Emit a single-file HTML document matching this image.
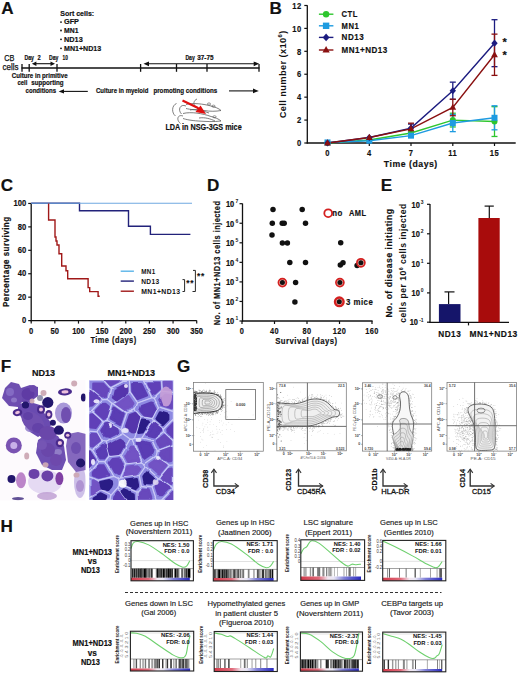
<!DOCTYPE html>
<html><head><meta charset="utf-8"><style>
html,body{margin:0;padding:0;background:#fff;}
svg{display:block;font-family:"Liberation Sans", sans-serif;}
</style></head><body>
<svg width="520" height="674" viewBox="0 0 520 674">
<rect width="520" height="674" fill="#fff"/>
<text x="1.2" y="14" font-size="17.1" font-weight="bold" text-anchor="start" fill="#111" stroke="#111" stroke-width="0.18">A</text>
<text x="269.5" y="13.6" font-size="17.1" font-weight="bold" text-anchor="start" fill="#111" stroke="#111" stroke-width="0.18">B</text>
<text x="0.8" y="191.3" font-size="17.1" font-weight="bold" text-anchor="start" fill="#111" stroke="#111" stroke-width="0.18">C</text>
<text x="207" y="191.3" font-size="17.1" font-weight="bold" text-anchor="start" fill="#111" stroke="#111" stroke-width="0.18">D</text>
<text x="380.8" y="191.1" font-size="17.1" font-weight="bold" text-anchor="start" fill="#111" stroke="#111" stroke-width="0.18">E</text>
<text x="0.8" y="371.5" font-size="17.1" font-weight="bold" text-anchor="start" fill="#111" stroke="#111" stroke-width="0.18">F</text>
<text x="177" y="371.5" font-size="17.1" font-weight="bold" text-anchor="start" fill="#111" stroke="#111" stroke-width="0.18">G</text>
<text x="0.5" y="532.2" font-size="17.1" font-weight="bold" text-anchor="start" fill="#111" stroke="#111" stroke-width="0.18">H</text>
<text x="60.2" y="16" font-size="7.6" font-weight="bold" text-anchor="start" fill="#111" stroke="#111" stroke-width="0.18" textLength="34" lengthAdjust="spacingAndGlyphs">Sort cells:</text>
<circle cx="61.0" cy="22.099999999999998" r="0.9" fill="#111"/>
<text x="64" y="24.4" font-size="7.6" font-weight="bold" text-anchor="start" fill="#111" stroke="#111" stroke-width="0.18" textLength="15" lengthAdjust="spacingAndGlyphs">GFP</text>
<circle cx="61.0" cy="30.499999999999996" r="0.9" fill="#111"/>
<text x="64" y="32.8" font-size="7.6" font-weight="bold" text-anchor="start" fill="#111" stroke="#111" stroke-width="0.18" textLength="14.5" lengthAdjust="spacingAndGlyphs">MN1</text>
<circle cx="61.0" cy="39.300000000000004" r="0.9" fill="#111"/>
<text x="64" y="41.6" font-size="7.6" font-weight="bold" text-anchor="start" fill="#111" stroke="#111" stroke-width="0.18" textLength="18.7" lengthAdjust="spacingAndGlyphs">ND13</text>
<circle cx="61.0" cy="48.300000000000004" r="0.9" fill="#111"/>
<text x="64" y="50.6" font-size="7.6" font-weight="bold" text-anchor="start" fill="#111" stroke="#111" stroke-width="0.18" textLength="37.2" lengthAdjust="spacingAndGlyphs">MN1+ND13</text>
<text x="4.3" y="60.7" font-size="8.8" font-weight="normal" text-anchor="start" fill="#111" stroke="#111" stroke-width="0.25" textLength="10.2" lengthAdjust="spacingAndGlyphs">CB</text>
<text x="2.6" y="69.5" font-size="8.8" font-weight="normal" text-anchor="start" fill="#111" stroke="#111" stroke-width="0.25" textLength="16" lengthAdjust="spacingAndGlyphs">cells</text>
<line x1="21.5" y1="68" x2="259.5" y2="68" stroke="#111" stroke-width="1.6"/>
<line x1="22" y1="64" x2="22" y2="71.8" stroke="#111" stroke-width="1.3"/>
<line x1="29.2" y1="64" x2="29.2" y2="71.8" stroke="#111" stroke-width="1.3"/>
<line x1="57" y1="64" x2="57" y2="71.8" stroke="#111" stroke-width="1.3"/>
<line x1="140.6" y1="64" x2="140.6" y2="71.8" stroke="#111" stroke-width="1.3"/>
<line x1="176.5" y1="64" x2="176.5" y2="71.8" stroke="#111" stroke-width="1.3"/>
<line x1="207" y1="64" x2="207" y2="71.8" stroke="#111" stroke-width="1.3"/>
<line x1="259" y1="64" x2="259" y2="71.8" stroke="#111" stroke-width="1.3"/>
<text x="24.4" y="59.8" font-size="6.6" font-weight="bold" text-anchor="start" fill="#111" stroke="#111" stroke-width="0.18" textLength="9.6" lengthAdjust="spacingAndGlyphs">Day</text>
<text x="37.6" y="59.8" font-size="6.6" font-weight="bold" text-anchor="start" fill="#111" stroke="#111" stroke-width="0.18" textLength="3.2" lengthAdjust="spacingAndGlyphs">2</text>
<text x="49" y="59.8" font-size="6.6" font-weight="bold" text-anchor="start" fill="#111" stroke="#111" stroke-width="0.18" textLength="9.4" lengthAdjust="spacingAndGlyphs">Day</text>
<text x="62.5" y="59.8" font-size="6.6" font-weight="bold" text-anchor="start" fill="#111" stroke="#111" stroke-width="0.18" textLength="5.4" lengthAdjust="spacingAndGlyphs">10</text>
<text x="185.4" y="60.4" font-size="6.6" font-weight="bold" text-anchor="start" fill="#111" stroke="#111" stroke-width="0.18" textLength="9.4" lengthAdjust="spacingAndGlyphs">Day</text>
<text x="197.2" y="60.4" font-size="6.6" font-weight="bold" text-anchor="start" fill="#111" stroke="#111" stroke-width="0.18" textLength="16.3" lengthAdjust="spacingAndGlyphs">37-75</text>
<line x1="35.9" y1="63.7" x2="51.0" y2="63.7" stroke="#111" stroke-width="1.1"/>
<path d="M31.9,63.7 L36.4,61.5 L36.4,65.9 Z" fill="#111"/>
<path d="M55,63.7 L50.5,61.5 L50.5,65.9 Z" fill="#111"/>
<line x1="148.5" y1="63.8" x2="254.2" y2="63.8" stroke="#111" stroke-width="1.1"/>
<path d="M143.5,63.8 L149.0,61.4 L149.0,66.2 Z" fill="#111"/>
<path d="M259.2,63.8 L253.7,61.4 L253.7,66.2 Z" fill="#111"/>
<text x="11.8" y="78.2" font-size="6.6" font-weight="bold" text-anchor="start" fill="#111" stroke="#111" stroke-width="0.18" textLength="55.8" lengthAdjust="spacingAndGlyphs">Culture in primitive</text>
<text x="17.5" y="85.2" font-size="6.6" font-weight="bold" text-anchor="start" fill="#111" stroke="#111" stroke-width="0.18" textLength="9.8" lengthAdjust="spacingAndGlyphs">cell</text>
<text x="31.3" y="85.2" font-size="6.6" font-weight="bold" text-anchor="start" fill="#111" stroke="#111" stroke-width="0.18" textLength="32.3" lengthAdjust="spacingAndGlyphs">supporting</text>
<text x="25.6" y="92.8" font-size="6.6" font-weight="bold" text-anchor="start" fill="#111" stroke="#111" stroke-width="0.18" textLength="30.5" lengthAdjust="spacingAndGlyphs">conditions</text>
<line x1="63" y1="91.4" x2="87.8" y2="91.4" stroke="#111" stroke-width="1.1"/>
<path d="M58.6,91.4 L64,89.2 L64,93.6 Z" fill="#111"/>
<text x="96.0" y="92.6" font-size="6.6" font-weight="bold" text-anchor="start" fill="#111" stroke="#111" stroke-width="0.18" textLength="52.3" lengthAdjust="spacingAndGlyphs">Culture in myeloid</text>
<text x="153.4" y="92.6" font-size="6.6" font-weight="bold" text-anchor="start" fill="#111" stroke="#111" stroke-width="0.18" textLength="63.8" lengthAdjust="spacingAndGlyphs">promoting conditions</text>
<line x1="229" y1="90.9" x2="254" y2="90.9" stroke="#111" stroke-width="1.1"/>
<path d="M258.8,90.9 L253,88.6 L253,93.2 Z" fill="#111"/>
<text x="165.4" y="129.6" font-size="8.4" font-weight="bold" text-anchor="start" fill="#111" stroke="#111" stroke-width="0.18" textLength="76.3" lengthAdjust="spacingAndGlyphs">LDA in NSG-3GS mice</text>
<path d="M186,104.5 C192,102.5 204,104 211,106 C215,107 219,108.5 221,110.5 C216,111.5 210,111.5 204,110.5 C196,110 190,109.5 186,108.5" stroke="#555" stroke-width="0.75" fill="none"/>
<path d="M183,113.5 C191,111.5 203,113.5 211,116.5 C215,117.5 219,119 221,121 C214,122 206,121.5 198,121 C191,120.5 186,119.5 183,118.5" stroke="#555" stroke-width="0.75" fill="none"/>
<path d="M186,106 C180,103.5 177.5,110 181.5,114" stroke="#555" stroke-width="0.75" fill="none"/>
<path d="M183,116 C177.5,114 176,120 180.5,123.5" stroke="#555" stroke-width="0.75" fill="none"/>
<path d="M176.5,103.5 C171.5,105.5 171.5,113 175.5,116" stroke="#555" stroke-width="0.75" fill="none"/>
<path d="M197,99 C193.5,100.5 193,104 195.5,106.5" stroke="#555" stroke-width="0.75" fill="none"/>
<path d="M190,110 C196,108.5 203,111 209,113" stroke="#555" stroke-width="0.75" fill="none"/>
<path d="M199,118 C205,117 211,119 215,121" stroke="#555" stroke-width="0.75" fill="none"/>
<ellipse cx="213.5" cy="106.2" rx="1.6" ry="1.1" fill="none" stroke="#555" stroke-width="0.6"/>
<ellipse cx="214.5" cy="116.8" rx="1.6" ry="1.1" fill="none" stroke="#555" stroke-width="0.6"/>
<ellipse cx="209" cy="104" rx="1.6" ry="1.1" fill="none" stroke="#555" stroke-width="0.6"/>
<path d="M182.5,100.5 L197,107.5 L201.5,111" stroke="#e01010" stroke-width="2.2" fill="none"/>
<path d="M206,114 L195.5,112 L200.5,105.5 Z" fill="#e01010"/>
<line x1="307.3" y1="5.3" x2="307.3" y2="143.6" stroke="#111" stroke-width="1.3"/>
<line x1="306.7" y1="143.0" x2="515.7" y2="143.0" stroke="#111" stroke-width="1.3"/>
<line x1="304.3" y1="143.0" x2="307.3" y2="143.0" stroke="#111" stroke-width="1.2"/>
<text x="301.6" y="146.2" font-size="9.41" font-weight="bold" text-anchor="end" fill="#111" stroke="#111" stroke-width="0.18" textLength="4.67" lengthAdjust="spacingAndGlyphs" letter-spacing="0.56">0</text>
<line x1="304.3" y1="120.08" x2="307.3" y2="120.08" stroke="#111" stroke-width="1.2"/>
<text x="301.6" y="123.28" font-size="9.41" font-weight="bold" text-anchor="end" fill="#111" stroke="#111" stroke-width="0.18" textLength="4.67" lengthAdjust="spacingAndGlyphs" letter-spacing="0.56">2</text>
<line x1="304.3" y1="97.16" x2="307.3" y2="97.16" stroke="#111" stroke-width="1.2"/>
<text x="301.6" y="100.36" font-size="9.41" font-weight="bold" text-anchor="end" fill="#111" stroke="#111" stroke-width="0.18" textLength="4.67" lengthAdjust="spacingAndGlyphs" letter-spacing="0.56">4</text>
<line x1="304.3" y1="74.24" x2="307.3" y2="74.24" stroke="#111" stroke-width="1.2"/>
<text x="301.6" y="77.44" font-size="9.41" font-weight="bold" text-anchor="end" fill="#111" stroke="#111" stroke-width="0.18" textLength="4.67" lengthAdjust="spacingAndGlyphs" letter-spacing="0.56">6</text>
<line x1="304.3" y1="51.31999999999999" x2="307.3" y2="51.31999999999999" stroke="#111" stroke-width="1.2"/>
<text x="301.6" y="54.519999999999996" font-size="9.41" font-weight="bold" text-anchor="end" fill="#111" stroke="#111" stroke-width="0.18" textLength="4.67" lengthAdjust="spacingAndGlyphs" letter-spacing="0.56">8</text>
<line x1="304.3" y1="28.39999999999999" x2="307.3" y2="28.39999999999999" stroke="#111" stroke-width="1.2"/>
<text x="301.6" y="31.59999999999999" font-size="9.41" font-weight="bold" text-anchor="end" fill="#111" stroke="#111" stroke-width="0.18" textLength="9.34" lengthAdjust="spacingAndGlyphs" letter-spacing="0.56">10</text>
<line x1="304.3" y1="5.47999999999999" x2="307.3" y2="5.47999999999999" stroke="#111" stroke-width="1.2"/>
<text x="301.6" y="8.679999999999989" font-size="9.41" font-weight="bold" text-anchor="end" fill="#111" stroke="#111" stroke-width="0.18" textLength="9.34" lengthAdjust="spacingAndGlyphs" letter-spacing="0.56">12</text>
<line x1="327.5" y1="143.0" x2="327.5" y2="146.0" stroke="#111" stroke-width="1.2"/>
<text x="327.5" y="156.4" font-size="9.41" font-weight="bold" text-anchor="middle" fill="#111" stroke="#111" stroke-width="0.18" textLength="4.67" lengthAdjust="spacingAndGlyphs" letter-spacing="0.56">0</text>
<line x1="369.3" y1="143.0" x2="369.3" y2="146.0" stroke="#111" stroke-width="1.2"/>
<text x="369.3" y="156.4" font-size="9.41" font-weight="bold" text-anchor="middle" fill="#111" stroke="#111" stroke-width="0.18" textLength="4.67" lengthAdjust="spacingAndGlyphs" letter-spacing="0.56">4</text>
<line x1="411.0" y1="143.0" x2="411.0" y2="146.0" stroke="#111" stroke-width="1.2"/>
<text x="411.0" y="156.4" font-size="9.41" font-weight="bold" text-anchor="middle" fill="#111" stroke="#111" stroke-width="0.18" textLength="4.67" lengthAdjust="spacingAndGlyphs" letter-spacing="0.56">7</text>
<line x1="452.8" y1="143.0" x2="452.8" y2="146.0" stroke="#111" stroke-width="1.2"/>
<text x="452.8" y="156.4" font-size="9.41" font-weight="bold" text-anchor="middle" fill="#111" stroke="#111" stroke-width="0.18" textLength="8.88" lengthAdjust="spacingAndGlyphs" letter-spacing="0.56">11</text>
<line x1="494.5" y1="143.0" x2="494.5" y2="146.0" stroke="#111" stroke-width="1.2"/>
<text x="494.5" y="156.4" font-size="9.41" font-weight="bold" text-anchor="middle" fill="#111" stroke="#111" stroke-width="0.18" textLength="9.34" lengthAdjust="spacingAndGlyphs" letter-spacing="0.56">15</text>
<text x="383.8" y="166.7" font-size="9.66" font-weight="bold" text-anchor="start" fill="#111" stroke="#111" stroke-width="0.18" textLength="54" lengthAdjust="spacingAndGlyphs" letter-spacing="0.58">Time (days)</text>
<text x="285.6" y="118.3" font-size="9.4" font-weight="bold" fill="#111" transform="rotate(-90 285.6 118.3)" textLength="88" lengthAdjust="spacingAndGlyphs" letter-spacing="0.4">Cell number (x10<tspan dy="-3.4" font-size="6">6</tspan><tspan dy="3.4">)</tspan></text>
<polyline points="327.5,143.0 369.3,140.0204 411.0,133.0298 452.8,120.08 494.5,121.5698" fill="none" stroke="#2ec62e" stroke-width="1.4"/>
<line x1="452.8" y1="126.956" x2="452.8" y2="113.204" stroke="#2ec62e" stroke-width="1.3"/>
<line x1="449.8" y1="113.204" x2="455.8" y2="113.204" stroke="#2ec62e" stroke-width="1.3"/>
<line x1="449.8" y1="126.956" x2="455.8" y2="126.956" stroke="#2ec62e" stroke-width="1.3"/>
<line x1="494.5" y1="136.4678" x2="494.5" y2="106.67179999999999" stroke="#2ec62e" stroke-width="1.3"/>
<line x1="491.5" y1="106.67179999999999" x2="497.5" y2="106.67179999999999" stroke="#2ec62e" stroke-width="1.3"/>
<line x1="491.5" y1="136.4678" x2="497.5" y2="136.4678" stroke="#2ec62e" stroke-width="1.3"/>
<polyline points="327.5,142.427 369.3,140.708 411.0,135.6656 452.8,123.0596 494.5,117.788" fill="none" stroke="#1e9be0" stroke-width="1.4"/>
<line x1="452.8" y1="131.6546" x2="452.8" y2="114.46459999999999" stroke="#1e9be0" stroke-width="1.3"/>
<line x1="449.8" y1="114.46459999999999" x2="455.8" y2="114.46459999999999" stroke="#1e9be0" stroke-width="1.3"/>
<line x1="449.8" y1="131.6546" x2="455.8" y2="131.6546" stroke="#1e9be0" stroke-width="1.3"/>
<line x1="494.5" y1="129.821" x2="494.5" y2="105.755" stroke="#1e9be0" stroke-width="1.3"/>
<line x1="491.5" y1="105.755" x2="497.5" y2="105.755" stroke="#1e9be0" stroke-width="1.3"/>
<line x1="491.5" y1="129.821" x2="497.5" y2="129.821" stroke="#1e9be0" stroke-width="1.3"/>
<polyline points="327.5,143.0 369.3,137.4992 411.0,128.102 452.8,90.7424 494.5,43.18339999999998" fill="none" stroke="#1c1c80" stroke-width="1.4"/>
<line x1="411.0" y1="132.113" x2="411.0" y2="124.09100000000001" stroke="#1c1c80" stroke-width="1.3"/>
<line x1="408.0" y1="124.09100000000001" x2="414.0" y2="124.09100000000001" stroke="#1c1c80" stroke-width="1.3"/>
<line x1="408.0" y1="132.113" x2="414.0" y2="132.113" stroke="#1c1c80" stroke-width="1.3"/>
<line x1="452.8" y1="99.3374" x2="452.8" y2="82.1474" stroke="#1c1c80" stroke-width="1.3"/>
<line x1="449.8" y1="82.1474" x2="455.8" y2="82.1474" stroke="#1c1c80" stroke-width="1.3"/>
<line x1="449.8" y1="99.3374" x2="455.8" y2="99.3374" stroke="#1c1c80" stroke-width="1.3"/>
<line x1="494.5" y1="66.67639999999999" x2="494.5" y2="19.69039999999997" stroke="#1c1c80" stroke-width="1.3"/>
<line x1="491.5" y1="19.69039999999997" x2="497.5" y2="19.69039999999997" stroke="#1c1c80" stroke-width="1.3"/>
<line x1="491.5" y1="66.67639999999999" x2="497.5" y2="66.67639999999999" stroke="#1c1c80" stroke-width="1.3"/>
<polyline points="327.5,143.0 369.3,137.4992 411.0,128.9042 452.8,107.47399999999999 494.5,54.757999999999996" fill="none" stroke="#8a1010" stroke-width="1.4"/>
<line x1="411.0" y1="134.6342" x2="411.0" y2="123.1742" stroke="#8a1010" stroke-width="1.3"/>
<line x1="408.0" y1="123.1742" x2="414.0" y2="123.1742" stroke="#8a1010" stroke-width="1.3"/>
<line x1="408.0" y1="134.6342" x2="414.0" y2="134.6342" stroke="#8a1010" stroke-width="1.3"/>
<line x1="452.8" y1="115.7252" x2="452.8" y2="99.22279999999999" stroke="#8a1010" stroke-width="1.3"/>
<line x1="449.8" y1="99.22279999999999" x2="455.8" y2="99.22279999999999" stroke="#8a1010" stroke-width="1.3"/>
<line x1="449.8" y1="115.7252" x2="455.8" y2="115.7252" stroke="#8a1010" stroke-width="1.3"/>
<line x1="494.5" y1="75.386" x2="494.5" y2="34.129999999999995" stroke="#8a1010" stroke-width="1.3"/>
<line x1="491.5" y1="34.129999999999995" x2="497.5" y2="34.129999999999995" stroke="#8a1010" stroke-width="1.3"/>
<line x1="491.5" y1="75.386" x2="497.5" y2="75.386" stroke="#8a1010" stroke-width="1.3"/>
<circle cx="327.5" cy="143.0" r="3.0" fill="#2ec62e"/>
<circle cx="369.3" cy="140.0204" r="3.0" fill="#2ec62e"/>
<circle cx="411.0" cy="133.0298" r="3.0" fill="#2ec62e"/>
<circle cx="452.8" cy="120.08" r="3.0" fill="#2ec62e"/>
<circle cx="494.5" cy="121.5698" r="3.0" fill="#2ec62e"/>
<rect x="324.5" y="139.427" width="6.0" height="6.0" fill="#1e9be0"/>
<rect x="366.3" y="137.708" width="6.0" height="6.0" fill="#1e9be0"/>
<rect x="408.0" y="132.6656" width="6.0" height="6.0" fill="#1e9be0"/>
<rect x="449.8" y="120.0596" width="6.0" height="6.0" fill="#1e9be0"/>
<rect x="491.5" y="114.788" width="6.0" height="6.0" fill="#1e9be0"/>
<path d="M327.5,139.4 L330.7,143.0 L327.5,146.6 L324.3,143.0 Z" fill="#1c1c80"/>
<path d="M369.3,133.8992 L372.5,137.4992 L369.3,141.0992 L366.1,137.4992 Z" fill="#1c1c80"/>
<path d="M411.0,124.50200000000001 L414.2,128.102 L411.0,131.702 L407.8,128.102 Z" fill="#1c1c80"/>
<path d="M452.8,87.14240000000001 L456.0,90.7424 L452.8,94.3424 L449.6,90.7424 Z" fill="#1c1c80"/>
<path d="M494.5,39.583399999999976 L497.7,43.18339999999998 L494.5,46.78339999999998 L491.3,43.18339999999998 Z" fill="#1c1c80"/>
<path d="M327.5,139.2 L330.9,145.4 L324.1,145.4 Z" fill="#8a1010"/>
<path d="M369.3,133.6992 L372.7,139.8992 L365.90000000000003,139.8992 Z" fill="#8a1010"/>
<path d="M411.0,125.1042 L414.4,131.3042 L407.6,131.3042 Z" fill="#8a1010"/>
<path d="M452.8,103.67399999999999 L456.2,109.874 L449.40000000000003,109.874 Z" fill="#8a1010"/>
<path d="M494.5,50.958 L497.9,57.157999999999994 L491.1,57.157999999999994 Z" fill="#8a1010"/>
<text x="504.6" y="46.3" font-size="11.0" font-weight="bold" text-anchor="middle" fill="#111" stroke="#111" stroke-width="0.18">*</text>
<text x="504.6" y="59.4" font-size="11.0" font-weight="bold" text-anchor="middle" fill="#111" stroke="#111" stroke-width="0.18">*</text>
<line x1="318.9" y1="14.2" x2="333.4" y2="14.2" stroke="#2ec62e" stroke-width="1.4"/>
<circle cx="326.1" cy="14.2" r="3.2" fill="#2ec62e"/>
<text x="341.6" y="17.2" font-size="9.43" font-weight="bold" text-anchor="start" fill="#111" stroke="#111" stroke-width="0.18" textLength="16.3" lengthAdjust="spacingAndGlyphs" letter-spacing="0.57">CTL</text>
<line x1="318.9" y1="25.8" x2="333.4" y2="25.8" stroke="#1e9be0" stroke-width="1.4"/>
<rect x="322.90000000000003" y="22.6" width="6.4" height="6.4" fill="#1e9be0"/>
<text x="341.6" y="28.8" font-size="9.43" font-weight="bold" text-anchor="start" fill="#111" stroke="#111" stroke-width="0.18" textLength="17.5" lengthAdjust="spacingAndGlyphs" letter-spacing="0.57">MN1</text>
<line x1="318.9" y1="37.4" x2="333.4" y2="37.4" stroke="#1c1c80" stroke-width="1.4"/>
<path d="M326.1,33.599999999999994 L329.5,37.4 L326.1,41.2 L322.70000000000005,37.4 Z" fill="#1c1c80"/>
<text x="341.6" y="40.4" font-size="9.43" font-weight="bold" text-anchor="start" fill="#111" stroke="#111" stroke-width="0.18" textLength="22.5" lengthAdjust="spacingAndGlyphs" letter-spacing="0.57">ND13</text>
<line x1="318.9" y1="50" x2="333.4" y2="50" stroke="#8a1010" stroke-width="1.4"/>
<path d="M326.1,46.0 L329.7,52.56 L322.50000000000006,52.56 Z" fill="#8a1010"/>
<text x="341.6" y="53.0" font-size="9.43" font-weight="bold" text-anchor="start" fill="#111" stroke="#111" stroke-width="0.18" textLength="46.2" lengthAdjust="spacingAndGlyphs" letter-spacing="0.57">MN1+ND13</text>
<line x1="31.2" y1="203.1" x2="31.2" y2="321.20000000000005" stroke="#111" stroke-width="1.3"/>
<line x1="30.599999999999998" y1="320.6" x2="196.8" y2="320.6" stroke="#111" stroke-width="1.3"/>
<line x1="28.2" y1="320.6" x2="31.2" y2="320.6" stroke="#111" stroke-width="1.2"/>
<text x="26.2" y="323.3" font-size="9.43" font-weight="bold" text-anchor="end" fill="#111" stroke="#111" stroke-width="0.18" textLength="4.24" lengthAdjust="spacingAndGlyphs" letter-spacing="0">0</text>
<line x1="28.2" y1="297.17" x2="31.2" y2="297.17" stroke="#111" stroke-width="1.2"/>
<text x="26.2" y="299.87" font-size="9.43" font-weight="bold" text-anchor="end" fill="#111" stroke="#111" stroke-width="0.18" textLength="8.48" lengthAdjust="spacingAndGlyphs" letter-spacing="0">20</text>
<line x1="28.2" y1="273.74" x2="31.2" y2="273.74" stroke="#111" stroke-width="1.2"/>
<text x="26.2" y="276.44" font-size="9.43" font-weight="bold" text-anchor="end" fill="#111" stroke="#111" stroke-width="0.18" textLength="8.48" lengthAdjust="spacingAndGlyphs" letter-spacing="0">40</text>
<line x1="28.2" y1="250.31000000000003" x2="31.2" y2="250.31000000000003" stroke="#111" stroke-width="1.2"/>
<text x="26.2" y="253.01000000000002" font-size="9.43" font-weight="bold" text-anchor="end" fill="#111" stroke="#111" stroke-width="0.18" textLength="8.48" lengthAdjust="spacingAndGlyphs" letter-spacing="0">60</text>
<line x1="28.2" y1="226.88000000000002" x2="31.2" y2="226.88000000000002" stroke="#111" stroke-width="1.2"/>
<text x="26.2" y="229.58" font-size="9.43" font-weight="bold" text-anchor="end" fill="#111" stroke="#111" stroke-width="0.18" textLength="8.48" lengthAdjust="spacingAndGlyphs" letter-spacing="0">80</text>
<line x1="28.2" y1="203.45000000000002" x2="31.2" y2="203.45000000000002" stroke="#111" stroke-width="1.2"/>
<text x="26.2" y="206.15" font-size="9.43" font-weight="bold" text-anchor="end" fill="#111" stroke="#111" stroke-width="0.18" textLength="12.72" lengthAdjust="spacingAndGlyphs" letter-spacing="0">100</text>
<line x1="31.2" y1="320.6" x2="31.2" y2="323.6" stroke="#111" stroke-width="1.2"/>
<text x="31.2" y="333.5" font-size="9.43" font-weight="bold" text-anchor="middle" fill="#111" stroke="#111" stroke-width="0.18" textLength="4.24" lengthAdjust="spacingAndGlyphs" letter-spacing="0">0</text>
<line x1="54.845" y1="320.6" x2="54.845" y2="323.6" stroke="#111" stroke-width="1.2"/>
<text x="54.845" y="333.5" font-size="9.43" font-weight="bold" text-anchor="middle" fill="#111" stroke="#111" stroke-width="0.18" textLength="8.48" lengthAdjust="spacingAndGlyphs" letter-spacing="0">50</text>
<line x1="78.49" y1="320.6" x2="78.49" y2="323.6" stroke="#111" stroke-width="1.2"/>
<text x="78.49" y="333.5" font-size="9.43" font-weight="bold" text-anchor="middle" fill="#111" stroke="#111" stroke-width="0.18" textLength="12.72" lengthAdjust="spacingAndGlyphs" letter-spacing="0">100</text>
<line x1="102.135" y1="320.6" x2="102.135" y2="323.6" stroke="#111" stroke-width="1.2"/>
<text x="102.135" y="333.5" font-size="9.43" font-weight="bold" text-anchor="middle" fill="#111" stroke="#111" stroke-width="0.18" textLength="12.72" lengthAdjust="spacingAndGlyphs" letter-spacing="0">150</text>
<line x1="125.78" y1="320.6" x2="125.78" y2="323.6" stroke="#111" stroke-width="1.2"/>
<text x="125.78" y="333.5" font-size="9.43" font-weight="bold" text-anchor="middle" fill="#111" stroke="#111" stroke-width="0.18" textLength="12.72" lengthAdjust="spacingAndGlyphs" letter-spacing="0">200</text>
<line x1="149.42499999999998" y1="320.6" x2="149.42499999999998" y2="323.6" stroke="#111" stroke-width="1.2"/>
<text x="149.42499999999998" y="333.5" font-size="9.43" font-weight="bold" text-anchor="middle" fill="#111" stroke="#111" stroke-width="0.18" textLength="12.72" lengthAdjust="spacingAndGlyphs" letter-spacing="0">250</text>
<line x1="173.07" y1="320.6" x2="173.07" y2="323.6" stroke="#111" stroke-width="1.2"/>
<text x="173.07" y="333.5" font-size="9.43" font-weight="bold" text-anchor="middle" fill="#111" stroke="#111" stroke-width="0.18" textLength="12.72" lengthAdjust="spacingAndGlyphs" letter-spacing="0">300</text>
<line x1="196.71499999999997" y1="320.6" x2="196.71499999999997" y2="323.6" stroke="#111" stroke-width="1.2"/>
<text x="196.71499999999997" y="333.5" font-size="9.43" font-weight="bold" text-anchor="middle" fill="#111" stroke="#111" stroke-width="0.18" textLength="12.72" lengthAdjust="spacingAndGlyphs" letter-spacing="0">350</text>
<text x="90.4" y="342.7" font-size="9.41" font-weight="bold" text-anchor="start" fill="#111" stroke="#111" stroke-width="0.18" textLength="46.2" lengthAdjust="spacingAndGlyphs" letter-spacing="0.56">Time (days)</text>
<text x="9.4" y="307.0" font-size="9.18" font-weight="bold" text-anchor="start" fill="#111" stroke="#111" stroke-width="0.18" textLength="90.6" lengthAdjust="spacingAndGlyphs" letter-spacing="0.55" transform="rotate(-90 9.4 307.0)">Percentage surviving</text>
<path d="M31.2,203.3 L79.5,203.3 L79.5,210.8 L128.5,210.8 L128.5,226.3 L150.4,226.3 L150.4,234.4 L190.4,234.4" stroke="#22227a" stroke-width="1.4" fill="none"/>
<path d="M31.2,203.3 L192,203.3" stroke="#6fa8e0" stroke-width="1.1" fill="none"/>
<path d="M48.6,203.4 L48.6,220 L55,220 L55,237 L56,237 L56,241 L57,241 L57,245 L59,245 L59,253.7 L61.7,253.7 L61.7,266 L66,266 L66,270.7 L67.7,270.7 L67.7,278.8 L88.1,278.8 L88.1,287.6 L89.7,287.6 L89.7,291.6 L98.1,291.6 L98.1,296.2 L99.7,296.2" stroke="#a01818" stroke-width="1.4" fill="none"/>
<line x1="120.7" y1="271.2" x2="133.9" y2="271.2" stroke="#5ab4e8" stroke-width="1.4"/>
<text x="141.2" y="273.7" font-size="7.82" font-weight="bold" text-anchor="start" fill="#111" textLength="14.5" lengthAdjust="spacingAndGlyphs" letter-spacing="0.47">MN1</text>
<line x1="120.7" y1="281.1" x2="133.9" y2="281.1" stroke="#22227a" stroke-width="1.4"/>
<text x="141.2" y="283.6" font-size="7.82" font-weight="bold" text-anchor="start" fill="#111" textLength="18.5" lengthAdjust="spacingAndGlyphs" letter-spacing="0.47">ND13</text>
<line x1="120.7" y1="291.2" x2="133.9" y2="291.2" stroke="#a01818" stroke-width="1.4"/>
<text x="141.2" y="293.7" font-size="7.82" font-weight="bold" text-anchor="start" fill="#111" textLength="39.4" lengthAdjust="spacingAndGlyphs" letter-spacing="0.47">MN1+ND13</text>
<path d="M182.5,279.6 L184.6,279.6 L184.6,291.5 L182.5,291.5" stroke="#111" stroke-width="0.9" fill="none"/>
<path d="M193,270.4 L195.4,270.4 L195.4,291.5 L192.5,291.5" stroke="#111" stroke-width="0.9" fill="none"/>
<text x="187.9" y="286.4" font-size="8.4" font-weight="bold" text-anchor="middle" fill="#111" stroke="#111" stroke-width="0.1">*</text>
<text x="191.9" y="286.4" font-size="8.4" font-weight="bold" text-anchor="middle" fill="#111" stroke="#111" stroke-width="0.1">*</text>
<text x="198.6" y="278.6" font-size="8.4" font-weight="bold" text-anchor="middle" fill="#111" stroke="#111" stroke-width="0.1">*</text>
<text x="202.6" y="278.6" font-size="8.4" font-weight="bold" text-anchor="middle" fill="#111" stroke="#111" stroke-width="0.1">*</text>
<line x1="242.5" y1="203.5" x2="242.5" y2="321.6" stroke="#111" stroke-width="1.3"/>
<line x1="241.9" y1="321.0" x2="372.6" y2="321.0" stroke="#111" stroke-width="1.3"/>
<line x1="239.5" y1="203.7" x2="242.5" y2="203.7" stroke="#111" stroke-width="1.2"/>
<text x="234.2" y="206.95" font-size="9" font-weight="bold" fill="#111" stroke="#111" stroke-width="0.22" text-anchor="end" textLength="8.3" lengthAdjust="spacingAndGlyphs">10</text>
<text x="238.2" y="203.1" font-size="5" font-weight="bold" fill="#222" text-anchor="end">7</text>
<line x1="239.5" y1="223.25" x2="242.5" y2="223.25" stroke="#111" stroke-width="1.2"/>
<text x="234.2" y="226.5" font-size="9" font-weight="bold" fill="#111" stroke="#111" stroke-width="0.22" text-anchor="end" textLength="8.3" lengthAdjust="spacingAndGlyphs">10</text>
<text x="238.2" y="222.65" font-size="5" font-weight="bold" fill="#222" text-anchor="end">6</text>
<line x1="239.5" y1="242.79999999999998" x2="242.5" y2="242.79999999999998" stroke="#111" stroke-width="1.2"/>
<text x="234.2" y="246.04999999999998" font-size="9" font-weight="bold" fill="#111" stroke="#111" stroke-width="0.22" text-anchor="end" textLength="8.3" lengthAdjust="spacingAndGlyphs">10</text>
<text x="238.2" y="242.2" font-size="5" font-weight="bold" fill="#222" text-anchor="end">5</text>
<line x1="239.5" y1="262.35" x2="242.5" y2="262.35" stroke="#111" stroke-width="1.2"/>
<text x="234.2" y="265.6" font-size="9" font-weight="bold" fill="#111" stroke="#111" stroke-width="0.22" text-anchor="end" textLength="8.3" lengthAdjust="spacingAndGlyphs">10</text>
<text x="238.2" y="261.75" font-size="5" font-weight="bold" fill="#222" text-anchor="end">4</text>
<line x1="239.5" y1="281.9" x2="242.5" y2="281.9" stroke="#111" stroke-width="1.2"/>
<text x="234.2" y="285.15" font-size="9" font-weight="bold" fill="#111" stroke="#111" stroke-width="0.22" text-anchor="end" textLength="8.3" lengthAdjust="spacingAndGlyphs">10</text>
<text x="238.2" y="281.29999999999995" font-size="5" font-weight="bold" fill="#222" text-anchor="end">3</text>
<line x1="239.5" y1="301.45" x2="242.5" y2="301.45" stroke="#111" stroke-width="1.2"/>
<text x="234.2" y="304.7" font-size="9" font-weight="bold" fill="#111" stroke="#111" stroke-width="0.22" text-anchor="end" textLength="8.3" lengthAdjust="spacingAndGlyphs">10</text>
<text x="238.2" y="300.84999999999997" font-size="5" font-weight="bold" fill="#222" text-anchor="end">2</text>
<line x1="239.5" y1="321.0" x2="242.5" y2="321.0" stroke="#111" stroke-width="1.2"/>
<text x="234.2" y="324.25" font-size="9" font-weight="bold" fill="#111" stroke="#111" stroke-width="0.22" text-anchor="end" textLength="8.3" lengthAdjust="spacingAndGlyphs">10</text>
<text x="238.2" y="320.4" font-size="5" font-weight="bold" fill="#222" text-anchor="end">1</text>
<line x1="242.0" y1="321.0" x2="242.0" y2="324.0" stroke="#111" stroke-width="1.2"/>
<text x="242.0" y="333.7" font-size="9.51" font-weight="bold" text-anchor="middle" fill="#111" stroke="#111" stroke-width="0.18" textLength="4.56" lengthAdjust="spacingAndGlyphs" letter-spacing="0.57">0</text>
<line x1="274.5" y1="321.0" x2="274.5" y2="324.0" stroke="#111" stroke-width="1.2"/>
<text x="274.5" y="333.7" font-size="9.51" font-weight="bold" text-anchor="middle" fill="#111" stroke="#111" stroke-width="0.18" textLength="9.12" lengthAdjust="spacingAndGlyphs" letter-spacing="0.57">40</text>
<line x1="307.0" y1="321.0" x2="307.0" y2="324.0" stroke="#111" stroke-width="1.2"/>
<text x="307.0" y="333.7" font-size="9.51" font-weight="bold" text-anchor="middle" fill="#111" stroke="#111" stroke-width="0.18" textLength="9.12" lengthAdjust="spacingAndGlyphs" letter-spacing="0.57">80</text>
<line x1="339.5" y1="321.0" x2="339.5" y2="324.0" stroke="#111" stroke-width="1.2"/>
<text x="339.5" y="333.7" font-size="9.51" font-weight="bold" text-anchor="middle" fill="#111" stroke="#111" stroke-width="0.18" textLength="13.68" lengthAdjust="spacingAndGlyphs" letter-spacing="0.57">120</text>
<line x1="372.0" y1="321.0" x2="372.0" y2="324.0" stroke="#111" stroke-width="1.2"/>
<text x="372.0" y="333.7" font-size="9.51" font-weight="bold" text-anchor="middle" fill="#111" stroke="#111" stroke-width="0.18" textLength="13.68" lengthAdjust="spacingAndGlyphs" letter-spacing="0.57">160</text>
<text x="275.2" y="344.4" font-size="9.63" font-weight="bold" text-anchor="start" fill="#111" stroke="#111" stroke-width="0.18" textLength="62.4" lengthAdjust="spacingAndGlyphs" letter-spacing="0.58">Survival (days)</text>
<text x="220.4" y="325.2" font-size="9.18" font-weight="bold" text-anchor="start" fill="#111" stroke="#111" stroke-width="0.18" textLength="124.6" lengthAdjust="spacingAndGlyphs" letter-spacing="0.55" transform="rotate(-90 220.4 325.2)">No. of MN1+ND13 cells injected</text>
<circle cx="273" cy="209.5" r="2.75" fill="#111"/>
<circle cx="302.2" cy="209.5" r="2.75" fill="#111"/>
<circle cx="272.3" cy="223.3" r="2.75" fill="#111"/>
<circle cx="282.2" cy="223.3" r="2.75" fill="#111"/>
<circle cx="284.2" cy="223.3" r="2.75" fill="#111"/>
<circle cx="305.5" cy="223.3" r="2.75" fill="#111"/>
<circle cx="272" cy="235.1" r="2.75" fill="#111"/>
<circle cx="282.4" cy="243" r="2.75" fill="#111"/>
<circle cx="287.4" cy="243" r="2.75" fill="#111"/>
<circle cx="289.8" cy="262.5" r="2.75" fill="#111"/>
<circle cx="305.5" cy="262.5" r="2.75" fill="#111"/>
<circle cx="295.6" cy="282.6" r="2.75" fill="#111"/>
<circle cx="294.9" cy="302.1" r="2.75" fill="#111"/>
<circle cx="340.7" cy="242.8" r="2.75" fill="#111"/>
<circle cx="340.3" cy="265" r="2.75" fill="#111"/>
<circle cx="343" cy="262.8" r="2.75" fill="#111"/>
<circle cx="357.1" cy="265.5" r="2.75" fill="#111"/>
<circle cx="282.4" cy="282.6" r="4.0" fill="#e8b0a8" stroke="#d42020" stroke-width="1.7"/>
<circle cx="282.4" cy="282.6" r="2.5" fill="#111"/>
<circle cx="360.9" cy="262.8" r="4.0" fill="#e8b0a8" stroke="#d42020" stroke-width="1.7"/>
<circle cx="360.9" cy="262.8" r="2.5" fill="#111"/>
<circle cx="339.9" cy="282.6" r="4.0" fill="#e8b0a8" stroke="#d42020" stroke-width="1.7"/>
<circle cx="339.9" cy="282.6" r="2.5" fill="#111"/>
<circle cx="339.3" cy="301.8" r="4.3" fill="#e8b0a8" stroke="#d42020" stroke-width="2.4"/>
<circle cx="339.3" cy="301.8" r="2.5" fill="#111"/>
<circle cx="328.2" cy="213.2" r="3.9" fill="none" stroke="#d42020" stroke-width="1.8"/>
<text x="332.2" y="216.1" font-size="8.96" font-weight="bold" text-anchor="start" fill="#111" stroke="#111" stroke-width="0.18" textLength="10.6" lengthAdjust="spacingAndGlyphs" letter-spacing="0.54">no</text>
<text x="349.0" y="216.1" font-size="8.96" font-weight="bold" text-anchor="start" fill="#111" stroke="#111" stroke-width="0.18" textLength="17.5" lengthAdjust="spacingAndGlyphs" letter-spacing="0.54">AML</text>
<text x="346.0" y="305.2" font-size="9.5" font-weight="bold" text-anchor="start" fill="#111" stroke="#111" stroke-width="0.18" textLength="27.3" lengthAdjust="spacingAndGlyphs" letter-spacing="0.57">3 mice</text>
<line x1="430.0" y1="204.0" x2="430.0" y2="323.0" stroke="#111" stroke-width="1.3"/>
<line x1="429.4" y1="322.4" x2="509" y2="322.4" stroke="#111" stroke-width="1.3"/>
<line x1="427" y1="204.3" x2="430.0" y2="204.3" stroke="#111" stroke-width="1.2"/>
<text x="419.8" y="207.55" font-size="9" font-weight="bold" fill="#111" stroke="#111" stroke-width="0.22" text-anchor="end" textLength="8.3" lengthAdjust="spacingAndGlyphs">10</text>
<text x="423.6" y="203.70000000000002" font-size="5" font-weight="bold" fill="#222" text-anchor="end">3</text>
<line x1="427" y1="233.8" x2="430.0" y2="233.8" stroke="#111" stroke-width="1.2"/>
<text x="419.8" y="237.05" font-size="9" font-weight="bold" fill="#111" stroke="#111" stroke-width="0.22" text-anchor="end" textLength="8.3" lengthAdjust="spacingAndGlyphs">10</text>
<text x="423.6" y="233.20000000000002" font-size="5" font-weight="bold" fill="#222" text-anchor="end">2</text>
<line x1="427" y1="263.3" x2="430.0" y2="263.3" stroke="#111" stroke-width="1.2"/>
<text x="419.8" y="266.55" font-size="9" font-weight="bold" fill="#111" stroke="#111" stroke-width="0.22" text-anchor="end" textLength="8.3" lengthAdjust="spacingAndGlyphs">10</text>
<text x="423.6" y="262.7" font-size="5" font-weight="bold" fill="#222" text-anchor="end">1</text>
<line x1="427" y1="292.9" x2="430.0" y2="292.9" stroke="#111" stroke-width="1.2"/>
<text x="419.8" y="296.15" font-size="9" font-weight="bold" fill="#111" stroke="#111" stroke-width="0.22" text-anchor="end" textLength="8.3" lengthAdjust="spacingAndGlyphs">10</text>
<text x="423.6" y="292.29999999999995" font-size="5" font-weight="bold" fill="#222" text-anchor="end">0</text>
<line x1="427" y1="322.2" x2="430.0" y2="322.2" stroke="#111" stroke-width="1.2"/>
<text x="418.0" y="325.45" font-size="9" font-weight="bold" fill="#111" stroke="#111" stroke-width="0.22" text-anchor="end" textLength="8.3" lengthAdjust="spacingAndGlyphs">10</text>
<text x="423.6" y="321.59999999999997" font-size="5" font-weight="bold" fill="#222" text-anchor="end">-1</text>
<line x1="468.5" y1="322.4" x2="468.5" y2="325.4" stroke="#111" stroke-width="1.2"/>
<rect x="438.9" y="304.1" width="21.6" height="18.3" fill="#15156a"/>
<line x1="448.6" y1="304.1" x2="448.6" y2="291.9" stroke="#111" stroke-width="1.2"/>
<line x1="444.5" y1="291.9" x2="454.5" y2="291.9" stroke="#111" stroke-width="1.2"/>
<rect x="478.4" y="218" width="21.3" height="104.4" fill="#a80c0c"/>
<line x1="489.3" y1="218" x2="489.3" y2="206.1" stroke="#111" stroke-width="1.2"/>
<line x1="484.6" y1="206.1" x2="493.8" y2="206.1" stroke="#111" stroke-width="1.2"/>
<text x="438.3" y="337.1" font-size="9.86" font-weight="bold" text-anchor="start" fill="#111" stroke="#111" stroke-width="0.18" textLength="22.9" lengthAdjust="spacingAndGlyphs" letter-spacing="0.59">ND13</text>
<text x="469.4" y="337.1" font-size="9.86" font-weight="bold" text-anchor="start" fill="#111" stroke="#111" stroke-width="0.18" textLength="48.4" lengthAdjust="spacingAndGlyphs" letter-spacing="0.59">MN1+ND13</text>
<text x="392.4" y="317.6" font-size="9.18" font-weight="bold" text-anchor="start" fill="#111" stroke="#111" stroke-width="0.18" textLength="109" lengthAdjust="spacingAndGlyphs" letter-spacing="0.55" transform="rotate(-90 392.4 317.6)">No. of disease initiating</text>
<text x="405.9" y="322.8" font-size="9.2" font-weight="bold" fill="#111" transform="rotate(-90 405.9 322.8)" textLength="119.5" lengthAdjust="spacingAndGlyphs" letter-spacing="0.55">cells per 10<tspan dy="-3.3" font-size="5.5">6</tspan><tspan dy="3.3"> cells injected</tspan></text>
<text x="31.9" y="376.0" font-size="8.8" font-weight="bold" text-anchor="start" fill="#111" stroke="#111" stroke-width="0.18" textLength="23.1" lengthAdjust="spacingAndGlyphs">ND13</text>
<text x="107.5" y="376.3" font-size="8.8" font-weight="bold" text-anchor="start" fill="#111" stroke="#111" stroke-width="0.18" textLength="47.5" lengthAdjust="spacingAndGlyphs">MN1+ND13</text>
<defs><filter id="bl1" x="-20%" y="-20%" width="140%" height="140%"><feGaussianBlur stdDeviation="0.7"/></filter><filter id="bl2" x="-5%" y="-5%" width="110%" height="110%"><feTurbulence type="fractalNoise" baseFrequency="0.07" numOctaves="1" seed="3" result="n"/><feDisplacementMap in="SourceGraphic" in2="n" scale="4" xChannelSelector="R" yChannelSelector="G" result="d"/><feGaussianBlur in="d" stdDeviation="0.6"/></filter><clipPath id="cpL"><rect x="0" y="380" width="85.5" height="120.5"/></clipPath><clipPath id="cpR"><rect x="89" y="380.2" width="84.3" height="119.8"/></clipPath></defs>
<g clip-path="url(#cpL)"><g filter="url(#bl1)"><rect x="0" y="380" width="86" height="121" fill="#fdfafd"/><ellipse cx="45" cy="482" rx="17" ry="12" fill="#e4d8f2" opacity="0.95" transform="rotate(0 45 482)"/><ellipse cx="80" cy="482" rx="6" ry="16" fill="#c8b8e6" opacity="0.9" transform="rotate(0 80 482)"/><ellipse cx="63.5" cy="413" rx="8.5" ry="10.5" fill="#a898d8" opacity="1" transform="rotate(0 63.5 413)"/><path d="M68,434 L78,432 L86,434 L86,470 L76,472 L68,462 L66,446 Z" fill="#7e60ba" opacity="0.95"/><ellipse cx="76" cy="448" rx="5" ry="6" fill="#6c4cae" opacity="0.9" transform="rotate(0 76 448)"/><ellipse cx="47" cy="496" rx="10" ry="4" fill="#c0a0d4" opacity="0.85" transform="rotate(0 47 496)"/><path d="M18,404 L30,402 L40,405 L46,416 L52,424 L46,432 L38,437 L30,432 L24,422 L18,412 Z" fill="#6a4cb0" opacity="1"/><path d="M38,440 L48,433 L58,436 L64,446 L66,460 L62,470 L52,470 L42,465 L36,453 Z" fill="#6e50b2" opacity="1"/><ellipse cx="30" cy="428" rx="5" ry="4" fill="#8a74c8" opacity="0.8" transform="rotate(0 30 428)"/><ellipse cx="58" cy="452" rx="4" ry="3" fill="#a090d0" opacity="0.7" transform="rotate(0 58 452)"/><path d="M21,388 L30,385 L38,387 L38,396 L30,402 L22,402 Z" fill="#6a4aae" opacity="1"/><path d="M2,398 L5,388 L11,382 L19,384 L23,392 L22,402 L18,407 L9,406 Z" fill="#6e4eb0" opacity="1"/><ellipse cx="10" cy="392" rx="4" ry="4" fill="#8a72c8" opacity="0.8" transform="rotate(0 10 392)"/><ellipse cx="14" cy="400" rx="3" ry="2.5" fill="#9a86d0" opacity="0.7" transform="rotate(0 14 400)"/><ellipse cx="28" cy="394" rx="6.5" ry="6" fill="#5e3aa4" opacity="1" transform="rotate(0 28 394)"/><ellipse cx="33" cy="388.5" rx="3.5" ry="3.5" fill="#6a46ac" opacity="1" transform="rotate(0 33 388.5)"/><ellipse cx="33" cy="422" rx="13" ry="8.5" fill="#7050b0" opacity="1" transform="rotate(40 33 422)"/><ellipse cx="28" cy="416" rx="5" ry="4" fill="#6040a6" opacity="1" transform="rotate(0 28 416)"/><ellipse cx="38" cy="428" rx="6" ry="5" fill="#6442a8" opacity="1" transform="rotate(0 38 428)"/><ellipse cx="48" cy="433" rx="9" ry="7" fill="#6a46aa" opacity="1" transform="rotate(0 48 433)"/><ellipse cx="66" cy="415" rx="5" ry="8" fill="#7050b0" opacity="1" transform="rotate(0 66 415)"/><ellipse cx="48" cy="450" rx="7" ry="7" fill="#6a46aa" opacity="1" transform="rotate(0 48 450)"/><ellipse cx="56" cy="460" rx="6" ry="6" fill="#6e4aac" opacity="1" transform="rotate(0 56 460)"/><ellipse cx="42" cy="445" rx="5" ry="5" fill="#7454b4" opacity="1" transform="rotate(0 42 445)"/><ellipse cx="13.8" cy="445.4" rx="8" ry="8" fill="#7a52b2" opacity="1" transform="rotate(0 13.8 445.4)"/><ellipse cx="13.8" cy="445.4" rx="3.5" ry="3.5" fill="#c8b0e8" opacity="1" transform="rotate(0 13.8 445.4)"/><ellipse cx="34" cy="473.9" rx="5.5" ry="5" fill="#6a40a8" opacity="1" transform="rotate(0 34 473.9)"/><ellipse cx="47.4" cy="475.9" rx="6" ry="5.5" fill="#6a40a8" opacity="1" transform="rotate(0 47.4 475.9)"/><ellipse cx="59.4" cy="478.6" rx="4" ry="6.5" fill="#8040a4" opacity="1" transform="rotate(0 59.4 478.6)"/><ellipse cx="21" cy="480.3" rx="5" ry="8" fill="#b070c0" opacity="0.85" transform="rotate(0 21 480.3)"/><ellipse cx="80" cy="486" rx="4" ry="6" fill="#a888cc" opacity="0.8" transform="rotate(0 80 486)"/><ellipse cx="47.8" cy="402.5" rx="5.6" ry="5.4" fill="#22146c" opacity="1" transform="rotate(0 47.8 402.5)"/><ellipse cx="25.5" cy="405" rx="3.6" ry="3.6" fill="#22146c" opacity="1" transform="rotate(0 25.5 405)"/><ellipse cx="52.9" cy="422.8" rx="3" ry="3" fill="#22146c" opacity="1" transform="rotate(0 52.9 422.8)"/><ellipse cx="58.9" cy="430.2" rx="5" ry="4.6" fill="#22146c" opacity="1" transform="rotate(0 58.9 430.2)"/><ellipse cx="80.6" cy="463" rx="4.6" ry="4.4" fill="#22146c" opacity="1" transform="rotate(0 80.6 463)"/><ellipse cx="11.5" cy="479" rx="4" ry="4" fill="#22146c" opacity="1" transform="rotate(0 11.5 479)"/><ellipse cx="83.4" cy="397.4" rx="2.5" ry="4" fill="#22146c" opacity="1" transform="rotate(0 83.4 397.4)"/><ellipse cx="17.5" cy="412.5" rx="4.8" ry="3.6" fill="#4a2a8c" opacity="1" transform="rotate(-10 17.5 412.5)"/><ellipse cx="17.5" cy="412.5" rx="2.4" ry="1.62" fill="#ecc0dc" opacity="1" transform="rotate(-10 17.5 412.5)"/><ellipse cx="41" cy="409.5" rx="4" ry="4.2" fill="#4a2a8c" opacity="1" transform="rotate(0 41 409.5)"/><ellipse cx="41" cy="409.5" rx="2.0" ry="1.8900000000000001" fill="#ecc0dc" opacity="1" transform="rotate(0 41 409.5)"/><ellipse cx="48.8" cy="414.5" rx="3.6" ry="4.6" fill="#4a2a8c" opacity="1" transform="rotate(0 48.8 414.5)"/><ellipse cx="48.8" cy="414.5" rx="1.8" ry="2.07" fill="#ecc0dc" opacity="1" transform="rotate(0 48.8 414.5)"/><ellipse cx="65" cy="391.9" rx="7" ry="3.5" fill="#4a2a8c" opacity="1" transform="rotate(-4 65 391.9)"/><ellipse cx="65" cy="391.9" rx="3.5" ry="1.575" fill="#ecc0dc" opacity="1" transform="rotate(-4 65 391.9)"/><ellipse cx="59.9" cy="443" rx="4.2" ry="4.2" fill="#4a2a8c" opacity="1" transform="rotate(0 59.9 443)"/><ellipse cx="59.9" cy="443" rx="2.1" ry="1.8900000000000001" fill="#ecc0dc" opacity="1" transform="rotate(0 59.9 443)"/><ellipse cx="67.7" cy="435.2" rx="3.5" ry="3.5" fill="#4a2a8c" opacity="1" transform="rotate(0 67.7 435.2)"/><ellipse cx="67.7" cy="435.2" rx="1.75" ry="1.575" fill="#ecc0dc" opacity="1" transform="rotate(0 67.7 435.2)"/><ellipse cx="43.5" cy="393" rx="3" ry="3" fill="#cca8b4" opacity="0.95" transform="rotate(0 43.5 393)"/><ellipse cx="74.2" cy="383.5" rx="3" ry="3" fill="#cca8b4" opacity="0.95" transform="rotate(0 74.2 383.5)"/><ellipse cx="26.7" cy="456" rx="2.5" ry="3.5" fill="#cca8b4" opacity="0.95" transform="rotate(0 26.7 456)"/><ellipse cx="45.5" cy="464.8" rx="3" ry="2.6" fill="#cca8b4" opacity="0.95" transform="rotate(0 45.5 464.8)"/><ellipse cx="76.5" cy="475" rx="3" ry="2.6" fill="#cca8b4" opacity="0.95" transform="rotate(0 76.5 475)"/><ellipse cx="32" cy="401" rx="2.5" ry="2.5" fill="#cca8b4" opacity="0.95" transform="rotate(0 32 401)"/><ellipse cx="40" cy="398" rx="3" ry="3" fill="#8888a8" opacity="0.9" transform="rotate(0 40 398)"/><ellipse cx="18" cy="498.7" rx="6" ry="1.6" fill="#5a4890" opacity="0.95" transform="rotate(0 18 498.7)"/></g></g>
<g clip-path="url(#cpR)"><rect x="89" y="380" width="85" height="121" fill="#b4b2ee"/><g filter="url(#bl2)"><rect x="89" y="380" width="85" height="121" fill="#c6c4f2"/><path d="M110.6,387.8 L103.7,380.2 L89.0,380.2 L89.0,388.5 L102.9,399.9 L108.0,399.4 L110.6,387.8 Z" fill="#8e8ae2" stroke="#cacaf6" stroke-width="1.1"/><path d="M113.5,403.6 L129.9,391.8 L129.4,380.2 L125.5,380.2 L110.6,387.8 L108.0,399.4 L113.0,403.5 L113.5,403.6 Z" fill="#8e8ae2" stroke="#cacaf6" stroke-width="1.1"/><path d="M137.7,403.0 L152.0,397.8 L143.3,380.2 L129.4,380.2 L129.9,391.8 L137.7,403.0 Z" fill="#8e8ae2" stroke="#cacaf6" stroke-width="1.1"/><path d="M152.0,397.8 L154.4,398.4 L162.3,391.2 L161.8,380.2 L143.3,380.2 L152.0,397.8 Z" fill="#8e8ae2" stroke="#cacaf6" stroke-width="1.1"/><path d="M126.9,413.0 L135.0,409.9 L137.7,403.0 L129.9,391.8 L113.5,403.6 L126.9,413.0 Z" fill="#8e8ae2" stroke="#cacaf6" stroke-width="1.1"/><path d="M108.0,399.4 L102.9,399.9 L91.8,411.4 L103.3,422.2 L107.1,421.5 L113.0,403.5 L108.0,399.4 Z" fill="#8e8ae2" stroke="#cacaf6" stroke-width="1.1"/><path d="M107.1,421.5 L121.2,429.8 L126.9,413.0 L113.5,403.6 L113.0,403.5 L107.1,421.5 Z" fill="#8e8ae2" stroke="#cacaf6" stroke-width="1.1"/><path d="M152.4,418.7 L158.5,406.8 L154.4,398.4 L152.0,397.8 L137.7,403.0 L135.0,409.9 L141.3,416.9 L152.4,418.7 Z" fill="#8e8ae2" stroke="#cacaf6" stroke-width="1.1"/><path d="M122.7,433.8 L130.1,439.1 L133.2,439.4 L134.5,438.8 L141.3,416.9 L135.0,409.9 L126.9,413.0 L121.2,429.8 L122.7,433.8 Z" fill="#8e8ae2" stroke="#cacaf6" stroke-width="1.1"/><path d="M89.0,411.7 L89.0,431.2 L96.9,431.7 L103.3,422.2 L91.8,411.4 L89.0,411.7 Z" fill="#8e8ae2" stroke="#cacaf6" stroke-width="1.1"/><path d="M103.3,422.2 L96.9,431.7 L102.2,441.3 L106.3,442.3 L122.7,433.8 L121.2,429.8 L107.1,421.5 L103.3,422.2 Z" fill="#8e8ae2" stroke="#cacaf6" stroke-width="1.1"/><path d="M141.7,438.0 L152.4,440.8 L163.7,431.6 L163.6,429.2 L153.3,420.8 L141.7,438.0 Z" fill="#8e8ae2" stroke="#cacaf6" stroke-width="1.1"/><path d="M110.0,456.4 L121.1,455.1 L130.1,439.1 L122.7,433.8 L106.3,442.3 L110.0,456.4 Z" fill="#8e8ae2" stroke="#cacaf6" stroke-width="1.1"/><path d="M91.3,450.3 L98.5,461.6 L105.9,461.7 L110.0,456.4 L106.3,442.3 L102.2,441.3 L91.3,450.3 Z" fill="#8e8ae2" stroke="#cacaf6" stroke-width="1.1"/><path d="M125.6,464.0 L142.2,461.9 L133.2,439.4 L130.1,439.1 L121.1,455.1 L125.6,464.0 Z" fill="#8e8ae2" stroke="#cacaf6" stroke-width="1.1"/><path d="M145.0,463.9 L156.1,456.2 L157.3,451.8 L152.4,440.8 L141.7,438.0 L134.5,438.8 L133.2,439.4 L142.2,461.9 L145.0,463.9 Z" fill="#8e8ae2" stroke="#cacaf6" stroke-width="1.1"/><path d="M163.7,431.6 L152.4,440.8 L157.3,451.8 L173.3,445.8 L173.3,440.9 L163.7,431.6 Z" fill="#8e8ae2" stroke="#cacaf6" stroke-width="1.1"/><path d="M98.1,480.3 L114.0,476.4 L105.9,461.7 L98.5,461.6 L89.0,472.5 L89.0,476.7 L98.1,480.3 Z" fill="#8e8ae2" stroke="#cacaf6" stroke-width="1.1"/><path d="M110.0,456.4 L105.9,461.7 L114.0,476.4 L118.7,478.8 L119.4,478.2 L125.6,464.0 L121.1,455.1 L110.0,456.4 Z" fill="#8e8ae2" stroke="#cacaf6" stroke-width="1.1"/><path d="M119.4,478.2 L139.3,475.5 L145.3,466.7 L145.0,463.9 L142.2,461.9 L125.6,464.0 L119.4,478.2 Z" fill="#8e8ae2" stroke="#cacaf6" stroke-width="1.1"/><path d="M158.1,477.9 L159.1,477.9 L169.6,465.3 L156.1,456.2 L145.0,463.9 L145.3,466.7 L158.1,477.9 Z" fill="#8e8ae2" stroke="#cacaf6" stroke-width="1.1"/><path d="M156.0,500.0 L160.8,500.0 L173.0,487.8 L159.1,477.9 L158.1,477.9 L152.0,487.8 L156.0,500.0 Z" fill="#8e8ae2" stroke="#cacaf6" stroke-width="1.1"/><path d="M100.7,490.8 L98.1,480.3 L89.0,476.7 L89.0,498.0 L100.7,490.8 Z" fill="#8e8ae2" stroke="#cacaf6" stroke-width="1.1"/><path d="M152.0,487.8 L141.4,486.4 L136.9,491.2 L137.3,500.0 L156.0,500.0 L152.0,487.8 Z" fill="#8e8ae2" stroke="#cacaf6" stroke-width="1.1"/><path d="M163.6,429.2 L173.3,419.2 L173.3,411.4 L158.5,406.8 L152.4,418.7 L153.3,420.8 L163.6,429.2 Z" fill="#8e8ae2" stroke="#cacaf6" stroke-width="1.1"/><path d="M119.4,478.2 L118.7,478.8 L119.2,483.5 L136.9,491.2 L141.4,486.4 L139.3,475.5 L119.4,478.2 Z" fill="#8e8ae2" stroke="#cacaf6" stroke-width="1.1"/><path d="M136.9,491.2 L119.2,483.5 L117.8,487.6 L126.8,500.0 L137.3,500.0 L136.9,491.2 Z" fill="#8e8ae2" stroke="#cacaf6" stroke-width="1.1"/><path d="M118.7,478.8 L114.0,476.4 L98.1,480.3 L100.7,490.8 L110.8,495.6 L117.8,487.6 L119.2,483.5 L118.7,478.8 Z" fill="#8e8ae2" stroke="#cacaf6" stroke-width="1.1"/><path d="M139.3,475.5 L141.4,486.4 L152.0,487.8 L158.1,477.9 L145.3,466.7 L139.3,475.5 Z" fill="#8e8ae2" stroke="#cacaf6" stroke-width="1.1"/><path d="M89.0,498.0 L89.0,500.0 L110.2,500.0 L110.8,495.6 L100.7,490.8 L89.0,498.0 Z" fill="#8e8ae2" stroke="#cacaf6" stroke-width="1.1"/><path d="M134.5,438.8 L141.7,438.0 L153.3,420.8 L152.4,418.7 L141.3,416.9 L134.5,438.8 Z" fill="#8e8ae2" stroke="#cacaf6" stroke-width="1.1"/><path d="M162.3,391.2 L154.4,398.4 L158.5,406.8 L173.3,411.4 L173.3,392.5 L162.3,391.2 Z" fill="#8e8ae2" stroke="#cacaf6" stroke-width="1.1"/><path d="M89.0,388.5 L89.0,411.7 L91.8,411.4 L102.9,399.9 L89.0,388.5 Z" fill="#8e8ae2" stroke="#cacaf6" stroke-width="1.1"/><path d="M173.3,487.8 L173.3,464.8 L169.6,465.3 L159.1,477.9 L173.0,487.8 L173.3,487.8 Z" fill="#8e8ae2" stroke="#cacaf6" stroke-width="1.1"/><path d="M91.3,450.3 L102.2,441.3 L96.9,431.7 L89.0,431.2 L89.0,449.8 L91.3,450.3 Z" fill="#8e8ae2" stroke="#cacaf6" stroke-width="1.1"/><path d="M156.1,456.2 L169.6,465.3 L173.3,464.8 L173.3,445.8 L157.3,451.8 L156.1,456.2 Z" fill="#8e8ae2" stroke="#cacaf6" stroke-width="1.1"/><path d="M110.6,387.8 L125.5,380.2 L103.7,380.2 L110.6,387.8 Z" fill="#8e8ae2" stroke="#cacaf6" stroke-width="1.1"/><path d="M162.3,391.2 L173.3,392.5 L173.3,380.2 L161.8,380.2 L162.3,391.2 Z" fill="#8e8ae2" stroke="#cacaf6" stroke-width="1.1"/><path d="M98.5,461.6 L91.3,450.3 L89.0,449.8 L89.0,472.5 L98.5,461.6 Z" fill="#8e8ae2" stroke="#cacaf6" stroke-width="1.1"/><path d="M110.8,495.6 L110.2,500.0 L126.8,500.0 L117.8,487.6 L110.8,495.6 Z" fill="#8e8ae2" stroke="#cacaf6" stroke-width="1.1"/><path d="M173.0,487.8 L160.8,500.0 L173.3,500.0 L173.3,487.8 L173.0,487.8 Z" fill="#8e8ae2" stroke="#cacaf6" stroke-width="1.1"/><path d="M163.6,429.2 L163.7,431.6 L173.3,440.9 L173.3,419.2 L163.6,429.2 Z" fill="#8e8ae2" stroke="#cacaf6" stroke-width="1.1"/><path d="M107.3,388.5 L102.9,383.7 L93.5,383.7 L93.5,389.0 L102.4,396.3 L105.6,395.9 L107.3,388.5 Z" fill="#6646bc" stroke="#6646bc" stroke-width="2.6" stroke-linejoin="round"/><path d="M116.7,400.2 L127.1,392.6 L126.8,385.2 L124.3,385.2 L114.8,390.0 L113.1,397.4 L116.3,400.1 L116.7,400.2 Z" fill="#5436ac" stroke="#5436ac" stroke-width="2.6" stroke-linejoin="round"/><path d="M137.6,398.8 L146.8,395.4 L141.2,384.2 L132.3,384.2 L132.6,391.6 L137.6,398.8 Z" fill="#5a3cb4" stroke="#5a3cb4" stroke-width="2.6" stroke-linejoin="round"/><path d="M153.1,394.1 L154.6,394.5 L159.7,389.8 L159.3,382.8 L147.5,382.8 L153.1,394.1 Z" fill="#6040b8" stroke="#6040b8" stroke-width="2.6" stroke-linejoin="round"/><path d="M126.3,409.8 L131.5,407.8 L133.2,403.4 L128.2,396.3 L117.7,403.8 L126.3,409.8 Z" fill="#7252c4" stroke="#7252c4" stroke-width="2.6" stroke-linejoin="round"/><path d="M106.3,404.0 L103.1,404.4 L96.0,411.7 L103.4,418.6 L105.8,418.2 L109.6,406.7 L106.3,404.0 Z" fill="#6040b8" stroke="#6040b8" stroke-width="2.6" stroke-linejoin="round"/><path d="M110.9,419.3 L119.9,424.6 L123.5,413.8 L115.0,407.9 L114.6,407.8 L110.9,419.3 Z" fill="#5a3cb4" stroke="#5a3cb4" stroke-width="2.6" stroke-linejoin="round"/><path d="M151.5,416.2 L155.4,408.6 L152.8,403.2 L151.3,402.8 L142.1,406.1 L140.4,410.6 L144.4,415.1 L151.5,416.2 Z" fill="#5a3cb4" stroke="#5a3cb4" stroke-width="2.6" stroke-linejoin="round"/><path d="M127.3,428.5 L132.0,431.9 L134.0,432.1 L134.9,431.7 L139.2,417.7 L135.2,413.2 L130.0,415.2 L126.3,426.0 L127.3,428.5 Z" fill="#5436ac" stroke="#5436ac" stroke-width="2.6" stroke-linejoin="round"/><path d="M90.7,414.8 L90.7,427.3 L95.8,427.6 L99.9,421.5 L92.5,414.6 L90.7,414.8 Z" fill="#6040b8" stroke="#6040b8" stroke-width="2.6" stroke-linejoin="round"/><path d="M105.6,424.5 L101.5,430.6 L104.9,436.7 L107.6,437.4 L118.0,432.0 L117.1,429.4 L108.1,424.1 L105.6,424.5 Z" fill="#5a3cb4" stroke="#5a3cb4" stroke-width="2.6" stroke-linejoin="round"/><path d="M146.6,434.5 L153.5,436.3 L160.7,430.4 L160.7,428.8 L154.0,423.5 L146.6,434.5 Z" fill="#5a3cb4" stroke="#5a3cb4" stroke-width="2.6" stroke-linejoin="round"/><path d="M111.3,454.5 L118.4,453.6 L124.1,443.4 L119.4,440.0 L108.9,445.5 L111.3,454.5 Z" fill="#5436ac" stroke="#5436ac" stroke-width="2.6" stroke-linejoin="round"/><path d="M95.9,451.0 L100.5,458.3 L105.2,458.3 L107.8,454.9 L105.5,445.9 L102.8,445.2 L95.9,451.0 Z" fill="#5a3cb4" stroke="#5a3cb4" stroke-width="2.6" stroke-linejoin="round"/><path d="M128.3,461.8 L139.0,460.4 L133.2,446.1 L131.2,445.9 L125.5,456.1 L128.3,461.8 Z" fill="#7252c4" stroke="#7252c4" stroke-width="2.6" stroke-linejoin="round"/><path d="M145.3,458.5 L152.4,453.6 L153.2,450.8 L150.0,443.7 L143.2,441.9 L138.6,442.4 L137.8,442.8 L143.5,457.2 L145.3,458.5 Z" fill="#5a3cb4" stroke="#5a3cb4" stroke-width="2.6" stroke-linejoin="round"/><path d="M164.3,435.2 L157.1,441.1 L160.2,448.1 L170.5,444.2 L170.5,441.1 L164.3,435.2 Z" fill="#6848bc" stroke="#6848bc" stroke-width="2.6" stroke-linejoin="round"/><path d="M98.8,477.5 L109.0,475.0 L103.8,465.6 L99.1,465.6 L93.0,472.5 L93.0,475.2 L98.8,477.5 Z" fill="#6040b8" stroke="#6040b8" stroke-width="2.6" stroke-linejoin="round"/><path d="M112.7,459.4 L110.0,462.8 L115.2,472.2 L118.2,473.8 L118.7,473.4 L122.6,464.3 L119.8,458.6 L112.7,459.4 Z" fill="#6040b8" stroke="#6040b8" stroke-width="2.6" stroke-linejoin="round"/><path d="M123.5,476.0 L136.2,474.3 L140.1,468.7 L139.8,466.9 L138.1,465.6 L127.4,466.9 L123.5,476.0 Z" fill="#7252c4" stroke="#7252c4" stroke-width="2.6" stroke-linejoin="round"/><path d="M158.9,473.2 L159.5,473.1 L166.2,465.1 L157.6,459.3 L150.5,464.2 L150.7,466.0 L158.9,473.2 Z" fill="#7252c4" stroke="#7252c4" stroke-width="2.6" stroke-linejoin="round"/><path d="M158.2,494.9 L161.3,494.9 L169.1,487.1 L160.2,480.7 L159.6,480.8 L155.7,487.1 L158.2,494.9 Z" fill="#6040b8" stroke="#6040b8" stroke-width="2.6" stroke-linejoin="round"/><path d="M99.7,489.7 L98.0,483.0 L92.2,480.7 L92.2,494.3 L99.7,489.7 Z" fill="#7252c4" stroke="#7252c4" stroke-width="2.6" stroke-linejoin="round"/><path d="M148.5,490.6 L141.7,489.8 L138.9,492.8 L139.1,498.5 L151.1,498.5 L148.5,490.6 Z" fill="#6848bc" stroke="#6848bc" stroke-width="2.6" stroke-linejoin="round"/><path d="M162.8,424.9 L168.1,419.4 L168.1,415.1 L160.0,412.6 L156.6,419.1 L157.1,420.3 L162.8,424.9 Z" fill="#2c1c86" stroke="#2c1c86" stroke-width="2.6" stroke-linejoin="round"/><path d="M125.7,480.8 L125.3,481.1 L125.6,483.7 L135.4,487.9 L137.8,485.3 L136.7,479.3 L125.7,480.8 Z" fill="#2c1c86" stroke="#2c1c86" stroke-width="2.6" stroke-linejoin="round"/><path d="M133.5,493.8 L123.7,489.5 L122.9,491.8 L127.9,498.6 L133.7,498.6 L133.5,493.8 Z" fill="#2c1c86" stroke="#2c1c86" stroke-width="2.6" stroke-linejoin="round"/><path d="M111.6,481.5 L109.0,480.2 L100.3,482.3 L101.7,488.1 L107.3,490.8 L111.1,486.3 L111.9,484.1 L111.6,481.5 Z" fill="#2c1c86" stroke="#2c1c86" stroke-width="2.6" stroke-linejoin="round"/><path d="M143.6,477.6 L144.8,483.6 L150.6,484.3 L154.0,478.9 L146.9,472.7 L143.6,477.6 Z" fill="#2c1c86" stroke="#2c1c86" stroke-width="2.6" stroke-linejoin="round"/><path d="M93.9,498.5 L93.9,499.6 L105.5,499.6 L105.9,497.2 L100.3,494.5 L93.9,498.5 Z" fill="#2c1c86" stroke="#2c1c86" stroke-width="2.6" stroke-linejoin="round"/><path d="M138.5,432.7 L142.5,432.3 L148.8,422.8 L148.3,421.6 L142.2,420.7 L138.5,432.7 Z" fill="#2c1c86" stroke="#2c1c86" stroke-width="2.6" stroke-linejoin="round"/><path d="M164.6,395.0 L159.5,399.7 L162.1,405.0 L171.6,408.0 L171.6,395.9 L164.6,395.0 Z" fill="#6848bc" stroke="#6848bc" stroke-width="2.6" stroke-linejoin="round"/><path d="M90.6,391.5 L90.6,406.4 L92.3,406.2 L99.5,398.8 L90.6,391.5 Z" fill="#6040b8" stroke="#6040b8" stroke-width="2.6" stroke-linejoin="round"/><path d="M171.4,483.6 L171.4,468.9 L169.0,469.2 L162.3,477.2 L171.2,483.6 L171.4,483.6 Z" fill="#6848bc" stroke="#6848bc" stroke-width="2.6" stroke-linejoin="round"/><path d="M92.6,446.2 L99.5,440.4 L96.2,434.3 L91.1,434.0 L91.1,445.9 L92.6,446.2 Z" fill="#6646bc" stroke="#6646bc" stroke-width="2.6" stroke-linejoin="round"/><path d="M160.1,455.3 L168.7,461.2 L171.1,460.8 L171.1,448.7 L160.9,452.5 L160.1,455.3 Z" fill="#6848bc" stroke="#6848bc" stroke-width="2.6" stroke-linejoin="round"/><path d="M110.6,385.0 L120.2,380.1 L106.2,380.1 L110.6,385.0 Z" fill="#6646bc" stroke="#6646bc" stroke-width="2.6" stroke-linejoin="round"/><path d="M164.3,389.0 L171.3,389.9 L171.3,382.0 L163.9,382.0 L164.3,389.0 Z" fill="#7252c4" stroke="#7252c4" stroke-width="2.6" stroke-linejoin="round"/><path d="M93.9,460.0 L89.3,452.7 L87.8,452.4 L87.8,466.9 L93.9,460.0 Z" fill="#5436ac" stroke="#5436ac" stroke-width="2.6" stroke-linejoin="round"/><path d="M114.6,497.0 L114.2,499.8 L124.8,499.8 L119.0,491.8 L114.6,497.0 Z" fill="#5a3cb4" stroke="#5a3cb4" stroke-width="2.6" stroke-linejoin="round"/><path d="M173.2,491.8 L165.4,499.6 L173.4,499.6 L173.4,491.8 L173.2,491.8 Z" fill="#6848bc" stroke="#6848bc" stroke-width="2.6" stroke-linejoin="round"/><path d="M167.6,429.3 L167.6,430.9 L173.8,436.8 L173.8,422.9 L167.6,429.3 Z" fill="#6040b8" stroke="#6040b8" stroke-width="2.6" stroke-linejoin="round"/><ellipse cx="122.7" cy="483.7" rx="4" ry="4" fill="#ffffff" opacity="0.9"/><ellipse cx="96.5" cy="401.7" rx="3" ry="2.5" fill="#f4f2ff" opacity="0.9"/><ellipse cx="125.2" cy="430.5" rx="3.5" ry="2.5" fill="#eeeefc" opacity="0.9"/><ellipse cx="155.7" cy="482" rx="3" ry="3" fill="#dcd4f0" opacity="0.9"/><ellipse cx="166" cy="396.6" rx="6" ry="10" fill="#c8a0d8" opacity="0.9"/><ellipse cx="110" cy="426" rx="2" ry="2" fill="#eeeefc" opacity="0.9"/><ellipse cx="139" cy="440" rx="2.5" ry="2" fill="#eeeefc" opacity="0.9"/><ellipse cx="92" cy="462" rx="2" ry="3" fill="#f4f4ff" opacity="0.9"/><ellipse cx="158" cy="458" rx="2" ry="2" fill="#eeeefc" opacity="0.9"/><ellipse cx="126" cy="386" rx="2" ry="2" fill="#eeeefc" opacity="0.9"/></g></g>
<clipPath id="fc1"><rect x="193.5" y="382.5" width="69.80000000000001" height="68.69999999999999"/></clipPath><g clip-path="url(#fc1)"><g fill="#333" opacity="0.35"><circle cx="206.66" cy="413.28" r="0.35"/><circle cx="221.60" cy="420.93" r="0.35"/><circle cx="206.71" cy="445.24" r="0.35"/><circle cx="204.06" cy="402.32" r="0.35"/><circle cx="193.51" cy="412.63" r="0.35"/><circle cx="217.90" cy="431.93" r="0.35"/><circle cx="223.67" cy="445.93" r="0.35"/><circle cx="230.68" cy="429.35" r="0.35"/><circle cx="226.32" cy="429.64" r="0.35"/><circle cx="203.65" cy="432.18" r="0.35"/><circle cx="211.28" cy="417.73" r="0.35"/><circle cx="234.73" cy="431.59" r="0.35"/><circle cx="204.77" cy="419.66" r="0.35"/><circle cx="238.96" cy="417.26" r="0.35"/><circle cx="219.57" cy="429.54" r="0.35"/><circle cx="216.87" cy="429.10" r="0.35"/><circle cx="204.82" cy="414.22" r="0.35"/><circle cx="208.72" cy="415.71" r="0.35"/><circle cx="220.48" cy="442.66" r="0.35"/><circle cx="199.86" cy="428.53" r="0.35"/><circle cx="198.75" cy="410.96" r="0.35"/><circle cx="207.77" cy="422.31" r="0.35"/><circle cx="205.35" cy="383.76" r="0.35"/><circle cx="227.52" cy="416.93" r="0.35"/><circle cx="202.94" cy="430.44" r="0.35"/><circle cx="203.40" cy="400.51" r="0.35"/><circle cx="216.63" cy="426.72" r="0.35"/><circle cx="200.62" cy="432.68" r="0.35"/><circle cx="215.21" cy="404.68" r="0.35"/><circle cx="231.97" cy="424.58" r="0.35"/><circle cx="196.86" cy="427.20" r="0.35"/><circle cx="212.20" cy="434.55" r="0.35"/><circle cx="194.25" cy="435.55" r="0.35"/><circle cx="222.12" cy="430.63" r="0.35"/><circle cx="218.09" cy="439.43" r="0.35"/><circle cx="219.40" cy="422.58" r="0.35"/><circle cx="200.47" cy="436.54" r="0.35"/><circle cx="222.60" cy="424.99" r="0.35"/><circle cx="212.50" cy="431.01" r="0.35"/><circle cx="223.50" cy="447.63" r="0.35"/><circle cx="204.89" cy="426.83" r="0.35"/><circle cx="209.76" cy="389.13" r="0.35"/><circle cx="219.48" cy="420.46" r="0.35"/><circle cx="211.42" cy="407.30" r="0.35"/><circle cx="210.08" cy="421.84" r="0.35"/><circle cx="226.15" cy="424.84" r="0.35"/><circle cx="253.04" cy="414.88" r="0.35"/><circle cx="207.36" cy="419.93" r="0.35"/><circle cx="200.72" cy="442.13" r="0.35"/><circle cx="218.44" cy="402.60" r="0.35"/><circle cx="211.89" cy="437.00" r="0.35"/><circle cx="215.62" cy="414.87" r="0.35"/><circle cx="203.74" cy="447.50" r="0.35"/><circle cx="207.66" cy="410.67" r="0.35"/><circle cx="207.99" cy="430.48" r="0.35"/><circle cx="202.48" cy="400.32" r="0.35"/><circle cx="226.93" cy="441.50" r="0.35"/><circle cx="202.18" cy="424.99" r="0.35"/><circle cx="194.38" cy="412.79" r="0.35"/><circle cx="236.89" cy="402.74" r="0.35"/><circle cx="210.82" cy="405.47" r="0.35"/><circle cx="213.86" cy="402.11" r="0.35"/><circle cx="203.39" cy="430.98" r="0.35"/><circle cx="208.63" cy="402.05" r="0.35"/><circle cx="228.78" cy="422.36" r="0.35"/><circle cx="227.65" cy="405.78" r="0.35"/><circle cx="231.08" cy="401.53" r="0.35"/><circle cx="206.03" cy="424.37" r="0.35"/><circle cx="203.73" cy="429.65" r="0.35"/><circle cx="226.79" cy="411.38" r="0.35"/><circle cx="193.83" cy="414.95" r="0.35"/><circle cx="220.51" cy="432.22" r="0.35"/><circle cx="206.33" cy="406.65" r="0.35"/><circle cx="210.33" cy="434.30" r="0.35"/><circle cx="201.86" cy="439.05" r="0.35"/><circle cx="213.29" cy="424.74" r="0.35"/><circle cx="202.92" cy="439.96" r="0.35"/><circle cx="211.06" cy="399.49" r="0.35"/><circle cx="220.50" cy="414.67" r="0.35"/><circle cx="223.64" cy="423.01" r="0.35"/><circle cx="202.92" cy="423.05" r="0.35"/><circle cx="204.56" cy="408.89" r="0.35"/><circle cx="210.78" cy="432.44" r="0.35"/><circle cx="211.40" cy="419.40" r="0.35"/><circle cx="203.79" cy="428.72" r="0.35"/><circle cx="213.84" cy="434.21" r="0.35"/><circle cx="214.98" cy="450.84" r="0.35"/><circle cx="217.02" cy="433.34" r="0.35"/><circle cx="210.01" cy="435.53" r="0.35"/><circle cx="223.86" cy="399.10" r="0.35"/><circle cx="212.10" cy="437.22" r="0.35"/><circle cx="210.85" cy="405.99" r="0.35"/><circle cx="201.80" cy="401.69" r="0.35"/><circle cx="225.02" cy="416.93" r="0.35"/><circle cx="205.31" cy="408.21" r="0.35"/><circle cx="208.82" cy="407.73" r="0.35"/><circle cx="198.65" cy="420.01" r="0.35"/><circle cx="207.72" cy="427.08" r="0.35"/><circle cx="212.29" cy="437.35" r="0.35"/><circle cx="209.96" cy="424.29" r="0.35"/><circle cx="213.25" cy="409.16" r="0.35"/><circle cx="224.93" cy="412.61" r="0.35"/><circle cx="218.43" cy="412.59" r="0.35"/><circle cx="222.08" cy="434.24" r="0.35"/><circle cx="219.04" cy="403.99" r="0.35"/><circle cx="212.65" cy="405.90" r="0.35"/><circle cx="203.08" cy="412.62" r="0.35"/></g><g fill="#222" opacity="0.6"><circle cx="214.10" cy="393.09" r="0.38"/><circle cx="187.77" cy="407.88" r="0.38"/><circle cx="207.08" cy="393.08" r="0.38"/><circle cx="210.77" cy="392.61" r="0.38"/><circle cx="196.47" cy="413.51" r="0.38"/><circle cx="209.79" cy="391.98" r="0.38"/><circle cx="217.81" cy="392.56" r="0.38"/><circle cx="208.12" cy="413.34" r="0.38"/><circle cx="191.31" cy="393.74" r="0.38"/><circle cx="189.11" cy="405.86" r="0.38"/><circle cx="188.97" cy="411.53" r="0.38"/><circle cx="195.45" cy="414.95" r="0.38"/><circle cx="189.67" cy="398.67" r="0.38"/><circle cx="188.81" cy="407.83" r="0.38"/><circle cx="218.76" cy="409.47" r="0.38"/><circle cx="223.57" cy="405.80" r="0.38"/><circle cx="222.62" cy="399.13" r="0.38"/><circle cx="200.77" cy="392.64" r="0.38"/><circle cx="188.61" cy="410.62" r="0.38"/><circle cx="200.36" cy="416.71" r="0.38"/><circle cx="213.01" cy="411.41" r="0.38"/><circle cx="201.75" cy="413.16" r="0.38"/><circle cx="221.71" cy="406.61" r="0.38"/><circle cx="216.04" cy="411.77" r="0.38"/><circle cx="214.01" cy="391.83" r="0.38"/><circle cx="222.57" cy="402.12" r="0.38"/><circle cx="201.99" cy="392.03" r="0.38"/><circle cx="211.67" cy="393.52" r="0.38"/><circle cx="207.91" cy="392.85" r="0.38"/><circle cx="204.15" cy="412.68" r="0.38"/><circle cx="188.04" cy="398.27" r="0.38"/><circle cx="188.37" cy="400.18" r="0.38"/><circle cx="193.81" cy="391.84" r="0.38"/><circle cx="187.75" cy="408.91" r="0.38"/><circle cx="205.28" cy="413.07" r="0.38"/><circle cx="188.61" cy="406.14" r="0.38"/><circle cx="189.65" cy="404.49" r="0.38"/><circle cx="188.98" cy="407.48" r="0.38"/><circle cx="221.78" cy="400.31" r="0.38"/><circle cx="189.15" cy="396.64" r="0.38"/><circle cx="208.53" cy="412.24" r="0.38"/><circle cx="207.30" cy="413.19" r="0.38"/><circle cx="210.85" cy="413.12" r="0.38"/><circle cx="197.07" cy="413.00" r="0.38"/><circle cx="220.31" cy="397.60" r="0.38"/><circle cx="201.09" cy="413.20" r="0.38"/><circle cx="200.31" cy="393.15" r="0.38"/><circle cx="204.86" cy="412.79" r="0.38"/><circle cx="212.92" cy="411.86" r="0.38"/><circle cx="221.46" cy="406.18" r="0.38"/><circle cx="220.30" cy="397.83" r="0.38"/><circle cx="189.96" cy="394.14" r="0.38"/><circle cx="201.15" cy="392.82" r="0.38"/><circle cx="209.14" cy="413.23" r="0.38"/><circle cx="196.98" cy="391.88" r="0.38"/><circle cx="189.71" cy="409.25" r="0.38"/><circle cx="190.44" cy="393.01" r="0.38"/><circle cx="188.39" cy="396.78" r="0.38"/><circle cx="216.86" cy="413.02" r="0.38"/><circle cx="217.12" cy="394.86" r="0.38"/><circle cx="192.61" cy="390.24" r="0.38"/><circle cx="196.10" cy="412.18" r="0.38"/><circle cx="214.14" cy="392.79" r="0.38"/><circle cx="214.73" cy="391.31" r="0.38"/><circle cx="209.98" cy="412.74" r="0.38"/><circle cx="216.53" cy="394.03" r="0.38"/><circle cx="208.76" cy="393.07" r="0.38"/><circle cx="222.42" cy="402.33" r="0.38"/><circle cx="197.96" cy="393.19" r="0.38"/><circle cx="190.19" cy="391.81" r="0.38"/><circle cx="192.82" cy="412.74" r="0.38"/><circle cx="213.30" cy="413.08" r="0.38"/><circle cx="219.88" cy="396.93" r="0.38"/><circle cx="202.55" cy="391.53" r="0.38"/><circle cx="187.73" cy="406.57" r="0.38"/><circle cx="210.23" cy="391.53" r="0.38"/><circle cx="217.70" cy="395.14" r="0.38"/><circle cx="201.78" cy="392.94" r="0.38"/><circle cx="224.31" cy="398.45" r="0.38"/><circle cx="188.83" cy="394.93" r="0.38"/><circle cx="193.93" cy="392.83" r="0.38"/><circle cx="189.91" cy="412.04" r="0.38"/><circle cx="220.05" cy="395.46" r="0.38"/><circle cx="201.51" cy="391.96" r="0.38"/><circle cx="190.45" cy="393.92" r="0.38"/><circle cx="203.69" cy="389.94" r="0.38"/><circle cx="219.94" cy="409.70" r="0.38"/><circle cx="189.54" cy="412.79" r="0.38"/><circle cx="209.69" cy="392.95" r="0.38"/><circle cx="187.68" cy="399.96" r="0.38"/><circle cx="216.40" cy="412.26" r="0.38"/><circle cx="211.45" cy="412.55" r="0.38"/><circle cx="207.02" cy="413.94" r="0.38"/><circle cx="200.53" cy="390.35" r="0.38"/><circle cx="202.53" cy="390.32" r="0.38"/><circle cx="214.99" cy="411.63" r="0.38"/><circle cx="217.71" cy="394.09" r="0.38"/><circle cx="197.97" cy="392.98" r="0.38"/><circle cx="194.56" cy="391.06" r="0.38"/><circle cx="199.83" cy="392.76" r="0.38"/><circle cx="198.05" cy="416.45" r="0.38"/><circle cx="185.27" cy="411.59" r="0.38"/><circle cx="223.81" cy="405.36" r="0.38"/><circle cx="198.11" cy="414.31" r="0.38"/><circle cx="216.48" cy="394.96" r="0.38"/><circle cx="218.56" cy="395.08" r="0.38"/><circle cx="188.84" cy="393.90" r="0.38"/><circle cx="191.82" cy="412.27" r="0.38"/><circle cx="221.43" cy="407.26" r="0.38"/><circle cx="213.76" cy="393.98" r="0.38"/><circle cx="220.32" cy="396.39" r="0.38"/><circle cx="189.54" cy="407.81" r="0.38"/><circle cx="185.63" cy="407.50" r="0.38"/><circle cx="193.88" cy="414.64" r="0.38"/><circle cx="218.99" cy="409.35" r="0.38"/><circle cx="188.23" cy="403.03" r="0.38"/><circle cx="214.69" cy="411.61" r="0.38"/><circle cx="220.42" cy="409.86" r="0.38"/><circle cx="207.57" cy="392.85" r="0.38"/><circle cx="189.81" cy="410.47" r="0.38"/><circle cx="206.58" cy="391.44" r="0.38"/><circle cx="218.76" cy="394.60" r="0.38"/><circle cx="188.06" cy="404.58" r="0.38"/><circle cx="189.96" cy="409.25" r="0.38"/><circle cx="209.70" cy="393.35" r="0.38"/><circle cx="223.85" cy="405.76" r="0.38"/><circle cx="186.84" cy="397.75" r="0.38"/><circle cx="203.17" cy="392.73" r="0.38"/><circle cx="189.70" cy="408.77" r="0.38"/><circle cx="218.00" cy="410.64" r="0.38"/><circle cx="189.91" cy="400.83" r="0.38"/><circle cx="208.18" cy="413.91" r="0.38"/><circle cx="212.41" cy="393.43" r="0.38"/><circle cx="221.14" cy="407.03" r="0.38"/><circle cx="194.12" cy="412.71" r="0.38"/><circle cx="194.58" cy="392.64" r="0.38"/><circle cx="199.50" cy="415.42" r="0.38"/><circle cx="195.87" cy="413.71" r="0.38"/><circle cx="199.14" cy="390.09" r="0.38"/><circle cx="188.10" cy="410.86" r="0.38"/><circle cx="188.93" cy="409.54" r="0.38"/><circle cx="202.75" cy="414.60" r="0.38"/><circle cx="209.70" cy="412.05" r="0.38"/><circle cx="197.20" cy="413.04" r="0.38"/><circle cx="209.25" cy="414.18" r="0.38"/><circle cx="207.95" cy="412.87" r="0.38"/><circle cx="216.96" cy="411.13" r="0.38"/><circle cx="224.88" cy="400.21" r="0.38"/><circle cx="187.92" cy="411.07" r="0.38"/><circle cx="221.98" cy="403.86" r="0.38"/><circle cx="186.29" cy="400.17" r="0.38"/><circle cx="220.89" cy="396.64" r="0.38"/><circle cx="202.19" cy="414.36" r="0.38"/><circle cx="222.85" cy="400.12" r="0.38"/><circle cx="196.99" cy="391.74" r="0.38"/><circle cx="189.78" cy="411.13" r="0.38"/><circle cx="191.83" cy="413.78" r="0.38"/><circle cx="222.19" cy="403.60" r="0.38"/><circle cx="212.11" cy="411.58" r="0.38"/><circle cx="209.86" cy="392.78" r="0.38"/><circle cx="203.39" cy="392.55" r="0.38"/><circle cx="188.79" cy="396.92" r="0.38"/><circle cx="209.20" cy="392.15" r="0.38"/><circle cx="208.79" cy="392.79" r="0.38"/><circle cx="189.34" cy="396.36" r="0.38"/><circle cx="201.81" cy="392.79" r="0.38"/><circle cx="196.07" cy="392.63" r="0.38"/><circle cx="204.61" cy="392.41" r="0.38"/><circle cx="191.42" cy="393.71" r="0.38"/><circle cx="211.31" cy="393.07" r="0.38"/><circle cx="212.33" cy="413.31" r="0.38"/><circle cx="198.79" cy="413.79" r="0.38"/><circle cx="199.57" cy="413.15" r="0.38"/><circle cx="204.18" cy="390.15" r="0.38"/><circle cx="194.84" cy="392.17" r="0.38"/><circle cx="216.27" cy="412.11" r="0.38"/><circle cx="192.07" cy="413.20" r="0.38"/><circle cx="223.81" cy="405.56" r="0.38"/><circle cx="221.82" cy="404.56" r="0.38"/><circle cx="211.03" cy="413.12" r="0.38"/><circle cx="213.24" cy="412.45" r="0.38"/><circle cx="198.18" cy="412.92" r="0.38"/><circle cx="198.89" cy="392.73" r="0.38"/><circle cx="189.23" cy="407.12" r="0.38"/><circle cx="189.92" cy="397.20" r="0.38"/><circle cx="210.44" cy="390.56" r="0.38"/><circle cx="218.49" cy="394.34" r="0.38"/><circle cx="199.56" cy="392.22" r="0.38"/><circle cx="199.20" cy="413.72" r="0.38"/><circle cx="198.71" cy="412.98" r="0.38"/><circle cx="211.51" cy="392.82" r="0.38"/><circle cx="190.07" cy="392.66" r="0.38"/><circle cx="189.37" cy="404.42" r="0.38"/><circle cx="190.62" cy="412.40" r="0.38"/><circle cx="188.42" cy="410.73" r="0.38"/><circle cx="202.78" cy="392.64" r="0.38"/><circle cx="190.01" cy="392.81" r="0.38"/><circle cx="203.88" cy="393.00" r="0.38"/><circle cx="188.49" cy="402.69" r="0.38"/><circle cx="194.88" cy="412.31" r="0.38"/><circle cx="195.28" cy="414.19" r="0.38"/><circle cx="212.49" cy="413.17" r="0.38"/><circle cx="206.19" cy="414.83" r="0.38"/><circle cx="208.95" cy="413.04" r="0.38"/><circle cx="193.15" cy="414.10" r="0.38"/><circle cx="189.90" cy="410.82" r="0.38"/><circle cx="207.07" cy="412.34" r="0.38"/><circle cx="191.37" cy="412.26" r="0.38"/><circle cx="220.90" cy="396.88" r="0.38"/><circle cx="213.01" cy="411.98" r="0.38"/><circle cx="223.22" cy="402.67" r="0.38"/><circle cx="212.99" cy="413.29" r="0.38"/><circle cx="191.95" cy="413.90" r="0.38"/><circle cx="194.99" cy="412.85" r="0.38"/><circle cx="197.56" cy="412.32" r="0.38"/><circle cx="213.32" cy="414.77" r="0.38"/><circle cx="213.01" cy="411.86" r="0.38"/><circle cx="222.53" cy="405.98" r="0.38"/><circle cx="218.14" cy="410.44" r="0.38"/><circle cx="220.85" cy="398.14" r="0.38"/><circle cx="195.87" cy="415.15" r="0.38"/><circle cx="204.67" cy="392.34" r="0.38"/><circle cx="193.04" cy="413.96" r="0.38"/><circle cx="195.15" cy="392.68" r="0.38"/><circle cx="223.01" cy="403.00" r="0.38"/><circle cx="212.61" cy="413.99" r="0.38"/><circle cx="224.07" cy="405.30" r="0.38"/><circle cx="221.76" cy="406.90" r="0.38"/><circle cx="197.39" cy="413.42" r="0.38"/><circle cx="188.95" cy="405.56" r="0.38"/><circle cx="202.13" cy="392.54" r="0.38"/><circle cx="189.83" cy="396.84" r="0.38"/><circle cx="210.26" cy="415.53" r="0.38"/><circle cx="217.03" cy="411.83" r="0.38"/><circle cx="217.66" cy="413.18" r="0.38"/><circle cx="205.28" cy="413.23" r="0.38"/><circle cx="212.13" cy="392.36" r="0.38"/><circle cx="188.91" cy="399.97" r="0.38"/><circle cx="189.58" cy="405.93" r="0.38"/><circle cx="189.91" cy="409.76" r="0.38"/><circle cx="208.60" cy="393.10" r="0.38"/><circle cx="188.13" cy="397.35" r="0.38"/><circle cx="203.55" cy="392.47" r="0.38"/><circle cx="191.37" cy="391.41" r="0.38"/><circle cx="212.13" cy="412.27" r="0.38"/><circle cx="187.63" cy="397.56" r="0.38"/><circle cx="202.84" cy="414.45" r="0.38"/><circle cx="212.87" cy="393.61" r="0.38"/><circle cx="221.30" cy="409.67" r="0.38"/><circle cx="195.89" cy="391.77" r="0.38"/><circle cx="215.64" cy="411.77" r="0.38"/><circle cx="195.03" cy="391.69" r="0.38"/><circle cx="192.36" cy="391.98" r="0.38"/><circle cx="188.20" cy="404.30" r="0.38"/><circle cx="201.71" cy="413.18" r="0.38"/><circle cx="206.19" cy="412.17" r="0.38"/><circle cx="205.52" cy="412.57" r="0.38"/><circle cx="212.17" cy="392.84" r="0.38"/><circle cx="215.91" cy="411.41" r="0.38"/><circle cx="211.89" cy="414.12" r="0.38"/><circle cx="197.08" cy="393.04" r="0.38"/><circle cx="205.58" cy="391.22" r="0.38"/><circle cx="207.17" cy="412.14" r="0.38"/><circle cx="222.21" cy="407.94" r="0.38"/><circle cx="194.88" cy="413.48" r="0.38"/><circle cx="211.70" cy="392.51" r="0.38"/><circle cx="202.32" cy="412.79" r="0.38"/><circle cx="197.79" cy="413.34" r="0.38"/><circle cx="220.46" cy="408.22" r="0.38"/><circle cx="214.72" cy="412.34" r="0.38"/><circle cx="189.96" cy="411.80" r="0.38"/><circle cx="192.14" cy="412.08" r="0.38"/><circle cx="210.87" cy="412.90" r="0.38"/><circle cx="221.85" cy="406.40" r="0.38"/><circle cx="200.37" cy="412.37" r="0.38"/><circle cx="189.13" cy="405.17" r="0.38"/><circle cx="224.22" cy="407.17" r="0.38"/><circle cx="200.02" cy="391.80" r="0.38"/><circle cx="223.09" cy="399.08" r="0.38"/><circle cx="188.39" cy="403.31" r="0.38"/><circle cx="206.43" cy="390.14" r="0.38"/><circle cx="220.97" cy="409.28" r="0.38"/><circle cx="198.23" cy="414.69" r="0.38"/><circle cx="189.47" cy="397.87" r="0.38"/><circle cx="220.11" cy="397.60" r="0.38"/><circle cx="188.53" cy="404.35" r="0.38"/><circle cx="193.69" cy="414.13" r="0.38"/><circle cx="209.37" cy="414.56" r="0.38"/><circle cx="188.83" cy="398.56" r="0.38"/><circle cx="196.67" cy="391.68" r="0.38"/><circle cx="210.47" cy="412.42" r="0.38"/><circle cx="188.79" cy="411.32" r="0.38"/><circle cx="222.21" cy="404.26" r="0.38"/><circle cx="211.04" cy="412.80" r="0.38"/><circle cx="223.07" cy="400.91" r="0.38"/><circle cx="189.60" cy="396.34" r="0.38"/><circle cx="220.17" cy="409.05" r="0.38"/><circle cx="196.39" cy="391.89" r="0.38"/><circle cx="207.74" cy="412.29" r="0.38"/><circle cx="207.31" cy="412.89" r="0.38"/><circle cx="201.79" cy="416.15" r="0.38"/><circle cx="191.88" cy="393.58" r="0.38"/><circle cx="205.23" cy="391.76" r="0.38"/><circle cx="195.66" cy="414.66" r="0.38"/><circle cx="195.58" cy="415.33" r="0.38"/><circle cx="202.24" cy="391.69" r="0.38"/><circle cx="189.12" cy="397.60" r="0.38"/><circle cx="194.94" cy="412.41" r="0.38"/><circle cx="193.20" cy="412.64" r="0.38"/><circle cx="188.93" cy="406.28" r="0.38"/><circle cx="216.58" cy="410.88" r="0.38"/><circle cx="189.31" cy="395.02" r="0.38"/><circle cx="195.10" cy="393.27" r="0.38"/><circle cx="188.53" cy="403.83" r="0.38"/><circle cx="188.77" cy="409.60" r="0.38"/><circle cx="190.90" cy="392.02" r="0.38"/><circle cx="196.10" cy="413.57" r="0.38"/><circle cx="186.39" cy="396.74" r="0.38"/><circle cx="196.04" cy="393.33" r="0.38"/><circle cx="199.56" cy="392.08" r="0.38"/><circle cx="188.75" cy="405.53" r="0.38"/><circle cx="212.56" cy="411.97" r="0.38"/><circle cx="195.74" cy="391.43" r="0.38"/><circle cx="188.93" cy="406.49" r="0.38"/><circle cx="201.25" cy="392.63" r="0.38"/><circle cx="209.02" cy="392.89" r="0.38"/><circle cx="219.87" cy="397.04" r="0.38"/><circle cx="203.77" cy="412.84" r="0.38"/><circle cx="222.78" cy="402.35" r="0.38"/><circle cx="201.34" cy="391.43" r="0.38"/><circle cx="201.32" cy="414.03" r="0.38"/><circle cx="222.16" cy="404.66" r="0.38"/><circle cx="223.17" cy="402.25" r="0.38"/><circle cx="206.51" cy="391.91" r="0.38"/><circle cx="217.19" cy="394.58" r="0.38"/><circle cx="196.09" cy="391.76" r="0.38"/><circle cx="203.33" cy="392.36" r="0.38"/><circle cx="188.74" cy="409.66" r="0.38"/><circle cx="207.31" cy="413.16" r="0.38"/><circle cx="210.91" cy="412.90" r="0.38"/><circle cx="225.64" cy="404.96" r="0.38"/><circle cx="199.86" cy="392.85" r="0.38"/><circle cx="209.89" cy="390.42" r="0.38"/><circle cx="187.91" cy="411.25" r="0.38"/><circle cx="187.98" cy="406.86" r="0.38"/><circle cx="201.39" cy="391.67" r="0.38"/><circle cx="188.53" cy="408.01" r="0.38"/><circle cx="216.32" cy="411.89" r="0.38"/><circle cx="209.17" cy="390.45" r="0.38"/><circle cx="222.34" cy="407.37" r="0.38"/><circle cx="222.03" cy="406.26" r="0.38"/><circle cx="216.23" cy="394.10" r="0.38"/><circle cx="188.49" cy="408.94" r="0.38"/><circle cx="216.31" cy="394.60" r="0.38"/><circle cx="220.44" cy="396.94" r="0.38"/><circle cx="206.86" cy="392.23" r="0.38"/><circle cx="219.00" cy="395.53" r="0.38"/><circle cx="211.37" cy="393.09" r="0.38"/><circle cx="204.16" cy="413.34" r="0.38"/><circle cx="216.88" cy="394.60" r="0.38"/><circle cx="210.09" cy="412.67" r="0.38"/><circle cx="211.28" cy="411.88" r="0.38"/><circle cx="220.90" cy="408.81" r="0.38"/><circle cx="191.69" cy="392.51" r="0.38"/><circle cx="214.01" cy="393.52" r="0.38"/><circle cx="196.32" cy="392.38" r="0.38"/><circle cx="188.35" cy="410.97" r="0.38"/><circle cx="205.81" cy="392.94" r="0.38"/><circle cx="208.72" cy="393.09" r="0.38"/><circle cx="185.93" cy="397.19" r="0.38"/><circle cx="220.64" cy="395.96" r="0.38"/><circle cx="197.31" cy="392.92" r="0.38"/><circle cx="222.94" cy="404.99" r="0.38"/><circle cx="191.79" cy="413.08" r="0.38"/><circle cx="222.07" cy="406.98" r="0.38"/><circle cx="212.20" cy="414.90" r="0.38"/><circle cx="213.96" cy="392.45" r="0.38"/><circle cx="208.61" cy="413.09" r="0.38"/><circle cx="221.08" cy="409.52" r="0.38"/><circle cx="223.22" cy="406.92" r="0.38"/><circle cx="221.83" cy="399.41" r="0.38"/><circle cx="208.75" cy="415.07" r="0.38"/><circle cx="188.37" cy="405.72" r="0.38"/><circle cx="218.75" cy="395.96" r="0.38"/><circle cx="215.37" cy="392.38" r="0.38"/><circle cx="213.74" cy="414.28" r="0.38"/><circle cx="197.63" cy="392.90" r="0.38"/><circle cx="188.38" cy="411.87" r="0.38"/><circle cx="189.92" cy="407.27" r="0.38"/><circle cx="222.93" cy="405.38" r="0.38"/><circle cx="188.24" cy="398.84" r="0.38"/><circle cx="194.49" cy="392.10" r="0.38"/><circle cx="221.52" cy="411.62" r="0.38"/><circle cx="189.86" cy="397.62" r="0.38"/><circle cx="194.77" cy="413.72" r="0.38"/><circle cx="187.17" cy="401.78" r="0.38"/><circle cx="196.84" cy="391.59" r="0.38"/><circle cx="218.19" cy="394.70" r="0.38"/><circle cx="212.14" cy="393.39" r="0.38"/><circle cx="213.28" cy="412.44" r="0.38"/><circle cx="191.48" cy="389.84" r="0.38"/><circle cx="190.26" cy="392.99" r="0.38"/><circle cx="199.81" cy="390.37" r="0.38"/><circle cx="217.78" cy="412.56" r="0.38"/><circle cx="217.13" cy="394.44" r="0.38"/><circle cx="211.13" cy="414.31" r="0.38"/><circle cx="221.43" cy="406.82" r="0.38"/><circle cx="222.56" cy="401.48" r="0.38"/><circle cx="188.43" cy="405.21" r="0.38"/><circle cx="192.04" cy="413.02" r="0.38"/><circle cx="189.12" cy="404.64" r="0.38"/><circle cx="199.57" cy="393.14" r="0.38"/><circle cx="202.31" cy="413.35" r="0.38"/><circle cx="193.73" cy="392.02" r="0.38"/><circle cx="189.61" cy="398.83" r="0.38"/><circle cx="206.86" cy="414.35" r="0.38"/><circle cx="221.48" cy="398.45" r="0.38"/><circle cx="220.61" cy="395.43" r="0.38"/><circle cx="197.04" cy="393.18" r="0.38"/><circle cx="189.60" cy="403.39" r="0.38"/><circle cx="208.80" cy="391.39" r="0.38"/><circle cx="188.92" cy="398.00" r="0.38"/><circle cx="219.92" cy="408.39" r="0.38"/><circle cx="206.91" cy="412.79" r="0.38"/><circle cx="200.04" cy="413.76" r="0.38"/><circle cx="198.96" cy="390.11" r="0.38"/><circle cx="204.71" cy="413.30" r="0.38"/><circle cx="214.32" cy="390.30" r="0.38"/><circle cx="187.89" cy="400.35" r="0.38"/><circle cx="219.51" cy="396.67" r="0.38"/><circle cx="216.35" cy="411.47" r="0.38"/><circle cx="221.61" cy="397.30" r="0.38"/><circle cx="220.94" cy="408.69" r="0.38"/><circle cx="205.49" cy="392.48" r="0.38"/><circle cx="222.10" cy="410.57" r="0.38"/><circle cx="203.77" cy="392.99" r="0.38"/><circle cx="205.74" cy="413.02" r="0.38"/><circle cx="188.90" cy="394.12" r="0.38"/><circle cx="221.15" cy="396.48" r="0.38"/><circle cx="210.10" cy="413.22" r="0.38"/><circle cx="217.29" cy="412.39" r="0.38"/><circle cx="222.00" cy="399.26" r="0.38"/><circle cx="209.36" cy="391.08" r="0.38"/><circle cx="217.95" cy="411.67" r="0.38"/><circle cx="221.95" cy="401.77" r="0.38"/><circle cx="186.91" cy="394.77" r="0.38"/><circle cx="210.24" cy="412.30" r="0.38"/><circle cx="204.47" cy="391.76" r="0.38"/><circle cx="194.98" cy="390.91" r="0.38"/><circle cx="200.46" cy="414.66" r="0.38"/><circle cx="202.12" cy="413.34" r="0.38"/><circle cx="222.84" cy="405.51" r="0.38"/><circle cx="214.30" cy="392.91" r="0.38"/><circle cx="216.16" cy="412.95" r="0.38"/><circle cx="192.34" cy="412.48" r="0.38"/><circle cx="210.22" cy="393.20" r="0.38"/><circle cx="220.22" cy="408.45" r="0.38"/><circle cx="222.38" cy="406.73" r="0.38"/><circle cx="203.02" cy="412.91" r="0.38"/><circle cx="195.34" cy="391.23" r="0.38"/><circle cx="223.98" cy="404.27" r="0.38"/><circle cx="217.38" cy="413.02" r="0.38"/><circle cx="202.92" cy="413.46" r="0.38"/><circle cx="222.69" cy="408.31" r="0.38"/><circle cx="220.22" cy="394.55" r="0.38"/><circle cx="192.65" cy="414.47" r="0.38"/><circle cx="204.13" cy="412.25" r="0.38"/><circle cx="206.37" cy="391.74" r="0.38"/><circle cx="215.43" cy="413.23" r="0.38"/><circle cx="189.53" cy="405.68" r="0.38"/><circle cx="223.67" cy="401.55" r="0.38"/><circle cx="188.22" cy="404.80" r="0.38"/><circle cx="212.48" cy="414.36" r="0.38"/><circle cx="188.12" cy="401.33" r="0.38"/><circle cx="194.06" cy="392.94" r="0.38"/><circle cx="213.27" cy="411.47" r="0.38"/><circle cx="218.50" cy="411.15" r="0.38"/><circle cx="194.05" cy="393.49" r="0.38"/><circle cx="188.29" cy="397.80" r="0.38"/><circle cx="222.11" cy="405.13" r="0.38"/></g><path d="M190.00,394.00 C191.33,390.88 195.33,393.45 198.00,393.30 C200.67,393.15 203.50,393.03 206.00,393.10 C208.50,393.17 211.00,393.28 213.00,393.70 C215.00,394.12 216.62,394.72 218.00,395.60 C219.38,396.48 220.60,397.77 221.30,399.00 C222.00,400.23 222.25,401.60 222.20,403.00 C222.15,404.40 221.78,406.15 221.00,407.40 C220.22,408.65 219.33,409.73 217.50,410.50 C215.67,411.27 212.58,411.70 210.00,412.00 C207.42,412.30 205.33,412.30 202.00,412.30 C198.67,412.30 192.00,415.05 190.00,412.00 C188.00,408.95 188.67,397.12 190.00,394.00 Z" fill="#eeeeee" stroke="#222" stroke-width="0.9"/><path d="M193.60,395.70 C194.67,393.21 197.87,395.26 200.00,395.14 C202.13,395.02 204.40,394.93 206.40,394.98 C208.40,395.03 210.40,395.13 212.00,395.46 C213.60,395.79 214.89,396.27 216.00,396.98 C217.11,397.69 218.08,398.71 218.64,399.70 C219.20,400.69 219.40,401.78 219.36,402.90 C219.32,404.02 219.03,405.42 218.40,406.42 C217.77,407.42 217.07,408.29 215.60,408.90 C214.13,409.51 211.67,409.86 209.60,410.10 C207.53,410.34 205.87,410.34 203.20,410.34 C200.53,410.34 195.20,412.54 193.60,410.10 C192.00,407.66 192.53,398.19 193.60,395.70 Z" fill="none" stroke="#666" stroke-width="0.45"/><path d="M196.84,397.23 C197.67,395.30 200.15,396.89 201.80,396.80 C203.45,396.70 205.21,396.63 206.76,396.67 C208.31,396.71 209.86,396.79 211.10,397.04 C212.34,397.30 213.34,397.67 214.20,398.22 C215.06,398.77 215.81,399.57 216.25,400.33 C216.68,401.09 216.84,401.94 216.80,402.81 C216.77,403.68 216.55,404.76 216.06,405.54 C215.57,406.31 215.03,406.98 213.89,407.46 C212.75,407.94 210.84,408.20 209.24,408.39 C207.64,408.58 206.35,408.58 204.28,408.58 C202.21,408.58 198.08,410.28 196.84,408.39 C195.60,406.50 196.01,399.16 196.84,397.23 Z" fill="none" stroke="#666" stroke-width="0.45"/><path d="M199.72,398.59 C200.33,397.16 202.17,398.34 203.40,398.27 C204.63,398.20 205.93,398.15 207.08,398.18 C208.23,398.21 209.38,398.26 210.30,398.45 C211.22,398.64 211.96,398.92 212.60,399.33 C213.24,399.73 213.80,400.32 214.12,400.89 C214.44,401.46 214.55,402.09 214.53,402.73 C214.51,403.37 214.34,404.18 213.98,404.75 C213.62,405.33 213.21,405.83 212.37,406.18 C211.53,406.53 210.11,406.73 208.92,406.87 C207.73,407.01 206.77,407.01 205.24,407.01 C203.71,407.01 200.64,408.27 199.72,406.87 C198.80,405.47 199.11,400.02 199.72,398.59 Z" fill="none" stroke="#666" stroke-width="0.45"/><path d="M202.60,399.95 C203.00,399.01 204.20,399.79 205.00,399.74 C205.80,399.69 206.65,399.66 207.40,399.68 C208.15,399.70 208.90,399.74 209.50,399.86 C210.10,399.99 210.59,400.17 211.00,400.43 C211.41,400.69 211.78,401.08 211.99,401.45 C212.20,401.82 212.27,402.23 212.26,402.65 C212.25,403.07 212.13,403.59 211.90,403.97 C211.67,404.34 211.40,404.67 210.85,404.90 C210.30,405.13 209.38,405.26 208.60,405.35 C207.82,405.44 207.20,405.44 206.20,405.44 C205.20,405.44 203.20,406.27 202.60,405.35 C202.00,404.44 202.20,400.88 202.60,399.95 Z" fill="none" stroke="#666" stroke-width="0.45"/><path d="M205.12,401.14 C205.33,400.64 205.97,401.05 206.40,401.03 C206.83,401.00 207.28,400.99 207.68,401.00 C208.08,401.01 208.48,401.03 208.80,401.09 C209.12,401.16 209.38,401.25 209.60,401.40 C209.82,401.54 210.02,401.74 210.13,401.94 C210.24,402.14 210.28,402.36 210.27,402.58 C210.26,402.80 210.21,403.08 210.08,403.28 C209.95,403.48 209.81,403.66 209.52,403.78 C209.23,403.90 208.73,403.97 208.32,404.02 C207.91,404.07 207.57,404.07 207.04,404.07 C206.51,404.07 205.44,404.51 205.12,404.02 C204.80,403.53 204.91,401.64 205.12,401.14 Z" fill="none" stroke="#666" stroke-width="0.45"/><g fill="#111" opacity="0.85"><circle cx="193.82" cy="405.94" r="0.5"/><circle cx="195.46" cy="409.99" r="0.5"/><circle cx="194.31" cy="398.35" r="0.5"/><circle cx="195.70" cy="405.19" r="0.5"/><circle cx="194.41" cy="405.63" r="0.5"/><circle cx="194.69" cy="407.22" r="0.5"/><circle cx="193.86" cy="397.80" r="0.5"/><circle cx="196.20" cy="400.09" r="0.5"/><circle cx="194.28" cy="407.67" r="0.5"/><circle cx="195.39" cy="396.54" r="0.5"/><circle cx="195.15" cy="405.29" r="0.5"/><circle cx="193.99" cy="405.08" r="0.5"/><circle cx="193.87" cy="399.73" r="0.5"/><circle cx="193.75" cy="397.48" r="0.5"/><circle cx="196.43" cy="400.86" r="0.5"/><circle cx="196.47" cy="401.46" r="0.5"/><circle cx="195.32" cy="408.83" r="0.5"/><circle cx="195.56" cy="395.90" r="0.5"/><circle cx="195.27" cy="404.77" r="0.5"/><circle cx="194.04" cy="395.61" r="0.5"/><circle cx="196.12" cy="402.73" r="0.5"/><circle cx="194.08" cy="401.69" r="0.5"/><circle cx="194.15" cy="407.57" r="0.5"/><circle cx="195.00" cy="395.74" r="0.5"/><circle cx="195.95" cy="395.52" r="0.5"/><circle cx="194.34" cy="394.48" r="0.5"/><circle cx="195.72" cy="395.94" r="0.5"/><circle cx="195.08" cy="395.58" r="0.5"/><circle cx="194.94" cy="405.65" r="0.5"/><circle cx="195.10" cy="401.74" r="0.5"/><circle cx="194.95" cy="401.43" r="0.5"/><circle cx="195.29" cy="395.61" r="0.5"/><circle cx="194.92" cy="398.02" r="0.5"/><circle cx="196.10" cy="409.96" r="0.5"/><circle cx="193.70" cy="396.44" r="0.5"/><circle cx="195.61" cy="403.71" r="0.5"/><circle cx="193.56" cy="405.98" r="0.5"/><circle cx="196.33" cy="401.19" r="0.5"/><circle cx="194.54" cy="403.68" r="0.5"/><circle cx="196.32" cy="398.48" r="0.5"/><circle cx="194.41" cy="397.21" r="0.5"/><circle cx="195.39" cy="401.98" r="0.5"/><circle cx="194.27" cy="400.59" r="0.5"/><circle cx="193.60" cy="399.31" r="0.5"/><circle cx="196.45" cy="403.96" r="0.5"/><circle cx="194.35" cy="409.91" r="0.5"/><circle cx="194.57" cy="398.28" r="0.5"/><circle cx="193.61" cy="396.49" r="0.5"/><circle cx="194.10" cy="397.91" r="0.5"/><circle cx="196.12" cy="398.50" r="0.5"/><circle cx="194.25" cy="404.27" r="0.5"/><circle cx="196.25" cy="398.95" r="0.5"/><circle cx="195.78" cy="400.27" r="0.5"/><circle cx="195.18" cy="404.13" r="0.5"/><circle cx="196.33" cy="406.87" r="0.5"/><circle cx="195.02" cy="408.30" r="0.5"/><circle cx="194.60" cy="400.53" r="0.5"/><circle cx="196.38" cy="403.28" r="0.5"/><circle cx="195.82" cy="399.35" r="0.5"/><circle cx="196.25" cy="404.42" r="0.5"/><circle cx="194.24" cy="409.87" r="0.5"/><circle cx="194.91" cy="399.77" r="0.5"/><circle cx="194.29" cy="395.76" r="0.5"/><circle cx="194.10" cy="405.77" r="0.5"/><circle cx="193.92" cy="398.40" r="0.5"/><circle cx="194.84" cy="403.26" r="0.5"/><circle cx="194.64" cy="407.35" r="0.5"/><circle cx="194.27" cy="400.27" r="0.5"/><circle cx="194.78" cy="396.19" r="0.5"/><circle cx="194.17" cy="396.49" r="0.5"/><circle cx="195.68" cy="396.49" r="0.5"/><circle cx="195.50" cy="397.77" r="0.5"/><circle cx="195.44" cy="405.16" r="0.5"/><circle cx="194.56" cy="409.86" r="0.5"/><circle cx="195.47" cy="403.47" r="0.5"/><circle cx="193.64" cy="400.91" r="0.5"/><circle cx="194.30" cy="401.99" r="0.5"/><circle cx="196.30" cy="408.69" r="0.5"/><circle cx="193.69" cy="405.56" r="0.5"/><circle cx="196.30" cy="403.22" r="0.5"/><circle cx="193.79" cy="408.74" r="0.5"/><circle cx="194.78" cy="410.67" r="0.5"/><circle cx="196.12" cy="408.09" r="0.5"/><circle cx="196.29" cy="395.16" r="0.5"/><circle cx="195.88" cy="399.19" r="0.5"/><circle cx="193.91" cy="400.45" r="0.5"/><circle cx="195.27" cy="394.08" r="0.5"/><circle cx="194.85" cy="407.33" r="0.5"/><circle cx="194.99" cy="402.98" r="0.5"/><circle cx="194.39" cy="410.51" r="0.5"/><circle cx="194.24" cy="405.58" r="0.5"/><circle cx="195.44" cy="394.01" r="0.5"/><circle cx="196.49" cy="398.00" r="0.5"/><circle cx="196.47" cy="409.78" r="0.5"/><circle cx="196.20" cy="408.54" r="0.5"/><circle cx="194.69" cy="401.57" r="0.5"/><circle cx="194.54" cy="409.91" r="0.5"/><circle cx="193.59" cy="396.33" r="0.5"/><circle cx="196.37" cy="407.71" r="0.5"/><circle cx="195.62" cy="410.45" r="0.5"/><circle cx="195.07" cy="408.20" r="0.5"/><circle cx="194.83" cy="409.31" r="0.5"/><circle cx="193.71" cy="401.45" r="0.5"/><circle cx="195.23" cy="407.50" r="0.5"/><circle cx="194.77" cy="405.57" r="0.5"/><circle cx="196.40" cy="401.12" r="0.5"/><circle cx="194.10" cy="394.51" r="0.5"/><circle cx="196.09" cy="402.09" r="0.5"/><circle cx="194.66" cy="402.83" r="0.5"/><circle cx="193.86" cy="397.77" r="0.5"/><circle cx="194.21" cy="398.34" r="0.5"/><circle cx="196.08" cy="398.19" r="0.5"/><circle cx="193.77" cy="408.73" r="0.5"/><circle cx="195.17" cy="394.48" r="0.5"/><circle cx="195.53" cy="405.67" r="0.5"/><circle cx="195.45" cy="407.17" r="0.5"/><circle cx="194.77" cy="397.82" r="0.5"/><circle cx="195.73" cy="404.63" r="0.5"/><circle cx="195.61" cy="397.12" r="0.5"/><circle cx="194.62" cy="405.75" r="0.5"/><circle cx="194.65" cy="404.24" r="0.5"/><circle cx="194.92" cy="406.83" r="0.5"/><circle cx="194.55" cy="402.46" r="0.5"/><circle cx="195.99" cy="399.28" r="0.5"/><circle cx="194.03" cy="404.82" r="0.5"/><circle cx="193.90" cy="408.57" r="0.5"/><circle cx="194.32" cy="409.37" r="0.5"/><circle cx="195.10" cy="396.62" r="0.5"/><circle cx="195.06" cy="405.60" r="0.5"/><circle cx="194.96" cy="404.80" r="0.5"/><circle cx="194.61" cy="410.31" r="0.5"/><circle cx="194.02" cy="407.56" r="0.5"/><circle cx="193.57" cy="402.62" r="0.5"/><circle cx="193.70" cy="396.24" r="0.5"/><circle cx="195.27" cy="409.37" r="0.5"/><circle cx="194.43" cy="400.85" r="0.5"/><circle cx="194.93" cy="404.29" r="0.5"/><circle cx="194.55" cy="399.97" r="0.5"/><circle cx="196.06" cy="403.45" r="0.5"/><circle cx="194.56" cy="407.91" r="0.5"/><circle cx="196.50" cy="401.35" r="0.5"/><circle cx="193.55" cy="399.19" r="0.5"/><circle cx="196.19" cy="396.92" r="0.5"/><circle cx="194.10" cy="407.47" r="0.5"/><circle cx="193.84" cy="408.44" r="0.5"/><circle cx="194.18" cy="400.59" r="0.5"/><circle cx="195.28" cy="395.91" r="0.5"/><circle cx="195.82" cy="401.45" r="0.5"/><circle cx="195.81" cy="406.99" r="0.5"/><circle cx="193.73" cy="407.98" r="0.5"/><circle cx="195.96" cy="398.11" r="0.5"/><circle cx="195.27" cy="397.49" r="0.5"/><circle cx="195.12" cy="406.78" r="0.5"/><circle cx="194.63" cy="403.06" r="0.5"/><circle cx="193.89" cy="408.67" r="0.5"/><circle cx="195.38" cy="408.12" r="0.5"/><circle cx="193.74" cy="406.67" r="0.5"/><circle cx="193.77" cy="403.46" r="0.5"/><circle cx="194.19" cy="409.33" r="0.5"/><circle cx="193.82" cy="402.04" r="0.5"/></g></g>
<rect x="193.5" y="382.5" width="69.80000000000001" height="68.69999999999999" fill="none" stroke="#777" stroke-width="0.75"/>
<line x1="192.0" y1="388.6143" x2="193.5" y2="388.6143" stroke="#666" stroke-width="0.5"/>
<text x="191.2" y="389.8143" font-size="3.6" fill="#444" text-anchor="end" font-weight="bold">10<tspan dy="-1.3" font-size="2.4">5</tspan></text>
<line x1="192.0" y1="403.797" x2="193.5" y2="403.797" stroke="#666" stroke-width="0.5"/>
<text x="191.2" y="404.997" font-size="3.6" fill="#444" text-anchor="end" font-weight="bold">10<tspan dy="-1.3" font-size="2.4">4</tspan></text>
<line x1="192.0" y1="419.8041" x2="193.5" y2="419.8041" stroke="#666" stroke-width="0.5"/>
<text x="191.2" y="421.0041" font-size="3.6" fill="#444" text-anchor="end" font-weight="bold">10<tspan dy="-1.3" font-size="2.4">3</tspan></text>
<line x1="192.0" y1="435.6051" x2="193.5" y2="435.6051" stroke="#666" stroke-width="0.5"/>
<text x="191.2" y="436.8051" font-size="3.6" fill="#444" text-anchor="end" font-weight="bold">10<tspan dy="-1.3" font-size="2.4">2</tspan></text>
<line x1="192.0" y1="444.33" x2="193.5" y2="444.33" stroke="#666" stroke-width="0.5"/>
<text x="191.2" y="445.53" font-size="3.6" fill="#444" text-anchor="end" font-weight="bold">0</text>
<line x1="200.48" y1="451.2" x2="200.48" y2="452.7" stroke="#666" stroke-width="0.5"/>
<text x="200.48" y="455.59999999999997" font-size="3.6" fill="#444" text-anchor="middle" font-weight="bold">0</text>
<line x1="206.762" y1="451.2" x2="206.762" y2="452.7" stroke="#666" stroke-width="0.5"/>
<text x="206.762" y="455.59999999999997" font-size="3.6" fill="#444" text-anchor="middle" font-weight="bold">10<tspan dy="-1.3" font-size="2.4">2</tspan></text>
<line x1="225.608" y1="451.2" x2="225.608" y2="452.7" stroke="#666" stroke-width="0.5"/>
<text x="225.608" y="455.59999999999997" font-size="3.6" fill="#444" text-anchor="middle" font-weight="bold">10<tspan dy="-1.3" font-size="2.4">3</tspan></text>
<line x1="240.26600000000002" y1="451.2" x2="240.26600000000002" y2="452.7" stroke="#666" stroke-width="0.5"/>
<text x="240.26600000000002" y="455.59999999999997" font-size="3.6" fill="#444" text-anchor="middle" font-weight="bold">10<tspan dy="-1.3" font-size="2.4">4</tspan></text>
<line x1="257.01800000000003" y1="451.2" x2="257.01800000000003" y2="452.7" stroke="#666" stroke-width="0.5"/>
<text x="257.01800000000003" y="455.59999999999997" font-size="3.6" fill="#444" text-anchor="middle" font-weight="bold">10<tspan dy="-1.3" font-size="2.4">5</tspan></text>
<text x="229.796" y="459.8" font-size="3.6" fill="#555" text-anchor="middle" textLength="25.1" lengthAdjust="spacingAndGlyphs">APC-A: CD34</text>
<text x="186.7" y="417.537" font-size="3.6" fill="#555" text-anchor="middle" textLength="27.5" lengthAdjust="spacingAndGlyphs" transform="rotate(-90 186.7 417.537)">APC-Cy7-A: CD38</text>
<rect x="225.8" y="389.6" width="29.8" height="29.8" fill="none" stroke="#666" stroke-width="0.8"/>
<text x="240.7" y="406.4" font-size="3.8" font-weight="bold" text-anchor="middle" fill="#333">0.000</text>
<clipPath id="fc2"><rect x="276.8" y="382.8" width="69.5" height="68.0"/></clipPath><g clip-path="url(#fc2)"><g fill="#333" opacity="0.35"><circle cx="319.03" cy="431.17" r="0.35"/><circle cx="291.40" cy="409.43" r="0.35"/><circle cx="311.77" cy="435.34" r="0.35"/><circle cx="312.67" cy="406.80" r="0.35"/><circle cx="291.80" cy="417.77" r="0.35"/><circle cx="322.33" cy="418.19" r="0.35"/><circle cx="299.14" cy="416.06" r="0.35"/><circle cx="308.55" cy="411.00" r="0.35"/><circle cx="305.57" cy="420.92" r="0.35"/><circle cx="334.49" cy="417.75" r="0.35"/><circle cx="322.61" cy="408.22" r="0.35"/><circle cx="320.71" cy="419.90" r="0.35"/><circle cx="296.07" cy="418.08" r="0.35"/><circle cx="321.48" cy="415.15" r="0.35"/><circle cx="323.69" cy="433.24" r="0.35"/><circle cx="334.22" cy="434.21" r="0.35"/><circle cx="283.17" cy="421.68" r="0.35"/><circle cx="293.57" cy="427.61" r="0.35"/><circle cx="306.91" cy="420.54" r="0.35"/><circle cx="313.76" cy="412.54" r="0.35"/><circle cx="307.33" cy="411.28" r="0.35"/><circle cx="342.40" cy="413.87" r="0.35"/><circle cx="305.92" cy="401.04" r="0.35"/><circle cx="279.55" cy="410.14" r="0.35"/><circle cx="319.70" cy="425.91" r="0.35"/><circle cx="310.61" cy="412.07" r="0.35"/><circle cx="338.33" cy="408.29" r="0.35"/><circle cx="290.53" cy="423.13" r="0.35"/><circle cx="288.05" cy="420.97" r="0.35"/><circle cx="322.79" cy="417.68" r="0.35"/><circle cx="312.85" cy="418.74" r="0.35"/><circle cx="293.74" cy="387.21" r="0.35"/><circle cx="284.07" cy="418.29" r="0.35"/><circle cx="309.31" cy="431.49" r="0.35"/><circle cx="281.44" cy="413.15" r="0.35"/><circle cx="309.64" cy="423.54" r="0.35"/><circle cx="281.17" cy="436.66" r="0.35"/><circle cx="291.15" cy="429.08" r="0.35"/><circle cx="302.07" cy="422.38" r="0.35"/><circle cx="335.23" cy="425.35" r="0.35"/><circle cx="307.95" cy="408.45" r="0.35"/><circle cx="294.01" cy="404.29" r="0.35"/><circle cx="341.49" cy="403.02" r="0.35"/><circle cx="328.35" cy="414.79" r="0.35"/><circle cx="320.53" cy="410.22" r="0.35"/><circle cx="295.37" cy="423.31" r="0.35"/><circle cx="312.63" cy="413.82" r="0.35"/><circle cx="334.52" cy="425.63" r="0.35"/><circle cx="308.10" cy="406.64" r="0.35"/><circle cx="308.06" cy="415.20" r="0.35"/><circle cx="304.25" cy="426.26" r="0.35"/><circle cx="295.37" cy="420.96" r="0.35"/><circle cx="319.82" cy="421.84" r="0.35"/><circle cx="304.46" cy="406.59" r="0.35"/><circle cx="304.37" cy="443.26" r="0.35"/><circle cx="317.23" cy="419.22" r="0.35"/><circle cx="321.88" cy="402.86" r="0.35"/><circle cx="322.95" cy="408.81" r="0.35"/><circle cx="283.77" cy="423.91" r="0.35"/><circle cx="314.03" cy="411.04" r="0.35"/><circle cx="290.87" cy="416.28" r="0.35"/><circle cx="305.30" cy="416.58" r="0.35"/><circle cx="287.34" cy="395.21" r="0.35"/><circle cx="328.90" cy="419.97" r="0.35"/><circle cx="283.25" cy="402.65" r="0.35"/><circle cx="293.02" cy="414.10" r="0.35"/><circle cx="312.99" cy="415.01" r="0.35"/><circle cx="311.62" cy="420.49" r="0.35"/><circle cx="324.34" cy="419.72" r="0.35"/><circle cx="327.92" cy="433.55" r="0.35"/><circle cx="299.75" cy="413.69" r="0.35"/><circle cx="289.53" cy="415.87" r="0.35"/><circle cx="292.33" cy="418.27" r="0.35"/><circle cx="310.78" cy="423.51" r="0.35"/><circle cx="284.62" cy="428.93" r="0.35"/><circle cx="299.74" cy="417.05" r="0.35"/><circle cx="296.09" cy="398.26" r="0.35"/><circle cx="309.83" cy="400.52" r="0.35"/><circle cx="325.07" cy="418.55" r="0.35"/><circle cx="333.18" cy="424.60" r="0.35"/><circle cx="317.84" cy="432.06" r="0.35"/><circle cx="304.49" cy="433.45" r="0.35"/><circle cx="302.95" cy="420.70" r="0.35"/><circle cx="293.14" cy="423.53" r="0.35"/><circle cx="317.22" cy="413.12" r="0.35"/><circle cx="282.28" cy="417.75" r="0.35"/><circle cx="312.77" cy="416.54" r="0.35"/><circle cx="287.74" cy="410.93" r="0.35"/><circle cx="300.45" cy="391.99" r="0.35"/><circle cx="294.70" cy="432.41" r="0.35"/><circle cx="282.22" cy="415.93" r="0.35"/><circle cx="335.44" cy="425.16" r="0.35"/><circle cx="321.69" cy="416.64" r="0.35"/><circle cx="281.40" cy="446.75" r="0.35"/><circle cx="310.59" cy="420.49" r="0.35"/><circle cx="334.59" cy="426.16" r="0.35"/><circle cx="306.22" cy="407.12" r="0.35"/><circle cx="302.40" cy="416.62" r="0.35"/><circle cx="293.04" cy="409.47" r="0.35"/><circle cx="287.23" cy="416.91" r="0.35"/><circle cx="294.52" cy="422.15" r="0.35"/><circle cx="323.31" cy="421.22" r="0.35"/><circle cx="305.52" cy="433.61" r="0.35"/><circle cx="316.85" cy="403.37" r="0.35"/><circle cx="292.28" cy="420.01" r="0.35"/><circle cx="289.37" cy="425.62" r="0.35"/><circle cx="322.68" cy="423.84" r="0.35"/><circle cx="329.18" cy="406.96" r="0.35"/><circle cx="283.79" cy="405.94" r="0.35"/><circle cx="287.45" cy="400.78" r="0.35"/><circle cx="296.41" cy="403.61" r="0.35"/><circle cx="306.18" cy="440.28" r="0.35"/><circle cx="286.25" cy="427.07" r="0.35"/><circle cx="326.00" cy="395.04" r="0.35"/><circle cx="307.03" cy="417.92" r="0.35"/><circle cx="299.04" cy="425.98" r="0.35"/><circle cx="297.18" cy="421.54" r="0.35"/><circle cx="298.08" cy="416.66" r="0.35"/><circle cx="291.00" cy="440.68" r="0.35"/><circle cx="304.04" cy="406.87" r="0.35"/><circle cx="339.98" cy="433.72" r="0.35"/><circle cx="301.51" cy="411.49" r="0.35"/><circle cx="291.83" cy="430.32" r="0.35"/><circle cx="299.17" cy="410.93" r="0.35"/><circle cx="320.13" cy="415.34" r="0.35"/><circle cx="304.07" cy="437.32" r="0.35"/><circle cx="320.52" cy="430.42" r="0.35"/><circle cx="312.53" cy="430.84" r="0.35"/><circle cx="301.99" cy="427.62" r="0.35"/><circle cx="323.81" cy="413.92" r="0.35"/><circle cx="281.99" cy="423.35" r="0.35"/><circle cx="302.87" cy="424.08" r="0.35"/><circle cx="294.25" cy="423.29" r="0.35"/></g><g fill="#222" opacity="0.42"><circle cx="265.19" cy="416.84" r="0.38"/><circle cx="284.22" cy="401.92" r="0.38"/><circle cx="318.14" cy="426.24" r="0.38"/><circle cx="292.30" cy="402.36" r="0.38"/><circle cx="302.22" cy="400.54" r="0.38"/><circle cx="339.12" cy="415.31" r="0.38"/><circle cx="274.12" cy="400.62" r="0.38"/><circle cx="338.56" cy="408.50" r="0.38"/><circle cx="329.93" cy="418.52" r="0.38"/><circle cx="279.76" cy="401.42" r="0.38"/><circle cx="285.07" cy="428.98" r="0.38"/><circle cx="313.17" cy="426.85" r="0.38"/><circle cx="267.36" cy="409.00" r="0.38"/><circle cx="332.71" cy="403.39" r="0.38"/><circle cx="321.17" cy="423.66" r="0.38"/><circle cx="284.62" cy="401.75" r="0.38"/><circle cx="336.23" cy="417.20" r="0.38"/><circle cx="341.99" cy="415.27" r="0.38"/><circle cx="309.13" cy="426.44" r="0.38"/><circle cx="324.73" cy="399.50" r="0.38"/><circle cx="279.47" cy="426.40" r="0.38"/><circle cx="286.88" cy="402.44" r="0.38"/><circle cx="276.63" cy="403.28" r="0.38"/><circle cx="278.65" cy="429.09" r="0.38"/><circle cx="326.31" cy="400.32" r="0.38"/><circle cx="321.69" cy="398.55" r="0.38"/><circle cx="286.01" cy="427.77" r="0.38"/><circle cx="288.32" cy="403.04" r="0.38"/><circle cx="284.95" cy="427.20" r="0.38"/><circle cx="309.76" cy="395.16" r="0.38"/><circle cx="325.99" cy="423.14" r="0.38"/><circle cx="268.43" cy="413.32" r="0.38"/><circle cx="298.31" cy="402.23" r="0.38"/><circle cx="336.86" cy="409.88" r="0.38"/><circle cx="273.95" cy="402.53" r="0.38"/><circle cx="266.59" cy="408.49" r="0.38"/><circle cx="281.33" cy="428.83" r="0.38"/><circle cx="269.06" cy="406.01" r="0.38"/><circle cx="290.90" cy="429.69" r="0.38"/><circle cx="335.34" cy="402.89" r="0.38"/><circle cx="302.12" cy="399.76" r="0.38"/><circle cx="302.96" cy="400.71" r="0.38"/><circle cx="268.41" cy="415.35" r="0.38"/><circle cx="287.70" cy="403.07" r="0.38"/><circle cx="327.87" cy="420.71" r="0.38"/><circle cx="279.99" cy="428.63" r="0.38"/><circle cx="312.32" cy="394.80" r="0.38"/><circle cx="341.56" cy="414.53" r="0.38"/><circle cx="329.21" cy="399.97" r="0.38"/><circle cx="267.25" cy="421.91" r="0.38"/><circle cx="301.41" cy="429.07" r="0.38"/><circle cx="277.09" cy="427.92" r="0.38"/><circle cx="309.61" cy="425.95" r="0.38"/><circle cx="336.22" cy="407.79" r="0.38"/><circle cx="287.02" cy="428.84" r="0.38"/><circle cx="277.65" cy="427.06" r="0.38"/><circle cx="288.57" cy="402.14" r="0.38"/><circle cx="323.32" cy="423.11" r="0.38"/><circle cx="276.14" cy="426.06" r="0.38"/><circle cx="283.22" cy="397.65" r="0.38"/><circle cx="322.97" cy="423.41" r="0.38"/><circle cx="322.59" cy="422.21" r="0.38"/><circle cx="337.21" cy="420.08" r="0.38"/><circle cx="270.63" cy="402.79" r="0.38"/><circle cx="331.66" cy="406.35" r="0.38"/><circle cx="270.66" cy="427.29" r="0.38"/><circle cx="304.28" cy="400.88" r="0.38"/><circle cx="340.24" cy="414.77" r="0.38"/><circle cx="340.31" cy="408.13" r="0.38"/><circle cx="335.36" cy="418.52" r="0.38"/><circle cx="301.19" cy="428.89" r="0.38"/><circle cx="328.00" cy="419.89" r="0.38"/><circle cx="320.37" cy="398.82" r="0.38"/><circle cx="269.39" cy="425.09" r="0.38"/><circle cx="271.34" cy="430.16" r="0.38"/><circle cx="303.82" cy="425.95" r="0.38"/><circle cx="315.44" cy="424.84" r="0.38"/><circle cx="329.22" cy="401.77" r="0.38"/><circle cx="321.45" cy="397.78" r="0.38"/><circle cx="333.05" cy="407.47" r="0.38"/><circle cx="337.65" cy="409.07" r="0.38"/><circle cx="324.59" cy="423.50" r="0.38"/><circle cx="313.00" cy="399.13" r="0.38"/><circle cx="306.35" cy="399.72" r="0.38"/><circle cx="314.34" cy="397.53" r="0.38"/><circle cx="288.92" cy="401.35" r="0.38"/><circle cx="338.59" cy="418.42" r="0.38"/><circle cx="341.48" cy="414.01" r="0.38"/><circle cx="272.22" cy="426.27" r="0.38"/><circle cx="311.38" cy="394.73" r="0.38"/><circle cx="269.53" cy="406.97" r="0.38"/><circle cx="280.96" cy="426.53" r="0.38"/><circle cx="316.40" cy="398.22" r="0.38"/><circle cx="275.78" cy="427.03" r="0.38"/><circle cx="285.44" cy="403.34" r="0.38"/><circle cx="302.82" cy="428.31" r="0.38"/><circle cx="320.66" cy="394.87" r="0.38"/><circle cx="307.04" cy="428.36" r="0.38"/><circle cx="297.74" cy="397.82" r="0.38"/><circle cx="300.87" cy="401.67" r="0.38"/><circle cx="273.23" cy="402.88" r="0.38"/><circle cx="293.82" cy="426.84" r="0.38"/><circle cx="337.13" cy="417.22" r="0.38"/><circle cx="287.19" cy="429.01" r="0.38"/><circle cx="278.49" cy="428.56" r="0.38"/><circle cx="326.04" cy="399.40" r="0.38"/><circle cx="293.02" cy="399.78" r="0.38"/><circle cx="304.02" cy="398.88" r="0.38"/><circle cx="339.46" cy="410.09" r="0.38"/><circle cx="327.95" cy="422.43" r="0.38"/><circle cx="272.09" cy="428.09" r="0.38"/><circle cx="307.62" cy="426.72" r="0.38"/><circle cx="291.62" cy="427.85" r="0.38"/><circle cx="269.06" cy="423.40" r="0.38"/><circle cx="268.75" cy="407.17" r="0.38"/><circle cx="331.89" cy="406.82" r="0.38"/><circle cx="286.63" cy="426.33" r="0.38"/><circle cx="333.96" cy="408.38" r="0.38"/><circle cx="295.14" cy="426.15" r="0.38"/><circle cx="304.61" cy="398.27" r="0.38"/><circle cx="335.74" cy="407.73" r="0.38"/><circle cx="339.00" cy="410.52" r="0.38"/><circle cx="278.26" cy="428.10" r="0.38"/><circle cx="311.30" cy="398.09" r="0.38"/><circle cx="323.36" cy="399.24" r="0.38"/><circle cx="298.96" cy="400.56" r="0.38"/><circle cx="278.47" cy="431.59" r="0.38"/><circle cx="327.41" cy="422.51" r="0.38"/><circle cx="313.13" cy="427.99" r="0.38"/><circle cx="268.56" cy="417.87" r="0.38"/><circle cx="268.65" cy="407.20" r="0.38"/><circle cx="280.63" cy="401.49" r="0.38"/><circle cx="275.31" cy="427.83" r="0.38"/><circle cx="279.71" cy="402.19" r="0.38"/><circle cx="275.66" cy="398.78" r="0.38"/><circle cx="292.34" cy="430.13" r="0.38"/><circle cx="297.78" cy="426.91" r="0.38"/><circle cx="298.35" cy="401.33" r="0.38"/><circle cx="316.53" cy="427.03" r="0.38"/><circle cx="330.03" cy="419.58" r="0.38"/><circle cx="325.48" cy="420.99" r="0.38"/><circle cx="336.37" cy="417.15" r="0.38"/><circle cx="294.67" cy="402.51" r="0.38"/><circle cx="313.16" cy="426.58" r="0.38"/><circle cx="290.69" cy="428.32" r="0.38"/><circle cx="302.86" cy="400.10" r="0.38"/><circle cx="328.83" cy="401.65" r="0.38"/><circle cx="317.99" cy="398.75" r="0.38"/><circle cx="334.46" cy="420.80" r="0.38"/><circle cx="320.06" cy="398.33" r="0.38"/><circle cx="265.80" cy="410.35" r="0.38"/><circle cx="321.29" cy="423.01" r="0.38"/><circle cx="267.90" cy="420.89" r="0.38"/><circle cx="266.99" cy="413.02" r="0.38"/><circle cx="304.96" cy="429.99" r="0.38"/><circle cx="266.49" cy="409.19" r="0.38"/><circle cx="288.94" cy="403.16" r="0.38"/><circle cx="283.86" cy="402.67" r="0.38"/><circle cx="282.97" cy="427.13" r="0.38"/><circle cx="312.47" cy="431.25" r="0.38"/><circle cx="330.16" cy="418.65" r="0.38"/><circle cx="266.90" cy="405.29" r="0.38"/><circle cx="308.40" cy="426.95" r="0.38"/><circle cx="293.30" cy="427.12" r="0.38"/><circle cx="293.84" cy="430.01" r="0.38"/><circle cx="299.53" cy="400.82" r="0.38"/><circle cx="305.60" cy="397.59" r="0.38"/><circle cx="294.35" cy="402.45" r="0.38"/><circle cx="265.63" cy="408.15" r="0.38"/><circle cx="289.16" cy="426.00" r="0.38"/><circle cx="322.82" cy="425.91" r="0.38"/><circle cx="310.31" cy="427.63" r="0.38"/><circle cx="293.83" cy="403.11" r="0.38"/><circle cx="319.38" cy="425.40" r="0.38"/><circle cx="330.66" cy="420.19" r="0.38"/><circle cx="273.05" cy="427.41" r="0.38"/><circle cx="283.92" cy="401.89" r="0.38"/><circle cx="315.02" cy="427.69" r="0.38"/><circle cx="276.66" cy="427.13" r="0.38"/><circle cx="282.93" cy="430.18" r="0.38"/><circle cx="294.48" cy="401.76" r="0.38"/><circle cx="267.56" cy="408.17" r="0.38"/><circle cx="314.56" cy="427.19" r="0.38"/><circle cx="280.55" cy="427.25" r="0.38"/><circle cx="329.53" cy="421.84" r="0.38"/><circle cx="269.26" cy="415.61" r="0.38"/><circle cx="282.11" cy="427.00" r="0.38"/><circle cx="316.53" cy="425.63" r="0.38"/><circle cx="278.24" cy="427.17" r="0.38"/><circle cx="264.21" cy="418.49" r="0.38"/><circle cx="291.87" cy="401.45" r="0.38"/><circle cx="304.70" cy="401.27" r="0.38"/><circle cx="333.28" cy="421.31" r="0.38"/><circle cx="286.95" cy="403.14" r="0.38"/><circle cx="311.48" cy="395.99" r="0.38"/><circle cx="341.55" cy="417.34" r="0.38"/><circle cx="296.82" cy="401.63" r="0.38"/><circle cx="276.53" cy="403.22" r="0.38"/><circle cx="318.45" cy="427.74" r="0.38"/><circle cx="293.08" cy="426.24" r="0.38"/><circle cx="295.35" cy="400.48" r="0.38"/><circle cx="289.17" cy="427.29" r="0.38"/><circle cx="343.90" cy="416.05" r="0.38"/><circle cx="314.61" cy="397.40" r="0.38"/><circle cx="292.71" cy="430.07" r="0.38"/><circle cx="326.97" cy="401.38" r="0.38"/><circle cx="285.87" cy="401.06" r="0.38"/><circle cx="283.45" cy="427.20" r="0.38"/><circle cx="335.05" cy="408.36" r="0.38"/><circle cx="293.69" cy="428.02" r="0.38"/><circle cx="298.72" cy="398.65" r="0.38"/><circle cx="273.92" cy="399.92" r="0.38"/><circle cx="272.20" cy="426.65" r="0.38"/><circle cx="288.20" cy="399.96" r="0.38"/><circle cx="293.66" cy="426.46" r="0.38"/><circle cx="266.66" cy="410.21" r="0.38"/><circle cx="266.35" cy="413.07" r="0.38"/><circle cx="294.56" cy="399.72" r="0.38"/><circle cx="321.02" cy="396.88" r="0.38"/><circle cx="269.46" cy="412.06" r="0.38"/><circle cx="310.52" cy="428.14" r="0.38"/><circle cx="267.69" cy="413.30" r="0.38"/><circle cx="334.26" cy="409.14" r="0.38"/><circle cx="335.33" cy="406.29" r="0.38"/><circle cx="326.69" cy="402.09" r="0.38"/><circle cx="326.34" cy="401.70" r="0.38"/><circle cx="321.21" cy="397.41" r="0.38"/><circle cx="328.99" cy="402.46" r="0.38"/><circle cx="269.32" cy="416.65" r="0.38"/><circle cx="274.15" cy="429.48" r="0.38"/><circle cx="316.13" cy="396.66" r="0.38"/><circle cx="307.60" cy="398.03" r="0.38"/><circle cx="265.54" cy="406.56" r="0.38"/><circle cx="311.21" cy="397.15" r="0.38"/><circle cx="286.09" cy="400.96" r="0.38"/><circle cx="312.94" cy="396.67" r="0.38"/><circle cx="266.39" cy="416.51" r="0.38"/><circle cx="269.39" cy="407.19" r="0.38"/><circle cx="267.68" cy="406.88" r="0.38"/><circle cx="291.42" cy="429.12" r="0.38"/><circle cx="293.82" cy="427.60" r="0.38"/><circle cx="318.78" cy="425.98" r="0.38"/><circle cx="273.64" cy="428.21" r="0.38"/><circle cx="323.16" cy="399.70" r="0.38"/><circle cx="283.62" cy="426.64" r="0.38"/><circle cx="289.73" cy="403.07" r="0.38"/><circle cx="289.95" cy="399.23" r="0.38"/><circle cx="329.90" cy="402.48" r="0.38"/><circle cx="287.31" cy="402.53" r="0.38"/><circle cx="321.65" cy="424.29" r="0.38"/><circle cx="291.13" cy="429.75" r="0.38"/><circle cx="313.19" cy="426.01" r="0.38"/><circle cx="273.33" cy="426.40" r="0.38"/><circle cx="291.36" cy="431.15" r="0.38"/><circle cx="317.52" cy="394.90" r="0.38"/><circle cx="284.80" cy="426.12" r="0.38"/><circle cx="294.08" cy="428.47" r="0.38"/><circle cx="327.08" cy="423.63" r="0.38"/><circle cx="309.48" cy="428.44" r="0.38"/><circle cx="294.70" cy="426.74" r="0.38"/><circle cx="268.50" cy="418.78" r="0.38"/><circle cx="307.97" cy="397.99" r="0.38"/><circle cx="269.14" cy="423.56" r="0.38"/><circle cx="276.39" cy="402.48" r="0.38"/><circle cx="268.98" cy="424.84" r="0.38"/><circle cx="269.46" cy="405.72" r="0.38"/><circle cx="318.29" cy="423.72" r="0.38"/><circle cx="312.81" cy="394.97" r="0.38"/><circle cx="328.90" cy="420.39" r="0.38"/><circle cx="341.50" cy="410.48" r="0.38"/><circle cx="283.89" cy="427.22" r="0.38"/><circle cx="333.38" cy="407.05" r="0.38"/><circle cx="270.10" cy="398.87" r="0.38"/><circle cx="270.95" cy="429.41" r="0.38"/><circle cx="300.43" cy="401.71" r="0.38"/><circle cx="310.22" cy="397.99" r="0.38"/><circle cx="309.94" cy="426.24" r="0.38"/><circle cx="284.60" cy="401.97" r="0.38"/><circle cx="299.66" cy="400.83" r="0.38"/><circle cx="277.00" cy="398.82" r="0.38"/><circle cx="325.95" cy="421.03" r="0.38"/><circle cx="270.39" cy="400.26" r="0.38"/><circle cx="330.80" cy="405.80" r="0.38"/><circle cx="336.15" cy="409.27" r="0.38"/><circle cx="326.37" cy="397.98" r="0.38"/><circle cx="283.64" cy="403.21" r="0.38"/><circle cx="270.91" cy="426.52" r="0.38"/><circle cx="292.83" cy="399.64" r="0.38"/><circle cx="286.04" cy="403.18" r="0.38"/><circle cx="311.65" cy="398.45" r="0.38"/><circle cx="293.96" cy="399.75" r="0.38"/><circle cx="328.32" cy="421.58" r="0.38"/><circle cx="334.07" cy="421.29" r="0.38"/><circle cx="277.83" cy="403.51" r="0.38"/><circle cx="277.74" cy="403.60" r="0.38"/><circle cx="331.04" cy="418.09" r="0.38"/><circle cx="312.04" cy="425.28" r="0.38"/><circle cx="334.48" cy="409.35" r="0.38"/><circle cx="322.79" cy="399.80" r="0.38"/><circle cx="290.04" cy="426.30" r="0.38"/><circle cx="266.61" cy="411.35" r="0.38"/><circle cx="276.18" cy="427.07" r="0.38"/><circle cx="274.70" cy="427.17" r="0.38"/><circle cx="285.03" cy="400.99" r="0.38"/><circle cx="283.13" cy="428.07" r="0.38"/><circle cx="323.77" cy="397.42" r="0.38"/><circle cx="268.51" cy="408.28" r="0.38"/><circle cx="284.56" cy="427.45" r="0.38"/><circle cx="307.69" cy="400.00" r="0.38"/><circle cx="279.26" cy="398.49" r="0.38"/><circle cx="268.53" cy="427.80" r="0.38"/><circle cx="300.84" cy="427.82" r="0.38"/><circle cx="269.80" cy="420.65" r="0.38"/><circle cx="330.32" cy="419.24" r="0.38"/><circle cx="307.44" cy="399.32" r="0.38"/><circle cx="285.39" cy="402.98" r="0.38"/><circle cx="322.17" cy="423.92" r="0.38"/><circle cx="333.17" cy="407.52" r="0.38"/><circle cx="286.27" cy="401.77" r="0.38"/><circle cx="275.32" cy="398.96" r="0.38"/><circle cx="281.01" cy="427.74" r="0.38"/><circle cx="280.25" cy="400.19" r="0.38"/><circle cx="291.50" cy="427.69" r="0.38"/><circle cx="297.95" cy="402.35" r="0.38"/><circle cx="328.42" cy="400.33" r="0.38"/><circle cx="296.02" cy="400.27" r="0.38"/><circle cx="269.59" cy="420.78" r="0.38"/><circle cx="263.99" cy="408.67" r="0.38"/><circle cx="297.00" cy="403.27" r="0.38"/><circle cx="302.45" cy="401.58" r="0.38"/><circle cx="326.19" cy="420.10" r="0.38"/><circle cx="330.11" cy="402.94" r="0.38"/><circle cx="340.75" cy="416.94" r="0.38"/><circle cx="323.81" cy="422.84" r="0.38"/><circle cx="295.98" cy="427.63" r="0.38"/><circle cx="288.54" cy="430.01" r="0.38"/><circle cx="279.74" cy="428.85" r="0.38"/><circle cx="282.75" cy="402.65" r="0.38"/><circle cx="341.62" cy="417.18" r="0.38"/><circle cx="265.39" cy="421.75" r="0.38"/><circle cx="326.71" cy="402.12" r="0.38"/><circle cx="265.28" cy="410.61" r="0.38"/><circle cx="302.63" cy="428.25" r="0.38"/><circle cx="272.64" cy="399.63" r="0.38"/><circle cx="323.51" cy="426.61" r="0.38"/><circle cx="312.99" cy="426.31" r="0.38"/><circle cx="303.90" cy="401.33" r="0.38"/><circle cx="290.34" cy="426.56" r="0.38"/><circle cx="285.05" cy="427.20" r="0.38"/><circle cx="323.44" cy="422.64" r="0.38"/><circle cx="302.46" cy="399.89" r="0.38"/><circle cx="323.75" cy="400.26" r="0.38"/><circle cx="300.79" cy="425.95" r="0.38"/><circle cx="322.88" cy="423.97" r="0.38"/><circle cx="268.79" cy="413.94" r="0.38"/><circle cx="315.83" cy="397.47" r="0.38"/><circle cx="324.19" cy="396.16" r="0.38"/><circle cx="300.74" cy="402.16" r="0.38"/><circle cx="296.07" cy="428.84" r="0.38"/><circle cx="331.92" cy="418.86" r="0.38"/><circle cx="316.02" cy="425.59" r="0.38"/><circle cx="335.22" cy="406.51" r="0.38"/><circle cx="284.90" cy="428.03" r="0.38"/><circle cx="268.61" cy="406.21" r="0.38"/><circle cx="300.18" cy="401.38" r="0.38"/><circle cx="301.01" cy="426.03" r="0.38"/><circle cx="285.70" cy="403.43" r="0.38"/><circle cx="320.36" cy="398.60" r="0.38"/><circle cx="313.14" cy="427.55" r="0.38"/><circle cx="269.90" cy="403.80" r="0.38"/><circle cx="294.51" cy="430.03" r="0.38"/><circle cx="322.61" cy="425.46" r="0.38"/><circle cx="280.32" cy="427.31" r="0.38"/><circle cx="299.21" cy="427.91" r="0.38"/><circle cx="288.86" cy="426.48" r="0.38"/><circle cx="338.32" cy="409.11" r="0.38"/><circle cx="323.54" cy="400.44" r="0.38"/><circle cx="291.03" cy="427.19" r="0.38"/><circle cx="294.18" cy="403.49" r="0.38"/><circle cx="298.46" cy="426.34" r="0.38"/><circle cx="313.35" cy="430.24" r="0.38"/><circle cx="267.23" cy="404.86" r="0.38"/><circle cx="290.72" cy="427.28" r="0.38"/><circle cx="273.64" cy="400.36" r="0.38"/><circle cx="316.02" cy="399.08" r="0.38"/><circle cx="309.82" cy="426.30" r="0.38"/><circle cx="318.27" cy="426.17" r="0.38"/><circle cx="308.41" cy="396.84" r="0.38"/><circle cx="317.25" cy="397.73" r="0.38"/><circle cx="273.50" cy="427.16" r="0.38"/><circle cx="333.51" cy="417.34" r="0.38"/><circle cx="305.08" cy="430.68" r="0.38"/><circle cx="330.12" cy="403.86" r="0.38"/><circle cx="336.36" cy="409.68" r="0.38"/><circle cx="269.07" cy="423.65" r="0.38"/><circle cx="277.54" cy="428.04" r="0.38"/><circle cx="289.38" cy="426.31" r="0.38"/><circle cx="302.72" cy="427.77" r="0.38"/><circle cx="306.84" cy="427.39" r="0.38"/><circle cx="267.57" cy="416.08" r="0.38"/><circle cx="295.83" cy="426.79" r="0.38"/><circle cx="302.29" cy="399.01" r="0.38"/><circle cx="314.30" cy="428.61" r="0.38"/><circle cx="331.68" cy="396.73" r="0.38"/><circle cx="283.92" cy="427.19" r="0.38"/><circle cx="318.47" cy="425.50" r="0.38"/><circle cx="308.57" cy="398.07" r="0.38"/><circle cx="297.32" cy="427.80" r="0.38"/><circle cx="331.26" cy="419.73" r="0.38"/><circle cx="330.44" cy="421.26" r="0.38"/><circle cx="329.62" cy="423.33" r="0.38"/><circle cx="307.11" cy="427.46" r="0.38"/><circle cx="305.87" cy="428.29" r="0.38"/><circle cx="338.35" cy="410.85" r="0.38"/><circle cx="302.90" cy="426.74" r="0.38"/><circle cx="307.13" cy="400.16" r="0.38"/><circle cx="279.06" cy="401.54" r="0.38"/><circle cx="332.02" cy="406.16" r="0.38"/><circle cx="338.97" cy="415.50" r="0.38"/><circle cx="340.69" cy="414.57" r="0.38"/><circle cx="318.99" cy="399.08" r="0.38"/><circle cx="288.40" cy="428.79" r="0.38"/><circle cx="280.29" cy="401.05" r="0.38"/><circle cx="269.78" cy="422.08" r="0.38"/><circle cx="312.02" cy="429.66" r="0.38"/><circle cx="302.96" cy="430.74" r="0.38"/><circle cx="277.84" cy="426.37" r="0.38"/><circle cx="302.90" cy="401.44" r="0.38"/><circle cx="283.74" cy="430.00" r="0.38"/><circle cx="282.06" cy="400.34" r="0.38"/><circle cx="268.21" cy="414.61" r="0.38"/><circle cx="277.12" cy="427.70" r="0.38"/><circle cx="326.92" cy="421.20" r="0.38"/><circle cx="284.93" cy="426.39" r="0.38"/><circle cx="294.91" cy="403.49" r="0.38"/><circle cx="272.67" cy="402.93" r="0.38"/><circle cx="320.74" cy="397.08" r="0.38"/><circle cx="328.08" cy="402.51" r="0.38"/><circle cx="273.03" cy="401.98" r="0.38"/><circle cx="308.84" cy="399.44" r="0.38"/><circle cx="325.58" cy="420.66" r="0.38"/><circle cx="269.30" cy="415.80" r="0.38"/><circle cx="269.71" cy="408.84" r="0.38"/><circle cx="319.54" cy="426.77" r="0.38"/><circle cx="311.72" cy="397.56" r="0.38"/><circle cx="316.35" cy="398.65" r="0.38"/><circle cx="340.22" cy="415.54" r="0.38"/><circle cx="269.52" cy="406.78" r="0.38"/><circle cx="287.28" cy="429.97" r="0.38"/><circle cx="329.62" cy="395.64" r="0.38"/><circle cx="273.43" cy="428.24" r="0.38"/><circle cx="342.93" cy="416.60" r="0.38"/><circle cx="268.43" cy="425.90" r="0.38"/><circle cx="328.45" cy="401.42" r="0.38"/><circle cx="285.31" cy="426.86" r="0.38"/><circle cx="336.05" cy="408.81" r="0.38"/><circle cx="299.12" cy="401.68" r="0.38"/><circle cx="282.59" cy="403.07" r="0.38"/><circle cx="322.10" cy="395.26" r="0.38"/><circle cx="307.52" cy="428.03" r="0.38"/><circle cx="288.88" cy="427.03" r="0.38"/><circle cx="336.58" cy="408.04" r="0.38"/><circle cx="308.54" cy="397.99" r="0.38"/><circle cx="269.76" cy="416.23" r="0.38"/><circle cx="278.66" cy="401.97" r="0.38"/><circle cx="288.58" cy="426.04" r="0.38"/><circle cx="276.38" cy="399.94" r="0.38"/><circle cx="338.14" cy="416.42" r="0.38"/><circle cx="294.52" cy="403.42" r="0.38"/><circle cx="269.70" cy="416.53" r="0.38"/><circle cx="279.08" cy="429.58" r="0.38"/><circle cx="332.92" cy="403.43" r="0.38"/><circle cx="312.67" cy="428.30" r="0.38"/><circle cx="332.19" cy="406.48" r="0.38"/><circle cx="272.85" cy="427.09" r="0.38"/><circle cx="281.55" cy="400.73" r="0.38"/><circle cx="279.96" cy="401.98" r="0.38"/><circle cx="332.22" cy="405.20" r="0.38"/><circle cx="269.76" cy="406.45" r="0.38"/><circle cx="325.73" cy="421.67" r="0.38"/></g><path d="M270.00,404.00 C272.50,400.25 280.83,403.53 285.00,403.50 C289.17,403.47 292.00,404.05 295.00,403.80 C298.00,403.55 300.50,402.72 303.00,402.00 C305.50,401.28 307.50,400.00 310.00,399.50 C312.50,399.00 315.50,398.75 318.00,399.00 C320.50,399.25 323.00,400.00 325.00,401.00 C327.00,402.00 328.50,403.62 330.00,405.00 C331.50,406.38 332.67,408.42 334.00,409.30 C335.33,410.18 337.07,409.68 338.00,410.30 C338.93,410.92 339.60,412.00 339.60,413.00 C339.60,414.00 339.10,415.63 338.00,416.30 C336.90,416.97 334.83,416.47 333.00,417.00 C331.17,417.53 329.17,418.50 327.00,419.50 C324.83,420.50 322.83,421.95 320.00,423.00 C317.17,424.05 314.00,425.30 310.00,425.80 C306.00,426.30 300.17,425.97 296.00,426.00 C291.83,426.03 289.33,426.00 285.00,426.00 C280.67,426.00 272.50,429.67 270.00,426.00 C267.50,422.33 267.50,407.75 270.00,404.00 Z" fill="#f0f0f0" stroke="#333" stroke-width="0.75"/><path d="M277.04,405.44 C279.14,402.29 286.14,405.05 289.64,405.02 C293.14,404.99 295.52,405.48 298.04,405.27 C300.56,405.06 302.66,404.36 304.76,403.76 C306.86,403.16 308.54,402.08 310.64,401.66 C312.74,401.24 315.26,401.03 317.36,401.24 C319.46,401.45 321.56,402.08 323.24,402.92 C324.92,403.76 326.18,405.12 327.44,406.28 C328.70,407.44 329.68,409.15 330.80,409.89 C331.92,410.63 333.38,410.21 334.16,410.73 C334.94,411.25 335.50,412.16 335.50,413.00 C335.50,413.84 335.08,415.21 334.16,415.77 C333.24,416.33 331.50,415.91 329.96,416.36 C328.42,416.81 326.74,417.62 324.92,418.46 C323.10,419.30 321.42,420.52 319.04,421.40 C316.66,422.28 314.00,423.33 310.64,423.75 C307.28,424.17 302.38,423.89 298.88,423.92 C295.38,423.95 293.28,423.92 289.64,423.92 C286.00,423.92 279.14,427.00 277.04,423.92 C274.94,420.84 274.94,408.59 277.04,405.44 Z" fill="none" stroke="#888" stroke-width="0.45"/><path d="M283.20,406.70 C284.95,404.07 290.78,406.37 293.70,406.35 C296.62,406.33 298.60,406.74 300.70,406.56 C302.80,406.38 304.55,405.80 306.30,405.30 C308.05,404.80 309.45,403.90 311.20,403.55 C312.95,403.20 315.05,403.02 316.80,403.20 C318.55,403.38 320.30,403.90 321.70,404.60 C323.10,405.30 324.15,406.43 325.20,407.40 C326.25,408.37 327.07,409.79 328.00,410.41 C328.93,411.03 330.15,410.68 330.80,411.11 C331.45,411.54 331.92,412.30 331.92,413.00 C331.92,413.70 331.57,414.84 330.80,415.31 C330.03,415.78 328.58,415.43 327.30,415.80 C326.02,416.17 324.62,416.85 323.10,417.55 C321.58,418.25 320.18,419.26 318.20,420.00 C316.22,420.74 314.00,421.61 311.20,421.96 C308.40,422.31 304.32,422.08 301.40,422.10 C298.48,422.12 296.73,422.10 293.70,422.10 C290.67,422.10 284.95,424.67 283.20,422.10 C281.45,419.53 281.45,409.32 283.20,406.70 Z" fill="none" stroke="#888" stroke-width="0.45"/><path d="M289.36,407.96 C290.76,405.86 295.43,407.70 297.76,407.68 C300.09,407.66 301.68,407.99 303.36,407.85 C305.04,407.71 306.44,407.24 307.84,406.84 C309.24,406.44 310.36,405.72 311.76,405.44 C313.16,405.16 314.84,405.02 316.24,405.16 C317.64,405.30 319.04,405.72 320.16,406.28 C321.28,406.84 322.12,407.75 322.96,408.52 C323.80,409.29 324.45,410.43 325.20,410.93 C325.95,411.42 326.92,411.14 327.44,411.49 C327.96,411.83 328.34,412.44 328.34,413.00 C328.34,413.56 328.06,414.47 327.44,414.85 C326.82,415.22 325.67,414.94 324.64,415.24 C323.61,415.54 322.49,416.08 321.28,416.64 C320.07,417.20 318.95,418.01 317.36,418.60 C315.77,419.19 314.00,419.89 311.76,420.17 C309.52,420.45 306.25,420.26 303.92,420.28 C301.59,420.30 300.19,420.28 297.76,420.28 C295.33,420.28 290.76,422.33 289.36,420.28 C287.96,418.23 287.96,410.06 289.36,407.96 Z" fill="none" stroke="#888" stroke-width="0.45"/><path d="M295.52,409.22 C296.57,407.65 300.07,409.02 301.82,409.01 C303.57,409.00 304.76,409.24 306.02,409.14 C307.28,409.03 308.33,408.68 309.38,408.38 C310.43,408.08 311.27,407.54 312.32,407.33 C313.37,407.12 314.63,407.01 315.68,407.12 C316.73,407.23 317.78,407.54 318.62,407.96 C319.46,408.38 320.09,409.06 320.72,409.64 C321.35,410.22 321.84,411.08 322.40,411.45 C322.96,411.82 323.69,411.61 324.08,411.87 C324.47,412.12 324.75,412.58 324.75,413.00 C324.75,413.42 324.54,414.11 324.08,414.39 C323.62,414.67 322.75,414.46 321.98,414.68 C321.21,414.90 320.37,415.31 319.46,415.73 C318.55,416.15 317.71,416.76 316.52,417.20 C315.33,417.64 314.00,418.17 312.32,418.38 C310.64,418.59 308.19,418.45 306.44,418.46 C304.69,418.47 303.64,418.46 301.82,418.46 C300.00,418.46 296.57,420.00 295.52,418.46 C294.47,416.92 294.47,410.80 295.52,409.22 Z" fill="none" stroke="#888" stroke-width="0.45"/><path d="M301.68,410.48 C302.38,409.43 304.71,410.35 305.88,410.34 C307.05,410.33 307.84,410.49 308.68,410.42 C309.52,410.35 310.22,410.12 310.92,409.92 C311.62,409.72 312.18,409.36 312.88,409.22 C313.58,409.08 314.42,409.01 315.12,409.08 C315.82,409.15 316.52,409.36 317.08,409.64 C317.64,409.92 318.06,410.37 318.48,410.76 C318.90,411.15 319.23,411.72 319.60,411.96 C319.97,412.21 320.46,412.07 320.72,412.24 C320.98,412.42 321.17,412.72 321.17,413.00 C321.17,413.28 321.03,413.74 320.72,413.92 C320.41,414.11 319.83,413.97 319.32,414.12 C318.81,414.27 318.25,414.54 317.64,414.82 C317.03,415.10 316.47,415.51 315.68,415.80 C314.89,416.09 314.00,416.44 312.88,416.58 C311.76,416.72 310.13,416.63 308.96,416.64 C307.79,416.65 307.09,416.64 305.88,416.64 C304.67,416.64 302.38,417.67 301.68,416.64 C300.98,415.61 300.98,411.53 301.68,410.48 Z" fill="none" stroke="#888" stroke-width="0.45"/><g fill="#111" opacity="0.75"><circle cx="281.20" cy="441.03" r="0.5"/><circle cx="278.34" cy="426.20" r="0.5"/><circle cx="281.03" cy="422.35" r="0.5"/><circle cx="279.53" cy="425.19" r="0.5"/><circle cx="278.28" cy="414.70" r="0.5"/><circle cx="281.16" cy="421.89" r="0.5"/><circle cx="277.77" cy="411.09" r="0.5"/><circle cx="278.03" cy="416.53" r="0.5"/><circle cx="280.72" cy="392.46" r="0.5"/><circle cx="278.30" cy="410.14" r="0.5"/><circle cx="279.72" cy="420.18" r="0.5"/><circle cx="277.74" cy="418.67" r="0.5"/><circle cx="278.37" cy="414.30" r="0.5"/><circle cx="277.15" cy="405.18" r="0.5"/><circle cx="277.00" cy="426.28" r="0.5"/><circle cx="277.65" cy="407.19" r="0.5"/><circle cx="278.40" cy="410.70" r="0.5"/><circle cx="277.27" cy="421.68" r="0.5"/><circle cx="281.28" cy="407.12" r="0.5"/><circle cx="276.97" cy="408.01" r="0.5"/><circle cx="280.12" cy="416.08" r="0.5"/><circle cx="278.87" cy="406.88" r="0.5"/><circle cx="278.47" cy="411.73" r="0.5"/><circle cx="277.18" cy="411.39" r="0.5"/><circle cx="277.48" cy="419.02" r="0.5"/><circle cx="277.85" cy="406.06" r="0.5"/><circle cx="278.16" cy="408.66" r="0.5"/><circle cx="277.43" cy="419.30" r="0.5"/><circle cx="277.27" cy="426.06" r="0.5"/><circle cx="276.81" cy="421.85" r="0.5"/><circle cx="278.88" cy="413.04" r="0.5"/><circle cx="278.69" cy="436.90" r="0.5"/><circle cx="278.57" cy="416.42" r="0.5"/><circle cx="278.80" cy="403.14" r="0.5"/><circle cx="277.12" cy="420.78" r="0.5"/><circle cx="280.38" cy="411.61" r="0.5"/><circle cx="278.88" cy="412.80" r="0.5"/><circle cx="279.40" cy="411.84" r="0.5"/><circle cx="277.55" cy="429.63" r="0.5"/><circle cx="280.22" cy="412.21" r="0.5"/><circle cx="279.62" cy="421.10" r="0.5"/><circle cx="278.75" cy="405.79" r="0.5"/><circle cx="277.17" cy="419.30" r="0.5"/><circle cx="281.05" cy="424.86" r="0.5"/><circle cx="279.52" cy="408.64" r="0.5"/><circle cx="278.81" cy="423.07" r="0.5"/><circle cx="279.79" cy="428.29" r="0.5"/><circle cx="279.38" cy="423.56" r="0.5"/><circle cx="277.73" cy="412.99" r="0.5"/><circle cx="280.15" cy="412.69" r="0.5"/><circle cx="280.89" cy="408.04" r="0.5"/><circle cx="278.32" cy="408.77" r="0.5"/><circle cx="280.32" cy="421.45" r="0.5"/><circle cx="280.00" cy="422.28" r="0.5"/><circle cx="278.56" cy="424.84" r="0.5"/><circle cx="277.58" cy="394.69" r="0.5"/><circle cx="277.36" cy="419.73" r="0.5"/><circle cx="276.82" cy="414.34" r="0.5"/><circle cx="277.96" cy="397.86" r="0.5"/><circle cx="277.38" cy="403.98" r="0.5"/><circle cx="278.03" cy="418.40" r="0.5"/><circle cx="279.83" cy="434.63" r="0.5"/><circle cx="277.60" cy="433.15" r="0.5"/><circle cx="277.12" cy="409.71" r="0.5"/><circle cx="277.63" cy="430.79" r="0.5"/><circle cx="280.18" cy="424.15" r="0.5"/><circle cx="277.27" cy="410.76" r="0.5"/><circle cx="278.24" cy="424.10" r="0.5"/><circle cx="279.73" cy="403.74" r="0.5"/><circle cx="277.15" cy="410.59" r="0.5"/><circle cx="277.38" cy="416.36" r="0.5"/><circle cx="279.90" cy="414.01" r="0.5"/><circle cx="278.33" cy="420.34" r="0.5"/><circle cx="279.28" cy="423.13" r="0.5"/><circle cx="279.80" cy="429.65" r="0.5"/><circle cx="278.84" cy="420.17" r="0.5"/><circle cx="279.08" cy="421.51" r="0.5"/><circle cx="281.04" cy="414.48" r="0.5"/><circle cx="279.15" cy="424.46" r="0.5"/></g></g>
<rect x="276.8" y="382.8" width="69.5" height="68.0" fill="none" stroke="#777" stroke-width="0.75"/>
<line x1="307.4" y1="382.8" x2="307.4" y2="450.8" stroke="#555" stroke-width="0.85"/>
<line x1="276.8" y1="426.4" x2="346.3" y2="426.4" stroke="#555" stroke-width="0.85"/>
<line x1="275.3" y1="388.85200000000003" x2="276.8" y2="388.85200000000003" stroke="#666" stroke-width="0.5"/>
<text x="274.5" y="390.052" font-size="3.6" fill="#444" text-anchor="end" font-weight="bold">10<tspan dy="-1.3" font-size="2.4">5</tspan></text>
<line x1="275.3" y1="403.88" x2="276.8" y2="403.88" stroke="#666" stroke-width="0.5"/>
<text x="274.5" y="405.08" font-size="3.6" fill="#444" text-anchor="end" font-weight="bold">10<tspan dy="-1.3" font-size="2.4">4</tspan></text>
<line x1="275.3" y1="419.724" x2="276.8" y2="419.724" stroke="#666" stroke-width="0.5"/>
<text x="274.5" y="420.924" font-size="3.6" fill="#444" text-anchor="end" font-weight="bold">10<tspan dy="-1.3" font-size="2.4">3</tspan></text>
<line x1="275.3" y1="435.36400000000003" x2="276.8" y2="435.36400000000003" stroke="#666" stroke-width="0.5"/>
<text x="274.5" y="436.564" font-size="3.6" fill="#444" text-anchor="end" font-weight="bold">10<tspan dy="-1.3" font-size="2.4">2</tspan></text>
<line x1="275.3" y1="444.0" x2="276.8" y2="444.0" stroke="#666" stroke-width="0.5"/>
<text x="274.5" y="445.2" font-size="3.6" fill="#444" text-anchor="end" font-weight="bold">0</text>
<line x1="283.75" y1="450.8" x2="283.75" y2="452.3" stroke="#666" stroke-width="0.5"/>
<text x="283.75" y="455.2" font-size="3.6" fill="#444" text-anchor="middle" font-weight="bold">0</text>
<line x1="290.005" y1="450.8" x2="290.005" y2="452.3" stroke="#666" stroke-width="0.5"/>
<text x="290.005" y="455.2" font-size="3.6" fill="#444" text-anchor="middle" font-weight="bold">10<tspan dy="-1.3" font-size="2.4">2</tspan></text>
<line x1="308.77000000000004" y1="450.8" x2="308.77000000000004" y2="452.3" stroke="#666" stroke-width="0.5"/>
<text x="308.77000000000004" y="455.2" font-size="3.6" fill="#444" text-anchor="middle" font-weight="bold">10<tspan dy="-1.3" font-size="2.4">3</tspan></text>
<line x1="323.365" y1="450.8" x2="323.365" y2="452.3" stroke="#666" stroke-width="0.5"/>
<text x="323.365" y="455.2" font-size="3.6" fill="#444" text-anchor="middle" font-weight="bold">10<tspan dy="-1.3" font-size="2.4">4</tspan></text>
<line x1="340.045" y1="450.8" x2="340.045" y2="452.3" stroke="#666" stroke-width="0.5"/>
<text x="340.045" y="455.2" font-size="3.6" fill="#444" text-anchor="middle" font-weight="bold">10<tspan dy="-1.3" font-size="2.4">5</tspan></text>
<text x="312.94" y="459.40000000000003" font-size="3.6" fill="#555" text-anchor="middle" textLength="25.0" lengthAdjust="spacingAndGlyphs">APC-Fire750-A: CD45RA</text>
<text x="270.0" y="417.48" font-size="3.6" fill="#555" text-anchor="middle" textLength="27.2" lengthAdjust="spacingAndGlyphs" transform="rotate(-90 270.0 417.48)">PE-A: CD123</text>
<text x="279" y="387.2" font-size="3.4" font-weight="bold" text-anchor="start" fill="#444">73.8</text>
<text x="338" y="387.2" font-size="3.4" font-weight="bold" text-anchor="start" fill="#444">22.5</text>
<text x="279" y="449.5" font-size="3.4" font-weight="bold" text-anchor="start" fill="#444">3.21</text>
<text x="336" y="449.5" font-size="3.4" font-weight="bold" text-anchor="start" fill="#444">0.523</text>
<clipPath id="fc3"><rect x="362.5" y="382.8" width="69.19999999999999" height="68.30000000000001"/></clipPath><g clip-path="url(#fc3)"><g fill="#333" opacity="0.45"><circle cx="391.87" cy="400.30" r="0.35"/><circle cx="375.14" cy="407.57" r="0.35"/><circle cx="390.14" cy="402.99" r="0.35"/><circle cx="388.92" cy="413.38" r="0.35"/><circle cx="396.87" cy="410.51" r="0.35"/><circle cx="384.16" cy="396.31" r="0.35"/><circle cx="376.38" cy="398.06" r="0.35"/><circle cx="388.69" cy="400.90" r="0.35"/><circle cx="396.44" cy="397.00" r="0.35"/><circle cx="389.85" cy="406.79" r="0.35"/><circle cx="370.54" cy="414.96" r="0.35"/><circle cx="388.73" cy="405.42" r="0.35"/><circle cx="376.16" cy="394.88" r="0.35"/><circle cx="405.30" cy="395.62" r="0.35"/><circle cx="382.84" cy="404.26" r="0.35"/><circle cx="403.00" cy="402.47" r="0.35"/><circle cx="396.82" cy="391.45" r="0.35"/><circle cx="390.52" cy="414.00" r="0.35"/><circle cx="386.17" cy="394.79" r="0.35"/><circle cx="382.55" cy="395.64" r="0.35"/><circle cx="395.75" cy="401.86" r="0.35"/><circle cx="381.92" cy="406.93" r="0.35"/><circle cx="375.51" cy="387.87" r="0.35"/><circle cx="413.57" cy="394.73" r="0.35"/><circle cx="404.65" cy="399.42" r="0.35"/><circle cx="384.84" cy="404.67" r="0.35"/><circle cx="378.05" cy="392.95" r="0.35"/><circle cx="384.98" cy="396.85" r="0.35"/><circle cx="394.93" cy="416.87" r="0.35"/><circle cx="374.61" cy="392.66" r="0.35"/><circle cx="395.33" cy="404.57" r="0.35"/><circle cx="399.23" cy="393.80" r="0.35"/><circle cx="393.61" cy="399.72" r="0.35"/><circle cx="369.76" cy="404.03" r="0.35"/><circle cx="370.42" cy="404.81" r="0.35"/><circle cx="382.36" cy="398.48" r="0.35"/><circle cx="410.21" cy="413.29" r="0.35"/><circle cx="391.81" cy="403.58" r="0.35"/><circle cx="378.93" cy="410.88" r="0.35"/><circle cx="393.91" cy="392.78" r="0.35"/><circle cx="369.38" cy="400.16" r="0.35"/><circle cx="385.31" cy="407.60" r="0.35"/><circle cx="376.20" cy="392.60" r="0.35"/><circle cx="391.74" cy="400.92" r="0.35"/><circle cx="397.40" cy="409.80" r="0.35"/><circle cx="387.84" cy="393.90" r="0.35"/><circle cx="386.13" cy="400.98" r="0.35"/><circle cx="381.23" cy="404.60" r="0.35"/><circle cx="388.36" cy="402.17" r="0.35"/><circle cx="401.17" cy="411.31" r="0.35"/><circle cx="400.12" cy="403.41" r="0.35"/><circle cx="388.77" cy="405.05" r="0.35"/><circle cx="390.62" cy="393.92" r="0.35"/><circle cx="391.45" cy="408.06" r="0.35"/><circle cx="382.87" cy="390.82" r="0.35"/><circle cx="393.44" cy="393.75" r="0.35"/><circle cx="371.29" cy="398.09" r="0.35"/><circle cx="371.57" cy="403.04" r="0.35"/><circle cx="381.76" cy="400.88" r="0.35"/><circle cx="399.48" cy="409.80" r="0.35"/><circle cx="382.16" cy="390.20" r="0.35"/><circle cx="396.85" cy="413.55" r="0.35"/><circle cx="394.72" cy="405.71" r="0.35"/><circle cx="393.21" cy="406.05" r="0.35"/><circle cx="383.30" cy="407.89" r="0.35"/><circle cx="383.98" cy="390.31" r="0.35"/><circle cx="387.79" cy="413.88" r="0.35"/><circle cx="385.25" cy="385.07" r="0.35"/><circle cx="400.52" cy="402.27" r="0.35"/><circle cx="393.13" cy="396.22" r="0.35"/><circle cx="392.43" cy="414.01" r="0.35"/><circle cx="380.36" cy="406.12" r="0.35"/><circle cx="391.06" cy="392.82" r="0.35"/><circle cx="389.21" cy="405.27" r="0.35"/><circle cx="378.25" cy="410.21" r="0.35"/><circle cx="375.38" cy="410.12" r="0.35"/><circle cx="393.93" cy="402.44" r="0.35"/><circle cx="378.92" cy="393.54" r="0.35"/><circle cx="363.59" cy="400.02" r="0.35"/><circle cx="385.92" cy="404.99" r="0.35"/><circle cx="398.22" cy="401.93" r="0.35"/><circle cx="383.69" cy="408.67" r="0.35"/><circle cx="387.20" cy="400.01" r="0.35"/><circle cx="374.75" cy="409.24" r="0.35"/><circle cx="380.12" cy="416.78" r="0.35"/><circle cx="378.07" cy="396.11" r="0.35"/><circle cx="388.24" cy="394.25" r="0.35"/><circle cx="371.72" cy="390.49" r="0.35"/><circle cx="378.51" cy="398.21" r="0.35"/><circle cx="397.76" cy="405.93" r="0.35"/><circle cx="390.69" cy="407.15" r="0.35"/><circle cx="364.04" cy="394.98" r="0.35"/><circle cx="381.39" cy="391.42" r="0.35"/><circle cx="392.41" cy="394.66" r="0.35"/><circle cx="375.56" cy="407.80" r="0.35"/><circle cx="380.33" cy="398.11" r="0.35"/><circle cx="371.23" cy="407.93" r="0.35"/><circle cx="387.76" cy="412.50" r="0.35"/><circle cx="410.74" cy="405.93" r="0.35"/><circle cx="383.44" cy="393.52" r="0.35"/><circle cx="404.75" cy="398.50" r="0.35"/><circle cx="393.99" cy="402.28" r="0.35"/><circle cx="388.98" cy="401.93" r="0.35"/><circle cx="385.84" cy="402.24" r="0.35"/><circle cx="376.55" cy="405.39" r="0.35"/><circle cx="381.86" cy="401.61" r="0.35"/><circle cx="404.83" cy="402.09" r="0.35"/><circle cx="376.37" cy="403.37" r="0.35"/><circle cx="371.93" cy="401.67" r="0.35"/><circle cx="402.21" cy="391.25" r="0.35"/><circle cx="385.70" cy="392.80" r="0.35"/><circle cx="389.12" cy="403.03" r="0.35"/><circle cx="389.17" cy="397.88" r="0.35"/><circle cx="367.11" cy="392.60" r="0.35"/><circle cx="382.65" cy="407.14" r="0.35"/><circle cx="366.08" cy="409.48" r="0.35"/><circle cx="379.32" cy="386.00" r="0.35"/><circle cx="402.71" cy="403.13" r="0.35"/><circle cx="377.35" cy="402.46" r="0.35"/><circle cx="393.63" cy="388.08" r="0.35"/><circle cx="400.86" cy="393.01" r="0.35"/><circle cx="395.93" cy="395.47" r="0.35"/><circle cx="370.55" cy="395.16" r="0.35"/><circle cx="381.79" cy="401.25" r="0.35"/><circle cx="369.60" cy="391.72" r="0.35"/><circle cx="390.55" cy="396.99" r="0.35"/><circle cx="381.71" cy="403.92" r="0.35"/><circle cx="373.30" cy="417.04" r="0.35"/><circle cx="379.38" cy="403.30" r="0.35"/><circle cx="385.48" cy="408.53" r="0.35"/><circle cx="382.57" cy="393.59" r="0.35"/><circle cx="389.79" cy="405.27" r="0.35"/><circle cx="385.64" cy="417.37" r="0.35"/><circle cx="395.12" cy="411.72" r="0.35"/><circle cx="400.66" cy="408.83" r="0.35"/><circle cx="385.26" cy="413.84" r="0.35"/><circle cx="383.33" cy="401.34" r="0.35"/><circle cx="401.87" cy="408.03" r="0.35"/><circle cx="375.86" cy="397.59" r="0.35"/><circle cx="377.82" cy="409.82" r="0.35"/><circle cx="383.44" cy="400.32" r="0.35"/><circle cx="380.01" cy="395.89" r="0.35"/><circle cx="394.20" cy="391.71" r="0.35"/><circle cx="387.75" cy="396.00" r="0.35"/><circle cx="383.34" cy="389.41" r="0.35"/><circle cx="399.30" cy="386.62" r="0.35"/><circle cx="374.30" cy="396.60" r="0.35"/><circle cx="387.84" cy="393.78" r="0.35"/><circle cx="370.11" cy="396.08" r="0.35"/><circle cx="376.63" cy="394.40" r="0.35"/><circle cx="403.78" cy="382.87" r="0.35"/><circle cx="386.78" cy="403.15" r="0.35"/><circle cx="382.71" cy="397.03" r="0.35"/><circle cx="398.14" cy="398.28" r="0.35"/><circle cx="368.98" cy="396.86" r="0.35"/><circle cx="390.79" cy="396.76" r="0.35"/><circle cx="380.96" cy="401.46" r="0.35"/><circle cx="381.82" cy="401.05" r="0.35"/><circle cx="393.71" cy="394.76" r="0.35"/><circle cx="370.62" cy="410.95" r="0.35"/><circle cx="391.03" cy="393.52" r="0.35"/><circle cx="372.25" cy="400.00" r="0.35"/><circle cx="389.06" cy="404.00" r="0.35"/><circle cx="390.72" cy="396.29" r="0.35"/><circle cx="382.71" cy="387.36" r="0.35"/><circle cx="379.27" cy="395.99" r="0.35"/><circle cx="398.00" cy="389.04" r="0.35"/><circle cx="406.24" cy="407.37" r="0.35"/><circle cx="381.60" cy="395.00" r="0.35"/><circle cx="389.22" cy="403.17" r="0.35"/><circle cx="394.30" cy="385.61" r="0.35"/><circle cx="383.37" cy="404.12" r="0.35"/><circle cx="396.26" cy="403.67" r="0.35"/><circle cx="386.03" cy="402.50" r="0.35"/><circle cx="381.52" cy="414.18" r="0.35"/><circle cx="396.33" cy="403.24" r="0.35"/><circle cx="381.08" cy="399.58" r="0.35"/><circle cx="390.83" cy="400.71" r="0.35"/><circle cx="403.76" cy="417.02" r="0.35"/><circle cx="397.10" cy="390.46" r="0.35"/><circle cx="394.16" cy="395.81" r="0.35"/><circle cx="387.07" cy="416.16" r="0.35"/><circle cx="369.20" cy="388.77" r="0.35"/><circle cx="380.47" cy="406.40" r="0.35"/><circle cx="382.85" cy="383.78" r="0.35"/><circle cx="390.95" cy="405.39" r="0.35"/><circle cx="399.76" cy="400.88" r="0.35"/><circle cx="398.49" cy="395.22" r="0.35"/><circle cx="396.12" cy="409.86" r="0.35"/><circle cx="384.23" cy="396.95" r="0.35"/><circle cx="399.61" cy="393.97" r="0.35"/><circle cx="377.83" cy="400.43" r="0.35"/><circle cx="392.99" cy="407.60" r="0.35"/><circle cx="382.16" cy="404.35" r="0.35"/><circle cx="378.08" cy="390.63" r="0.35"/><circle cx="412.22" cy="394.05" r="0.35"/><circle cx="371.49" cy="402.70" r="0.35"/><circle cx="379.46" cy="406.03" r="0.35"/><circle cx="397.77" cy="402.32" r="0.35"/><circle cx="377.66" cy="412.38" r="0.35"/><circle cx="397.76" cy="397.23" r="0.35"/><circle cx="398.78" cy="405.16" r="0.35"/><circle cx="374.12" cy="393.68" r="0.35"/><circle cx="388.86" cy="391.20" r="0.35"/><circle cx="370.73" cy="395.84" r="0.35"/><circle cx="394.30" cy="401.02" r="0.35"/><circle cx="394.62" cy="397.73" r="0.35"/><circle cx="394.97" cy="398.87" r="0.35"/><circle cx="381.38" cy="401.38" r="0.35"/><circle cx="379.03" cy="395.20" r="0.35"/><circle cx="397.17" cy="408.42" r="0.35"/><circle cx="380.57" cy="396.18" r="0.35"/><circle cx="410.08" cy="404.15" r="0.35"/><circle cx="382.27" cy="389.45" r="0.35"/><circle cx="404.16" cy="410.30" r="0.35"/><circle cx="377.99" cy="405.30" r="0.35"/><circle cx="376.80" cy="396.99" r="0.35"/><circle cx="397.75" cy="397.42" r="0.35"/><circle cx="379.43" cy="387.63" r="0.35"/><circle cx="392.58" cy="398.00" r="0.35"/><circle cx="373.93" cy="416.55" r="0.35"/><circle cx="379.41" cy="395.22" r="0.35"/><circle cx="390.69" cy="397.27" r="0.35"/><circle cx="386.92" cy="403.03" r="0.35"/><circle cx="381.47" cy="391.89" r="0.35"/><circle cx="383.39" cy="408.11" r="0.35"/><circle cx="386.68" cy="412.57" r="0.35"/><circle cx="387.60" cy="392.17" r="0.35"/><circle cx="389.05" cy="398.22" r="0.35"/><circle cx="381.71" cy="398.15" r="0.35"/><circle cx="396.46" cy="406.88" r="0.35"/><circle cx="390.36" cy="401.63" r="0.35"/><circle cx="393.47" cy="405.80" r="0.35"/><circle cx="390.99" cy="394.22" r="0.35"/><circle cx="399.28" cy="409.50" r="0.35"/><circle cx="392.72" cy="401.46" r="0.35"/><circle cx="366.91" cy="395.90" r="0.35"/><circle cx="388.82" cy="408.91" r="0.35"/><circle cx="384.23" cy="394.71" r="0.35"/><circle cx="368.51" cy="397.91" r="0.35"/><circle cx="393.19" cy="388.68" r="0.35"/><circle cx="381.02" cy="396.29" r="0.35"/><circle cx="387.60" cy="402.69" r="0.35"/><circle cx="398.36" cy="394.92" r="0.35"/><circle cx="370.79" cy="390.22" r="0.35"/><circle cx="383.37" cy="392.56" r="0.35"/><circle cx="383.44" cy="398.30" r="0.35"/><circle cx="386.81" cy="407.34" r="0.35"/><circle cx="391.07" cy="388.69" r="0.35"/><circle cx="379.03" cy="395.13" r="0.35"/><circle cx="381.12" cy="406.33" r="0.35"/><circle cx="395.99" cy="402.34" r="0.35"/><circle cx="402.47" cy="392.07" r="0.35"/><circle cx="387.06" cy="409.40" r="0.35"/><circle cx="386.77" cy="394.66" r="0.35"/><circle cx="378.78" cy="408.35" r="0.35"/><circle cx="395.35" cy="416.21" r="0.35"/><circle cx="407.49" cy="401.96" r="0.35"/><circle cx="382.10" cy="392.96" r="0.35"/><circle cx="382.19" cy="415.64" r="0.35"/><circle cx="385.36" cy="394.66" r="0.35"/><circle cx="385.18" cy="403.22" r="0.35"/><circle cx="379.75" cy="393.93" r="0.35"/><circle cx="380.56" cy="411.37" r="0.35"/><circle cx="386.86" cy="404.42" r="0.35"/><circle cx="392.95" cy="383.99" r="0.35"/><circle cx="391.50" cy="390.42" r="0.35"/><circle cx="382.92" cy="384.38" r="0.35"/><circle cx="395.19" cy="401.63" r="0.35"/><circle cx="377.00" cy="410.25" r="0.35"/><circle cx="378.26" cy="411.66" r="0.35"/><circle cx="385.87" cy="419.33" r="0.35"/><circle cx="374.73" cy="404.23" r="0.35"/><circle cx="374.16" cy="389.27" r="0.35"/><circle cx="380.65" cy="397.86" r="0.35"/><circle cx="375.02" cy="403.75" r="0.35"/><circle cx="403.88" cy="406.61" r="0.35"/><circle cx="379.06" cy="416.85" r="0.35"/><circle cx="369.97" cy="414.16" r="0.35"/><circle cx="385.25" cy="392.13" r="0.35"/><circle cx="386.93" cy="399.82" r="0.35"/><circle cx="398.40" cy="405.37" r="0.35"/><circle cx="383.38" cy="407.65" r="0.35"/><circle cx="383.85" cy="391.30" r="0.35"/><circle cx="374.47" cy="391.46" r="0.35"/><circle cx="389.42" cy="396.75" r="0.35"/><circle cx="394.82" cy="388.39" r="0.35"/><circle cx="387.60" cy="403.32" r="0.35"/><circle cx="388.51" cy="403.24" r="0.35"/><circle cx="378.99" cy="400.57" r="0.35"/><circle cx="399.88" cy="418.84" r="0.35"/><circle cx="379.93" cy="398.30" r="0.35"/><circle cx="395.82" cy="395.58" r="0.35"/><circle cx="398.91" cy="399.08" r="0.35"/><circle cx="386.85" cy="405.14" r="0.35"/><circle cx="405.25" cy="401.52" r="0.35"/><circle cx="379.43" cy="411.41" r="0.35"/><circle cx="392.52" cy="393.19" r="0.35"/><circle cx="371.04" cy="399.15" r="0.35"/><circle cx="381.06" cy="394.07" r="0.35"/><circle cx="389.61" cy="406.21" r="0.35"/><circle cx="401.08" cy="401.48" r="0.35"/><circle cx="376.08" cy="389.33" r="0.35"/><circle cx="371.94" cy="404.81" r="0.35"/><circle cx="368.79" cy="394.32" r="0.35"/><circle cx="372.79" cy="396.28" r="0.35"/><circle cx="381.55" cy="396.84" r="0.35"/><circle cx="403.38" cy="406.90" r="0.35"/><circle cx="382.76" cy="391.06" r="0.35"/><circle cx="392.43" cy="397.38" r="0.35"/><circle cx="385.72" cy="390.59" r="0.35"/><circle cx="391.15" cy="402.58" r="0.35"/><circle cx="393.39" cy="400.84" r="0.35"/><circle cx="388.92" cy="391.00" r="0.35"/><circle cx="398.16" cy="402.74" r="0.35"/><circle cx="404.34" cy="397.63" r="0.35"/><circle cx="383.38" cy="408.73" r="0.35"/><circle cx="382.14" cy="404.30" r="0.35"/><circle cx="385.82" cy="398.55" r="0.35"/><circle cx="364.41" cy="403.07" r="0.35"/><circle cx="387.60" cy="388.32" r="0.35"/><circle cx="399.12" cy="382.83" r="0.35"/><circle cx="383.91" cy="419.17" r="0.35"/><circle cx="396.17" cy="394.22" r="0.35"/><circle cx="395.13" cy="407.43" r="0.35"/><circle cx="387.43" cy="412.73" r="0.35"/><circle cx="387.77" cy="389.17" r="0.35"/><circle cx="382.36" cy="417.01" r="0.35"/><circle cx="386.36" cy="415.80" r="0.35"/><circle cx="396.42" cy="393.66" r="0.35"/><circle cx="394.55" cy="402.05" r="0.35"/><circle cx="392.86" cy="402.08" r="0.35"/><circle cx="378.93" cy="408.22" r="0.35"/><circle cx="388.05" cy="397.66" r="0.35"/><circle cx="386.83" cy="396.14" r="0.35"/><circle cx="386.66" cy="398.86" r="0.35"/><circle cx="372.80" cy="414.37" r="0.35"/><circle cx="389.33" cy="398.13" r="0.35"/><circle cx="370.09" cy="411.46" r="0.35"/><circle cx="391.90" cy="407.94" r="0.35"/><circle cx="386.40" cy="406.69" r="0.35"/><circle cx="381.54" cy="400.28" r="0.35"/><circle cx="402.40" cy="417.92" r="0.35"/><circle cx="388.05" cy="389.24" r="0.35"/><circle cx="390.51" cy="403.22" r="0.35"/><circle cx="377.02" cy="392.36" r="0.35"/><circle cx="412.72" cy="401.33" r="0.35"/><circle cx="381.38" cy="404.46" r="0.35"/><circle cx="372.39" cy="386.67" r="0.35"/><circle cx="379.99" cy="407.75" r="0.35"/><circle cx="397.69" cy="402.71" r="0.35"/><circle cx="406.00" cy="388.58" r="0.35"/><circle cx="375.33" cy="412.86" r="0.35"/><circle cx="395.49" cy="399.78" r="0.35"/><circle cx="391.99" cy="394.88" r="0.35"/><circle cx="407.95" cy="396.23" r="0.35"/><circle cx="397.07" cy="398.51" r="0.35"/><circle cx="380.89" cy="388.50" r="0.35"/><circle cx="384.17" cy="398.71" r="0.35"/><circle cx="377.96" cy="387.52" r="0.35"/><circle cx="373.49" cy="386.52" r="0.35"/><circle cx="400.93" cy="397.40" r="0.35"/><circle cx="379.62" cy="407.47" r="0.35"/><circle cx="389.95" cy="405.17" r="0.35"/><circle cx="397.70" cy="398.85" r="0.35"/><circle cx="366.54" cy="403.40" r="0.35"/><circle cx="387.88" cy="397.69" r="0.35"/><circle cx="376.50" cy="405.17" r="0.35"/><circle cx="388.37" cy="413.57" r="0.35"/><circle cx="372.80" cy="389.38" r="0.35"/><circle cx="391.27" cy="403.86" r="0.35"/><circle cx="382.89" cy="409.08" r="0.35"/><circle cx="386.66" cy="409.61" r="0.35"/><circle cx="384.96" cy="402.36" r="0.35"/><circle cx="392.75" cy="391.13" r="0.35"/><circle cx="396.82" cy="394.33" r="0.35"/><circle cx="395.73" cy="391.54" r="0.35"/><circle cx="363.34" cy="400.52" r="0.35"/><circle cx="369.32" cy="416.86" r="0.35"/><circle cx="366.26" cy="389.71" r="0.35"/><circle cx="397.37" cy="405.51" r="0.35"/><circle cx="379.63" cy="413.54" r="0.35"/><circle cx="403.80" cy="391.58" r="0.35"/><circle cx="384.03" cy="402.02" r="0.35"/><circle cx="393.71" cy="399.12" r="0.35"/><circle cx="393.16" cy="390.48" r="0.35"/><circle cx="385.16" cy="387.55" r="0.35"/><circle cx="387.82" cy="407.87" r="0.35"/><circle cx="375.35" cy="408.28" r="0.35"/><circle cx="377.98" cy="398.26" r="0.35"/><circle cx="394.88" cy="405.92" r="0.35"/><circle cx="374.40" cy="393.11" r="0.35"/><circle cx="393.53" cy="400.93" r="0.35"/><circle cx="375.51" cy="389.40" r="0.35"/><circle cx="392.09" cy="398.45" r="0.35"/><circle cx="385.50" cy="391.35" r="0.35"/><circle cx="374.22" cy="393.44" r="0.35"/><circle cx="375.62" cy="406.04" r="0.35"/><circle cx="389.04" cy="399.65" r="0.35"/><circle cx="392.39" cy="395.72" r="0.35"/><circle cx="376.36" cy="405.45" r="0.35"/><circle cx="377.43" cy="426.40" r="0.35"/><circle cx="393.21" cy="411.40" r="0.35"/></g><g fill="#222" opacity="0.4"><circle cx="393.46" cy="454.91" r="0.38"/><circle cx="415.98" cy="428.29" r="0.38"/><circle cx="391.63" cy="443.01" r="0.38"/><circle cx="413.60" cy="413.94" r="0.38"/><circle cx="393.24" cy="442.79" r="0.38"/><circle cx="398.15" cy="397.55" r="0.38"/><circle cx="401.15" cy="460.51" r="0.38"/><circle cx="393.74" cy="445.17" r="0.38"/><circle cx="413.72" cy="431.70" r="0.38"/><circle cx="409.62" cy="393.61" r="0.38"/><circle cx="395.47" cy="449.17" r="0.38"/><circle cx="395.98" cy="414.04" r="0.38"/><circle cx="397.60" cy="402.82" r="0.38"/><circle cx="410.27" cy="404.30" r="0.38"/><circle cx="409.63" cy="394.93" r="0.38"/><circle cx="412.58" cy="418.40" r="0.38"/><circle cx="400.14" cy="407.73" r="0.38"/><circle cx="413.56" cy="434.78" r="0.38"/><circle cx="413.26" cy="422.78" r="0.38"/><circle cx="401.69" cy="456.22" r="0.38"/><circle cx="413.83" cy="432.17" r="0.38"/><circle cx="409.95" cy="403.23" r="0.38"/><circle cx="407.31" cy="391.03" r="0.38"/><circle cx="395.84" cy="458.31" r="0.38"/><circle cx="409.91" cy="405.32" r="0.38"/><circle cx="413.43" cy="433.99" r="0.38"/><circle cx="408.28" cy="395.40" r="0.38"/><circle cx="412.47" cy="415.10" r="0.38"/><circle cx="392.77" cy="442.55" r="0.38"/><circle cx="412.52" cy="440.20" r="0.38"/><circle cx="399.52" cy="456.38" r="0.38"/><circle cx="410.04" cy="397.04" r="0.38"/><circle cx="408.27" cy="458.53" r="0.38"/><circle cx="411.56" cy="403.26" r="0.38"/><circle cx="397.18" cy="410.26" r="0.38"/><circle cx="411.36" cy="453.05" r="0.38"/><circle cx="415.01" cy="433.98" r="0.38"/><circle cx="412.15" cy="410.82" r="0.38"/><circle cx="406.19" cy="456.40" r="0.38"/><circle cx="409.15" cy="399.83" r="0.38"/><circle cx="395.42" cy="450.06" r="0.38"/><circle cx="413.47" cy="449.88" r="0.38"/><circle cx="404.37" cy="456.27" r="0.38"/><circle cx="395.80" cy="398.62" r="0.38"/><circle cx="408.16" cy="458.00" r="0.38"/><circle cx="394.13" cy="420.17" r="0.38"/><circle cx="413.48" cy="435.27" r="0.38"/><circle cx="392.77" cy="433.72" r="0.38"/><circle cx="394.92" cy="447.01" r="0.38"/><circle cx="389.93" cy="426.04" r="0.38"/><circle cx="398.69" cy="397.47" r="0.38"/><circle cx="393.49" cy="418.40" r="0.38"/><circle cx="398.15" cy="403.25" r="0.38"/><circle cx="393.37" cy="452.45" r="0.38"/><circle cx="403.69" cy="457.65" r="0.38"/><circle cx="391.05" cy="432.57" r="0.38"/><circle cx="414.37" cy="420.45" r="0.38"/><circle cx="394.97" cy="452.86" r="0.38"/><circle cx="395.51" cy="454.41" r="0.38"/><circle cx="398.91" cy="399.89" r="0.38"/><circle cx="411.45" cy="397.00" r="0.38"/><circle cx="394.38" cy="454.36" r="0.38"/><circle cx="400.64" cy="393.08" r="0.38"/><circle cx="400.18" cy="401.36" r="0.38"/><circle cx="414.49" cy="448.62" r="0.38"/><circle cx="411.30" cy="407.38" r="0.38"/><circle cx="408.84" cy="390.95" r="0.38"/><circle cx="392.88" cy="421.42" r="0.38"/><circle cx="414.49" cy="420.45" r="0.38"/><circle cx="393.01" cy="420.00" r="0.38"/><circle cx="389.27" cy="429.90" r="0.38"/><circle cx="388.69" cy="426.84" r="0.38"/><circle cx="397.05" cy="416.31" r="0.38"/><circle cx="398.84" cy="412.65" r="0.38"/><circle cx="395.09" cy="447.50" r="0.38"/><circle cx="413.28" cy="436.39" r="0.38"/><circle cx="414.42" cy="437.53" r="0.38"/><circle cx="411.82" cy="416.89" r="0.38"/><circle cx="408.98" cy="399.03" r="0.38"/><circle cx="410.06" cy="401.73" r="0.38"/><circle cx="413.76" cy="448.75" r="0.38"/><circle cx="398.65" cy="458.62" r="0.38"/><circle cx="411.95" cy="455.65" r="0.38"/><circle cx="404.39" cy="390.94" r="0.38"/><circle cx="409.57" cy="398.41" r="0.38"/><circle cx="414.97" cy="424.14" r="0.38"/><circle cx="412.92" cy="432.39" r="0.38"/><circle cx="411.32" cy="453.88" r="0.38"/><circle cx="412.15" cy="443.92" r="0.38"/><circle cx="416.14" cy="419.77" r="0.38"/><circle cx="408.78" cy="391.56" r="0.38"/><circle cx="416.77" cy="438.80" r="0.38"/><circle cx="412.06" cy="404.14" r="0.38"/><circle cx="399.44" cy="398.83" r="0.38"/><circle cx="412.59" cy="436.15" r="0.38"/><circle cx="413.71" cy="421.96" r="0.38"/><circle cx="390.80" cy="419.13" r="0.38"/><circle cx="411.84" cy="444.33" r="0.38"/><circle cx="397.42" cy="409.76" r="0.38"/><circle cx="412.22" cy="414.51" r="0.38"/><circle cx="413.07" cy="415.93" r="0.38"/><circle cx="394.12" cy="418.32" r="0.38"/><circle cx="413.70" cy="429.06" r="0.38"/><circle cx="391.20" cy="446.68" r="0.38"/><circle cx="415.53" cy="421.36" r="0.38"/><circle cx="390.82" cy="417.88" r="0.38"/><circle cx="411.86" cy="453.13" r="0.38"/><circle cx="392.21" cy="425.04" r="0.38"/><circle cx="410.14" cy="410.49" r="0.38"/><circle cx="410.72" cy="411.25" r="0.38"/><circle cx="412.73" cy="444.05" r="0.38"/><circle cx="411.42" cy="450.16" r="0.38"/><circle cx="391.73" cy="426.58" r="0.38"/><circle cx="402.04" cy="456.62" r="0.38"/><circle cx="397.96" cy="406.49" r="0.38"/><circle cx="410.18" cy="400.30" r="0.38"/><circle cx="395.60" cy="409.41" r="0.38"/><circle cx="400.75" cy="456.20" r="0.38"/><circle cx="414.53" cy="444.03" r="0.38"/><circle cx="398.97" cy="392.57" r="0.38"/><circle cx="406.40" cy="457.72" r="0.38"/><circle cx="399.35" cy="456.07" r="0.38"/><circle cx="398.82" cy="456.46" r="0.38"/><circle cx="398.16" cy="404.75" r="0.38"/><circle cx="413.19" cy="421.76" r="0.38"/><circle cx="397.05" cy="412.55" r="0.38"/><circle cx="414.97" cy="432.13" r="0.38"/><circle cx="395.91" cy="409.22" r="0.38"/><circle cx="393.87" cy="419.72" r="0.38"/><circle cx="394.63" cy="416.67" r="0.38"/><circle cx="416.51" cy="422.99" r="0.38"/><circle cx="398.09" cy="402.38" r="0.38"/><circle cx="412.42" cy="439.06" r="0.38"/><circle cx="412.96" cy="433.95" r="0.38"/><circle cx="398.29" cy="456.71" r="0.38"/><circle cx="391.40" cy="443.32" r="0.38"/><circle cx="394.73" cy="447.15" r="0.38"/><circle cx="393.46" cy="443.02" r="0.38"/><circle cx="412.29" cy="439.07" r="0.38"/><circle cx="392.21" cy="421.50" r="0.38"/><circle cx="397.07" cy="406.97" r="0.38"/><circle cx="408.80" cy="396.05" r="0.38"/><circle cx="413.04" cy="449.19" r="0.38"/><circle cx="415.13" cy="451.60" r="0.38"/><circle cx="403.80" cy="456.95" r="0.38"/><circle cx="414.44" cy="422.77" r="0.38"/><circle cx="410.67" cy="395.72" r="0.38"/><circle cx="392.58" cy="429.64" r="0.38"/><circle cx="394.21" cy="439.77" r="0.38"/><circle cx="414.48" cy="397.62" r="0.38"/><circle cx="411.83" cy="451.27" r="0.38"/><circle cx="398.77" cy="398.23" r="0.38"/><circle cx="392.62" cy="433.21" r="0.38"/><circle cx="394.27" cy="418.95" r="0.38"/><circle cx="412.22" cy="442.37" r="0.38"/><circle cx="414.06" cy="435.40" r="0.38"/><circle cx="394.79" cy="452.04" r="0.38"/><circle cx="410.66" cy="395.89" r="0.38"/><circle cx="400.09" cy="457.52" r="0.38"/><circle cx="398.35" cy="411.61" r="0.38"/><circle cx="399.31" cy="402.90" r="0.38"/><circle cx="411.96" cy="411.28" r="0.38"/><circle cx="395.23" cy="446.45" r="0.38"/><circle cx="400.53" cy="457.16" r="0.38"/><circle cx="413.66" cy="415.82" r="0.38"/><circle cx="402.44" cy="389.71" r="0.38"/><circle cx="394.76" cy="445.48" r="0.38"/><circle cx="391.56" cy="432.17" r="0.38"/><circle cx="398.44" cy="397.64" r="0.38"/><circle cx="415.18" cy="438.79" r="0.38"/><circle cx="399.01" cy="401.33" r="0.38"/><circle cx="411.29" cy="398.77" r="0.38"/><circle cx="396.30" cy="456.18" r="0.38"/><circle cx="388.30" cy="425.19" r="0.38"/><circle cx="397.92" cy="458.28" r="0.38"/><circle cx="393.42" cy="443.28" r="0.38"/><circle cx="394.89" cy="448.65" r="0.38"/><circle cx="397.26" cy="402.17" r="0.38"/><circle cx="393.22" cy="447.30" r="0.38"/><circle cx="413.85" cy="443.71" r="0.38"/><circle cx="392.34" cy="418.85" r="0.38"/><circle cx="397.18" cy="409.45" r="0.38"/><circle cx="397.55" cy="407.55" r="0.38"/><circle cx="405.70" cy="457.64" r="0.38"/><circle cx="415.78" cy="429.99" r="0.38"/><circle cx="415.14" cy="440.57" r="0.38"/><circle cx="412.41" cy="417.99" r="0.38"/><circle cx="416.04" cy="415.82" r="0.38"/><circle cx="411.39" cy="407.44" r="0.38"/><circle cx="395.54" cy="416.25" r="0.38"/><circle cx="413.45" cy="423.52" r="0.38"/><circle cx="412.71" cy="417.67" r="0.38"/><circle cx="398.35" cy="456.12" r="0.38"/><circle cx="391.87" cy="437.48" r="0.38"/><circle cx="413.64" cy="440.56" r="0.38"/><circle cx="401.09" cy="390.79" r="0.38"/><circle cx="413.28" cy="416.02" r="0.38"/><circle cx="413.64" cy="415.26" r="0.38"/><circle cx="416.13" cy="422.68" r="0.38"/><circle cx="411.50" cy="448.10" r="0.38"/><circle cx="392.12" cy="422.82" r="0.38"/><circle cx="396.54" cy="459.60" r="0.38"/><circle cx="393.87" cy="448.20" r="0.38"/><circle cx="412.66" cy="445.34" r="0.38"/><circle cx="416.14" cy="424.56" r="0.38"/><circle cx="415.96" cy="419.08" r="0.38"/><circle cx="409.82" cy="403.80" r="0.38"/><circle cx="404.40" cy="391.02" r="0.38"/><circle cx="399.85" cy="405.25" r="0.38"/><circle cx="400.70" cy="456.14" r="0.38"/><circle cx="415.23" cy="411.86" r="0.38"/><circle cx="399.24" cy="395.33" r="0.38"/><circle cx="411.89" cy="446.12" r="0.38"/><circle cx="410.89" cy="398.44" r="0.38"/><circle cx="412.68" cy="446.58" r="0.38"/><circle cx="390.06" cy="432.47" r="0.38"/><circle cx="398.18" cy="393.30" r="0.38"/><circle cx="394.11" cy="417.21" r="0.38"/><circle cx="397.62" cy="403.37" r="0.38"/><circle cx="415.16" cy="437.79" r="0.38"/><circle cx="412.34" cy="443.21" r="0.38"/><circle cx="413.45" cy="432.68" r="0.38"/><circle cx="412.06" cy="442.10" r="0.38"/><circle cx="393.74" cy="442.57" r="0.38"/><circle cx="416.07" cy="433.22" r="0.38"/><circle cx="398.97" cy="400.50" r="0.38"/><circle cx="413.31" cy="419.90" r="0.38"/><circle cx="413.51" cy="419.21" r="0.38"/><circle cx="411.80" cy="411.07" r="0.38"/><circle cx="394.55" cy="416.88" r="0.38"/><circle cx="394.67" cy="441.36" r="0.38"/><circle cx="391.77" cy="453.02" r="0.38"/><circle cx="415.06" cy="420.01" r="0.38"/><circle cx="393.35" cy="416.18" r="0.38"/><circle cx="391.68" cy="443.94" r="0.38"/><circle cx="412.46" cy="446.94" r="0.38"/><circle cx="414.80" cy="413.64" r="0.38"/><circle cx="398.09" cy="408.77" r="0.38"/><circle cx="401.66" cy="390.23" r="0.38"/><circle cx="400.17" cy="405.72" r="0.38"/><circle cx="399.46" cy="410.27" r="0.38"/><circle cx="412.58" cy="417.20" r="0.38"/><circle cx="391.19" cy="424.12" r="0.38"/><circle cx="399.22" cy="398.22" r="0.38"/><circle cx="403.16" cy="388.08" r="0.38"/><circle cx="393.50" cy="435.26" r="0.38"/><circle cx="399.71" cy="408.96" r="0.38"/><circle cx="397.40" cy="394.44" r="0.38"/><circle cx="414.97" cy="406.27" r="0.38"/><circle cx="412.67" cy="410.30" r="0.38"/><circle cx="392.80" cy="424.30" r="0.38"/><circle cx="398.97" cy="393.30" r="0.38"/><circle cx="388.81" cy="422.91" r="0.38"/><circle cx="395.54" cy="409.56" r="0.38"/><circle cx="408.54" cy="459.44" r="0.38"/><circle cx="395.19" cy="452.62" r="0.38"/><circle cx="390.67" cy="429.10" r="0.38"/><circle cx="393.95" cy="419.06" r="0.38"/><circle cx="392.26" cy="431.24" r="0.38"/><circle cx="412.64" cy="454.72" r="0.38"/><circle cx="415.67" cy="455.60" r="0.38"/><circle cx="401.20" cy="392.17" r="0.38"/><circle cx="392.98" cy="447.70" r="0.38"/><circle cx="401.22" cy="459.04" r="0.38"/><circle cx="396.23" cy="407.33" r="0.38"/><circle cx="412.84" cy="411.53" r="0.38"/><circle cx="408.55" cy="396.36" r="0.38"/><circle cx="390.65" cy="423.56" r="0.38"/><circle cx="413.93" cy="452.97" r="0.38"/><circle cx="413.41" cy="441.88" r="0.38"/><circle cx="405.98" cy="458.40" r="0.38"/><circle cx="410.18" cy="397.15" r="0.38"/><circle cx="411.73" cy="458.45" r="0.38"/><circle cx="398.73" cy="406.82" r="0.38"/><circle cx="414.71" cy="442.46" r="0.38"/><circle cx="412.25" cy="444.00" r="0.38"/><circle cx="394.23" cy="456.40" r="0.38"/><circle cx="405.35" cy="389.91" r="0.38"/><circle cx="399.96" cy="407.60" r="0.38"/><circle cx="409.01" cy="399.64" r="0.38"/><circle cx="412.55" cy="437.34" r="0.38"/><circle cx="415.40" cy="443.29" r="0.38"/><circle cx="400.01" cy="404.72" r="0.38"/><circle cx="398.30" cy="399.80" r="0.38"/><circle cx="397.80" cy="412.84" r="0.38"/><circle cx="408.73" cy="397.03" r="0.38"/><circle cx="393.53" cy="436.18" r="0.38"/><circle cx="409.74" cy="400.54" r="0.38"/><circle cx="413.60" cy="434.97" r="0.38"/><circle cx="397.84" cy="392.91" r="0.38"/><circle cx="411.09" cy="411.96" r="0.38"/><circle cx="396.73" cy="411.07" r="0.38"/><circle cx="399.67" cy="393.27" r="0.38"/><circle cx="392.27" cy="429.65" r="0.38"/><circle cx="392.44" cy="424.24" r="0.38"/><circle cx="392.29" cy="426.30" r="0.38"/><circle cx="395.30" cy="446.15" r="0.38"/><circle cx="389.59" cy="430.69" r="0.38"/><circle cx="410.08" cy="390.49" r="0.38"/><circle cx="413.81" cy="439.52" r="0.38"/><circle cx="391.00" cy="422.32" r="0.38"/><circle cx="413.10" cy="436.87" r="0.38"/><circle cx="395.31" cy="450.04" r="0.38"/><circle cx="391.92" cy="435.90" r="0.38"/><circle cx="396.97" cy="399.57" r="0.38"/><circle cx="412.57" cy="407.32" r="0.38"/><circle cx="394.75" cy="451.34" r="0.38"/><circle cx="414.93" cy="429.10" r="0.38"/><circle cx="414.57" cy="428.19" r="0.38"/><circle cx="412.81" cy="448.63" r="0.38"/><circle cx="414.42" cy="422.90" r="0.38"/><circle cx="414.28" cy="425.83" r="0.38"/><circle cx="410.68" cy="457.36" r="0.38"/><circle cx="411.62" cy="413.79" r="0.38"/><circle cx="391.95" cy="424.06" r="0.38"/><circle cx="399.04" cy="396.25" r="0.38"/><circle cx="412.59" cy="416.30" r="0.38"/><circle cx="395.77" cy="416.79" r="0.38"/><circle cx="414.17" cy="442.20" r="0.38"/><circle cx="391.23" cy="435.24" r="0.38"/></g><path d="M401.00,392.50 C401.92,391.83 403.83,391.58 405.00,392.00 C406.17,392.42 407.33,393.50 408.00,395.00 C408.67,396.50 408.75,398.83 409.00,401.00 C409.25,403.17 409.17,405.67 409.50,408.00 C409.83,410.33 410.42,413.00 411.00,415.00 C411.58,417.00 412.58,418.17 413.00,420.00 C413.42,421.83 413.58,423.50 413.50,426.00 C413.42,428.50 412.83,432.00 412.50,435.00 C412.17,438.00 411.75,440.50 411.50,444.00 C411.25,447.50 413.58,454.00 411.00,456.00 C408.42,458.00 398.58,457.67 396.00,456.00 C393.42,454.33 395.83,449.33 395.50,446.00 C395.17,442.67 394.50,439.00 394.00,436.00 C393.50,433.00 392.67,430.33 392.50,428.00 C392.33,425.67 392.25,423.83 393.00,422.00 C393.75,420.17 395.83,419.00 397.00,417.00 C398.17,415.00 399.42,412.50 400.00,410.00 C400.58,407.50 400.58,404.33 400.50,402.00 C400.42,399.67 399.42,397.58 399.50,396.00 C399.58,394.42 400.08,393.17 401.00,392.50 Z" fill="#f8f8f8" stroke="#333" stroke-width="0.7"/><path d="M401.00,418.82 C401.90,418.46 403.78,418.32 404.92,418.55 C406.06,418.78 407.21,419.38 407.86,420.20 C408.51,421.02 408.59,422.31 408.84,423.50 C409.08,424.69 409.00,426.07 409.33,427.35 C409.66,428.63 410.23,430.10 410.80,431.20 C411.37,432.30 412.35,432.94 412.76,433.95 C413.17,434.96 413.33,435.88 413.25,437.25 C413.17,438.62 412.60,440.55 412.27,442.20 C411.94,443.85 411.54,445.22 411.29,447.15 C411.05,449.07 413.33,452.65 410.80,453.75 C408.27,454.85 398.63,454.67 396.10,453.75 C393.57,452.83 395.94,450.08 395.61,448.25 C395.28,446.42 394.63,444.40 394.14,442.75 C393.65,441.10 392.83,439.63 392.67,438.35 C392.51,437.07 392.43,436.06 393.16,435.05 C393.90,434.04 395.94,433.40 397.08,432.30 C398.22,431.20 399.45,429.82 400.02,428.45 C400.59,427.07 400.59,425.33 400.51,424.05 C400.43,422.77 399.45,421.62 399.53,420.75 C399.61,419.88 400.10,419.19 401.00,418.82 Z" fill="#e6e6e6" stroke="#555" stroke-width="0.5"/><path d="M401.00,423.65 C401.76,423.34 403.36,423.22 404.33,423.42 C405.30,423.61 406.28,424.12 406.83,424.82 C407.39,425.52 407.46,426.61 407.66,427.62 C407.87,428.64 407.80,429.81 408.08,430.90 C408.36,431.99 408.84,433.24 409.33,434.17 C409.82,435.11 410.65,435.65 411.00,436.51 C411.34,437.36 411.48,438.14 411.41,439.31 C411.34,440.48 410.86,442.12 410.58,443.52 C410.30,444.92 409.95,446.09 409.75,447.73 C409.54,449.36 411.48,452.40 409.33,453.34 C407.18,454.27 398.99,454.12 396.84,453.34 C394.68,452.56 396.70,450.22 396.42,448.66 C396.14,447.10 395.59,445.39 395.17,443.99 C394.75,442.59 394.06,441.34 393.92,440.25 C393.78,439.16 393.71,438.30 394.34,437.44 C394.96,436.59 396.70,436.04 397.67,435.11 C398.64,434.17 399.68,433.00 400.17,431.83 C400.65,430.66 400.65,429.18 400.58,428.09 C400.51,427.00 399.68,426.03 399.75,425.29 C399.82,424.55 400.24,423.96 401.00,423.65 Z" fill="none" stroke="#888" stroke-width="0.45"/><path d="M401.00,428.48 C401.63,428.22 402.94,428.12 403.74,428.29 C404.54,428.45 405.34,428.86 405.80,429.44 C406.26,430.02 406.32,430.92 406.49,431.75 C406.66,432.58 406.60,433.55 406.83,434.44 C407.06,435.34 407.46,436.37 407.86,437.14 C408.26,437.91 408.95,438.36 409.23,439.06 C409.52,439.77 409.63,440.41 409.57,441.38 C409.52,442.34 409.12,443.68 408.89,444.84 C408.66,446.00 408.37,446.96 408.20,448.31 C408.03,449.65 409.63,452.16 407.86,452.93 C406.09,453.69 399.34,453.57 397.57,452.93 C395.80,452.28 397.46,450.36 397.23,449.07 C397.00,447.79 396.54,446.38 396.20,445.23 C395.85,444.07 395.28,443.04 395.17,442.15 C395.05,441.25 395.00,440.54 395.51,439.84 C396.03,439.13 397.46,438.68 398.26,437.91 C399.06,437.14 399.91,436.18 400.31,435.21 C400.71,434.25 400.71,433.03 400.66,432.13 C400.60,431.24 399.91,430.43 399.97,429.82 C400.03,429.22 400.37,428.73 401.00,428.48 Z" fill="none" stroke="#888" stroke-width="0.45"/><path d="M401.00,432.98 C401.50,432.78 402.55,432.70 403.20,432.83 C403.84,432.96 404.48,433.29 404.84,433.75 C405.21,434.21 405.25,434.93 405.39,435.60 C405.53,436.27 405.48,437.04 405.66,437.76 C405.85,438.47 406.17,439.30 406.49,439.91 C406.81,440.53 407.36,440.89 407.59,441.45 C407.81,442.02 407.91,442.53 407.86,443.30 C407.81,444.07 407.49,445.15 407.31,446.07 C407.13,447.00 406.90,447.77 406.76,448.84 C406.63,449.92 407.91,451.92 406.49,452.54 C405.07,453.16 399.67,453.05 398.26,452.54 C396.84,452.03 398.16,450.49 397.98,449.46 C397.80,448.43 397.43,447.30 397.16,446.38 C396.88,445.46 396.43,444.63 396.34,443.92 C396.24,443.20 396.20,442.63 396.61,442.07 C397.02,441.50 398.16,441.14 398.80,440.53 C399.45,439.91 400.13,439.14 400.45,438.37 C400.77,437.60 400.77,436.63 400.73,435.91 C400.68,435.19 400.13,434.55 400.18,434.06 C400.22,433.57 400.50,433.19 401.00,432.98 Z" fill="none" stroke="#888" stroke-width="0.45"/><path d="M401.00,437.49 C401.38,437.33 402.17,437.27 402.65,437.37 C403.13,437.47 403.61,437.72 403.88,438.06 C404.16,438.41 404.19,438.95 404.29,439.45 C404.40,439.95 404.36,440.53 404.50,441.07 C404.64,441.61 404.88,442.22 405.12,442.68 C405.36,443.15 405.77,443.42 405.94,443.84 C406.11,444.26 406.18,444.65 406.14,445.23 C406.11,445.80 405.87,446.61 405.73,447.30 C405.60,448.00 405.42,448.57 405.32,449.38 C405.22,450.19 406.18,451.69 405.12,452.15 C404.05,452.62 400.01,452.54 398.94,452.15 C397.88,451.77 398.87,450.62 398.74,449.85 C398.60,449.08 398.32,448.23 398.12,447.54 C397.91,446.84 397.57,446.23 397.50,445.69 C397.43,445.15 397.40,444.72 397.71,444.30 C398.02,443.88 398.87,443.61 399.35,443.15 C399.83,442.68 400.35,442.11 400.59,441.53 C400.83,440.95 400.83,440.22 400.79,439.68 C400.76,439.14 400.35,438.66 400.38,438.30 C400.42,437.93 400.62,437.64 401.00,437.49 Z" fill="none" stroke="#888" stroke-width="0.45"/><path d="M401.00,441.35 C401.27,441.24 401.83,441.20 402.18,441.26 C402.52,441.33 402.86,441.51 403.06,441.76 C403.25,442.01 403.28,442.39 403.35,442.75 C403.43,443.11 403.40,443.52 403.50,443.91 C403.60,444.29 403.77,444.73 403.94,445.06 C404.11,445.39 404.41,445.58 404.53,445.88 C404.65,446.19 404.70,446.46 404.68,446.88 C404.65,447.29 404.48,447.87 404.38,448.36 C404.28,448.86 404.16,449.27 404.09,449.84 C404.01,450.42 404.70,451.50 403.94,451.82 C403.18,452.15 400.29,452.10 399.53,451.82 C398.77,451.55 399.48,450.73 399.38,450.18 C399.28,449.62 399.09,449.02 398.94,448.52 C398.80,448.03 398.55,447.59 398.50,447.20 C398.45,446.82 398.43,446.52 398.65,446.22 C398.87,445.91 399.48,445.72 399.82,445.39 C400.17,445.06 400.53,444.65 400.71,444.24 C400.88,443.82 400.88,443.30 400.85,442.92 C400.83,442.53 400.53,442.19 400.56,441.93 C400.58,441.66 400.73,441.46 401.00,441.35 Z" fill="none" stroke="#888" stroke-width="0.45"/><path d="M401.00,445.21 C401.16,445.14 401.50,445.12 401.71,445.16 C401.91,445.20 402.12,445.31 402.23,445.46 C402.35,445.60 402.37,445.84 402.41,446.05 C402.46,446.26 402.44,446.51 402.50,446.74 C402.56,446.97 402.66,447.24 402.76,447.44 C402.87,447.63 403.04,447.75 403.12,447.93 C403.19,448.11 403.22,448.28 403.20,448.52 C403.19,448.77 403.09,449.12 403.03,449.42 C402.97,449.71 402.90,449.96 402.85,450.31 C402.81,450.65 403.22,451.30 402.76,451.50 C402.31,451.69 400.57,451.66 400.12,451.50 C399.66,451.33 400.09,450.83 400.03,450.50 C399.97,450.18 399.85,449.81 399.77,449.51 C399.68,449.22 399.53,448.95 399.50,448.72 C399.47,448.49 399.46,448.31 399.59,448.13 C399.72,447.95 400.09,447.83 400.29,447.63 C400.50,447.44 400.72,447.19 400.82,446.94 C400.93,446.69 400.93,446.38 400.91,446.15 C400.90,445.92 400.72,445.71 400.74,445.56 C400.75,445.40 400.84,445.27 401.00,445.21 Z" fill="none" stroke="#888" stroke-width="0.45"/><ellipse cx="380" cy="396.5" rx="2.6" ry="1.8" fill="none" stroke="#333" stroke-width="0.5"/><ellipse cx="395" cy="397.5" rx="2" ry="1.8" fill="none" stroke="#333" stroke-width="0.5"/><g fill="#111" opacity="0.9"><circle cx="403.67" cy="449.94" r="0.55"/><circle cx="408.23" cy="450.82" r="0.55"/><circle cx="408.79" cy="449.32" r="0.55"/><circle cx="409.76" cy="449.49" r="0.55"/><circle cx="400.44" cy="448.56" r="0.55"/><circle cx="403.42" cy="448.73" r="0.55"/><circle cx="399.98" cy="450.01" r="0.55"/><circle cx="407.26" cy="450.41" r="0.55"/><circle cx="397.25" cy="448.47" r="0.55"/><circle cx="399.70" cy="449.85" r="0.55"/><circle cx="408.16" cy="450.54" r="0.55"/><circle cx="409.54" cy="449.95" r="0.55"/><circle cx="405.23" cy="449.12" r="0.55"/><circle cx="400.55" cy="448.88" r="0.55"/><circle cx="403.76" cy="450.00" r="0.55"/><circle cx="404.31" cy="449.40" r="0.55"/><circle cx="402.15" cy="449.00" r="0.55"/><circle cx="407.82" cy="449.93" r="0.55"/><circle cx="406.86" cy="450.57" r="0.55"/><circle cx="400.07" cy="448.63" r="0.55"/><circle cx="400.10" cy="450.84" r="0.55"/><circle cx="407.48" cy="449.44" r="0.55"/><circle cx="407.26" cy="449.26" r="0.55"/><circle cx="408.55" cy="448.55" r="0.55"/><circle cx="406.74" cy="451.05" r="0.55"/><circle cx="402.09" cy="449.59" r="0.55"/><circle cx="397.90" cy="449.07" r="0.55"/><circle cx="399.39" cy="449.13" r="0.55"/><circle cx="396.99" cy="449.14" r="0.55"/><circle cx="397.51" cy="449.77" r="0.55"/><circle cx="401.89" cy="448.94" r="0.55"/><circle cx="409.68" cy="449.17" r="0.55"/><circle cx="403.71" cy="450.81" r="0.55"/><circle cx="407.00" cy="451.00" r="0.55"/><circle cx="404.84" cy="450.74" r="0.55"/><circle cx="396.94" cy="450.36" r="0.55"/><circle cx="400.87" cy="449.20" r="0.55"/><circle cx="407.16" cy="450.38" r="0.55"/><circle cx="400.96" cy="449.32" r="0.55"/><circle cx="400.04" cy="450.92" r="0.55"/><circle cx="404.91" cy="449.03" r="0.55"/><circle cx="403.72" cy="448.46" r="0.55"/><circle cx="399.91" cy="449.70" r="0.55"/><circle cx="410.10" cy="450.70" r="0.55"/><circle cx="403.94" cy="450.44" r="0.55"/><circle cx="399.65" cy="450.24" r="0.55"/><circle cx="410.44" cy="448.73" r="0.55"/><circle cx="409.52" cy="451.06" r="0.55"/><circle cx="401.34" cy="450.58" r="0.55"/><circle cx="410.34" cy="448.71" r="0.55"/><circle cx="402.74" cy="449.96" r="0.55"/><circle cx="407.51" cy="449.04" r="0.55"/><circle cx="406.90" cy="450.27" r="0.55"/><circle cx="408.44" cy="450.36" r="0.55"/><circle cx="408.48" cy="449.99" r="0.55"/><circle cx="403.88" cy="449.59" r="0.55"/><circle cx="401.90" cy="449.60" r="0.55"/><circle cx="403.15" cy="449.40" r="0.55"/><circle cx="398.10" cy="449.41" r="0.55"/><circle cx="409.70" cy="449.16" r="0.55"/><circle cx="410.25" cy="450.63" r="0.55"/><circle cx="402.58" cy="448.91" r="0.55"/><circle cx="408.75" cy="450.97" r="0.55"/><circle cx="400.51" cy="450.17" r="0.55"/><circle cx="406.93" cy="450.04" r="0.55"/><circle cx="397.75" cy="448.96" r="0.55"/><circle cx="406.46" cy="450.08" r="0.55"/><circle cx="405.74" cy="449.09" r="0.55"/><circle cx="408.76" cy="450.47" r="0.55"/><circle cx="403.03" cy="450.69" r="0.55"/><circle cx="400.38" cy="449.79" r="0.55"/><circle cx="403.55" cy="451.01" r="0.55"/><circle cx="409.59" cy="449.25" r="0.55"/><circle cx="407.32" cy="449.13" r="0.55"/><circle cx="408.81" cy="450.80" r="0.55"/><circle cx="405.88" cy="448.40" r="0.55"/><circle cx="400.43" cy="448.78" r="0.55"/><circle cx="403.31" cy="448.40" r="0.55"/><circle cx="396.91" cy="448.58" r="0.55"/><circle cx="408.54" cy="449.98" r="0.55"/><circle cx="408.56" cy="450.94" r="0.55"/><circle cx="404.24" cy="450.67" r="0.55"/><circle cx="402.30" cy="450.01" r="0.55"/><circle cx="398.42" cy="449.55" r="0.55"/><circle cx="397.40" cy="449.59" r="0.55"/><circle cx="409.96" cy="451.08" r="0.55"/><circle cx="406.87" cy="448.42" r="0.55"/><circle cx="410.34" cy="449.79" r="0.55"/><circle cx="405.79" cy="449.44" r="0.55"/><circle cx="407.24" cy="449.18" r="0.55"/><circle cx="397.59" cy="449.59" r="0.55"/><circle cx="398.72" cy="448.93" r="0.55"/><circle cx="398.87" cy="450.27" r="0.55"/><circle cx="405.88" cy="448.92" r="0.55"/><circle cx="405.96" cy="448.38" r="0.55"/><circle cx="409.70" cy="448.96" r="0.55"/><circle cx="403.42" cy="449.34" r="0.55"/><circle cx="408.39" cy="449.53" r="0.55"/><circle cx="398.43" cy="450.71" r="0.55"/><circle cx="404.44" cy="449.05" r="0.55"/><circle cx="406.34" cy="450.81" r="0.55"/><circle cx="406.79" cy="450.52" r="0.55"/><circle cx="401.12" cy="448.96" r="0.55"/><circle cx="396.80" cy="450.81" r="0.55"/><circle cx="399.37" cy="449.33" r="0.55"/><circle cx="407.65" cy="448.61" r="0.55"/><circle cx="409.46" cy="449.87" r="0.55"/><circle cx="398.47" cy="450.57" r="0.55"/><circle cx="405.71" cy="448.48" r="0.55"/><circle cx="403.07" cy="450.29" r="0.55"/><circle cx="399.95" cy="449.24" r="0.55"/><circle cx="408.42" cy="448.69" r="0.55"/><circle cx="399.65" cy="448.65" r="0.55"/><circle cx="403.07" cy="449.55" r="0.55"/><circle cx="399.98" cy="448.56" r="0.55"/><circle cx="397.80" cy="450.42" r="0.55"/><circle cx="404.42" cy="450.55" r="0.55"/><circle cx="397.63" cy="450.97" r="0.55"/><circle cx="405.99" cy="449.92" r="0.55"/><circle cx="408.00" cy="448.51" r="0.55"/><circle cx="404.82" cy="449.15" r="0.55"/><circle cx="396.45" cy="450.42" r="0.55"/><circle cx="396.43" cy="450.35" r="0.55"/><circle cx="400.00" cy="450.67" r="0.55"/><circle cx="396.86" cy="449.65" r="0.55"/><circle cx="410.21" cy="449.79" r="0.55"/><circle cx="405.01" cy="449.75" r="0.55"/><circle cx="404.58" cy="449.42" r="0.55"/><circle cx="399.83" cy="449.13" r="0.55"/><circle cx="408.16" cy="449.21" r="0.55"/><circle cx="406.13" cy="450.93" r="0.55"/><circle cx="409.48" cy="450.67" r="0.55"/><circle cx="409.03" cy="450.12" r="0.55"/><circle cx="403.82" cy="448.60" r="0.55"/><circle cx="397.07" cy="449.14" r="0.55"/><circle cx="403.01" cy="449.67" r="0.55"/><circle cx="396.20" cy="449.93" r="0.55"/><circle cx="401.13" cy="449.40" r="0.55"/><circle cx="397.28" cy="450.48" r="0.55"/><circle cx="407.63" cy="450.39" r="0.55"/><circle cx="397.64" cy="448.36" r="0.55"/><circle cx="409.85" cy="450.03" r="0.55"/><circle cx="409.71" cy="449.44" r="0.55"/><circle cx="407.55" cy="448.62" r="0.55"/><circle cx="397.17" cy="450.21" r="0.55"/><circle cx="405.73" cy="449.30" r="0.55"/><circle cx="403.75" cy="450.06" r="0.55"/><circle cx="399.36" cy="448.31" r="0.55"/><circle cx="402.74" cy="449.05" r="0.55"/><circle cx="409.94" cy="448.82" r="0.55"/><circle cx="403.69" cy="448.92" r="0.55"/><circle cx="402.15" cy="448.86" r="0.55"/><circle cx="399.26" cy="450.38" r="0.55"/><circle cx="406.81" cy="450.15" r="0.55"/><circle cx="410.44" cy="450.98" r="0.55"/><circle cx="403.61" cy="450.76" r="0.55"/><circle cx="405.83" cy="450.48" r="0.55"/><circle cx="399.60" cy="450.92" r="0.55"/><circle cx="406.06" cy="448.64" r="0.55"/><circle cx="396.02" cy="449.32" r="0.55"/></g></g>
<rect x="362.5" y="382.8" width="69.19999999999999" height="68.30000000000001" fill="none" stroke="#777" stroke-width="0.75"/>
<line x1="387.2" y1="382.8" x2="387.2" y2="451.1" stroke="#555" stroke-width="0.85"/>
<line x1="362.5" y1="424.0" x2="431.7" y2="424.0" stroke="#555" stroke-width="0.85"/>
<line x1="361.0" y1="388.87870000000004" x2="362.5" y2="388.87870000000004" stroke="#666" stroke-width="0.5"/>
<text x="360.2" y="390.0787" font-size="3.6" fill="#444" text-anchor="end" font-weight="bold">10<tspan dy="-1.3" font-size="2.4">5</tspan></text>
<line x1="361.0" y1="403.973" x2="362.5" y2="403.973" stroke="#666" stroke-width="0.5"/>
<text x="360.2" y="405.173" font-size="3.6" fill="#444" text-anchor="end" font-weight="bold">10<tspan dy="-1.3" font-size="2.4">4</tspan></text>
<line x1="361.0" y1="419.8869" x2="362.5" y2="419.8869" stroke="#666" stroke-width="0.5"/>
<text x="360.2" y="421.0869" font-size="3.6" fill="#444" text-anchor="end" font-weight="bold">10<tspan dy="-1.3" font-size="2.4">3</tspan></text>
<line x1="361.0" y1="435.59590000000003" x2="362.5" y2="435.59590000000003" stroke="#666" stroke-width="0.5"/>
<text x="360.2" y="436.7959" font-size="3.6" fill="#444" text-anchor="end" font-weight="bold">10<tspan dy="-1.3" font-size="2.4">2</tspan></text>
<line x1="361.0" y1="444.27000000000004" x2="362.5" y2="444.27000000000004" stroke="#666" stroke-width="0.5"/>
<text x="360.2" y="445.47" font-size="3.6" fill="#444" text-anchor="end" font-weight="bold">0</text>
<line x1="369.42" y1="451.1" x2="369.42" y2="452.6" stroke="#666" stroke-width="0.5"/>
<text x="369.42" y="455.5" font-size="3.6" fill="#444" text-anchor="middle" font-weight="bold">0</text>
<line x1="375.648" y1="451.1" x2="375.648" y2="452.6" stroke="#666" stroke-width="0.5"/>
<text x="375.648" y="455.5" font-size="3.6" fill="#444" text-anchor="middle" font-weight="bold">10<tspan dy="-1.3" font-size="2.4">2</tspan></text>
<line x1="394.332" y1="451.1" x2="394.332" y2="452.6" stroke="#666" stroke-width="0.5"/>
<text x="394.332" y="455.5" font-size="3.6" fill="#444" text-anchor="middle" font-weight="bold">10<tspan dy="-1.3" font-size="2.4">3</tspan></text>
<line x1="408.864" y1="451.1" x2="408.864" y2="452.6" stroke="#666" stroke-width="0.5"/>
<text x="408.864" y="455.5" font-size="3.6" fill="#444" text-anchor="middle" font-weight="bold">10<tspan dy="-1.3" font-size="2.4">4</tspan></text>
<line x1="425.472" y1="451.1" x2="425.472" y2="452.6" stroke="#666" stroke-width="0.5"/>
<text x="425.472" y="455.5" font-size="3.6" fill="#444" text-anchor="middle" font-weight="bold">10<tspan dy="-1.3" font-size="2.4">5</tspan></text>
<text x="398.484" y="459.70000000000005" font-size="3.6" fill="#555" text-anchor="middle" textLength="24.9" lengthAdjust="spacingAndGlyphs">V450-A: HLA-DR</text>
<text x="355.7" y="417.63300000000004" font-size="3.6" fill="#555" text-anchor="middle" textLength="27.3" lengthAdjust="spacingAndGlyphs" transform="rotate(-90 355.7 417.63300000000004)">PE-Cy7-A: CD11b</text>
<text x="364.6" y="387.2" font-size="3.4" font-weight="bold" text-anchor="start" fill="#444">3.46</text>
<text x="424" y="387.2" font-size="3.4" font-weight="bold" text-anchor="start" fill="#444">36.4</text>
<text x="364.6" y="449.5" font-size="3.4" font-weight="bold" text-anchor="start" fill="#444">0.720</text>
<text x="424" y="449.5" font-size="3.4" font-weight="bold" text-anchor="start" fill="#444">59.4</text>
<clipPath id="fc4"><rect x="447" y="382.4" width="69.5" height="68.70000000000005"/></clipPath><g clip-path="url(#fc4)"><g fill="#333" opacity="0.45"><circle cx="462.81" cy="433.42" r="0.35"/><circle cx="472.69" cy="449.05" r="0.35"/><circle cx="457.89" cy="420.08" r="0.35"/><circle cx="460.42" cy="424.46" r="0.35"/><circle cx="465.09" cy="413.68" r="0.35"/><circle cx="467.72" cy="412.12" r="0.35"/><circle cx="469.43" cy="417.98" r="0.35"/><circle cx="467.92" cy="433.18" r="0.35"/><circle cx="465.39" cy="421.43" r="0.35"/><circle cx="461.29" cy="415.35" r="0.35"/><circle cx="475.78" cy="435.04" r="0.35"/><circle cx="477.79" cy="432.55" r="0.35"/><circle cx="468.27" cy="421.55" r="0.35"/><circle cx="464.55" cy="410.34" r="0.35"/><circle cx="472.32" cy="439.58" r="0.35"/><circle cx="475.45" cy="445.06" r="0.35"/><circle cx="459.71" cy="399.47" r="0.35"/><circle cx="470.95" cy="431.17" r="0.35"/><circle cx="460.01" cy="417.70" r="0.35"/><circle cx="471.19" cy="448.94" r="0.35"/><circle cx="468.90" cy="420.34" r="0.35"/><circle cx="471.42" cy="440.96" r="0.35"/><circle cx="458.61" cy="436.94" r="0.35"/><circle cx="459.99" cy="428.47" r="0.35"/><circle cx="469.20" cy="428.80" r="0.35"/><circle cx="456.64" cy="432.59" r="0.35"/><circle cx="457.15" cy="436.18" r="0.35"/><circle cx="454.02" cy="422.39" r="0.35"/><circle cx="463.03" cy="419.98" r="0.35"/><circle cx="467.42" cy="431.11" r="0.35"/><circle cx="477.58" cy="433.40" r="0.35"/><circle cx="473.06" cy="414.99" r="0.35"/><circle cx="472.82" cy="438.25" r="0.35"/><circle cx="474.75" cy="444.58" r="0.35"/><circle cx="460.41" cy="412.83" r="0.35"/><circle cx="461.16" cy="420.75" r="0.35"/><circle cx="474.88" cy="405.11" r="0.35"/><circle cx="466.33" cy="439.78" r="0.35"/><circle cx="465.06" cy="411.49" r="0.35"/><circle cx="460.45" cy="434.41" r="0.35"/><circle cx="470.72" cy="426.21" r="0.35"/><circle cx="468.19" cy="444.26" r="0.35"/><circle cx="459.75" cy="450.23" r="0.35"/><circle cx="456.91" cy="443.68" r="0.35"/><circle cx="466.07" cy="410.15" r="0.35"/><circle cx="466.80" cy="434.42" r="0.35"/><circle cx="469.72" cy="429.34" r="0.35"/><circle cx="464.90" cy="424.53" r="0.35"/><circle cx="466.62" cy="442.19" r="0.35"/><circle cx="469.01" cy="436.13" r="0.35"/><circle cx="467.22" cy="444.36" r="0.35"/><circle cx="458.29" cy="417.90" r="0.35"/><circle cx="459.34" cy="423.81" r="0.35"/><circle cx="478.49" cy="423.73" r="0.35"/><circle cx="466.65" cy="425.56" r="0.35"/><circle cx="453.90" cy="414.01" r="0.35"/><circle cx="461.35" cy="417.92" r="0.35"/><circle cx="463.79" cy="422.45" r="0.35"/><circle cx="464.53" cy="408.94" r="0.35"/><circle cx="472.45" cy="433.72" r="0.35"/><circle cx="461.38" cy="422.23" r="0.35"/><circle cx="460.36" cy="405.41" r="0.35"/><circle cx="470.28" cy="422.76" r="0.35"/><circle cx="472.81" cy="445.59" r="0.35"/><circle cx="457.39" cy="414.62" r="0.35"/><circle cx="469.30" cy="421.47" r="0.35"/><circle cx="461.65" cy="423.12" r="0.35"/><circle cx="468.71" cy="411.87" r="0.35"/><circle cx="466.49" cy="440.92" r="0.35"/><circle cx="462.37" cy="423.53" r="0.35"/><circle cx="468.80" cy="439.37" r="0.35"/><circle cx="472.31" cy="433.63" r="0.35"/><circle cx="476.43" cy="420.42" r="0.35"/><circle cx="476.57" cy="434.88" r="0.35"/><circle cx="464.03" cy="411.12" r="0.35"/><circle cx="475.99" cy="431.11" r="0.35"/><circle cx="469.64" cy="446.68" r="0.35"/><circle cx="463.48" cy="437.44" r="0.35"/><circle cx="471.66" cy="447.53" r="0.35"/><circle cx="468.15" cy="449.99" r="0.35"/><circle cx="462.61" cy="427.46" r="0.35"/><circle cx="461.86" cy="416.80" r="0.35"/><circle cx="477.02" cy="431.46" r="0.35"/><circle cx="465.83" cy="430.40" r="0.35"/><circle cx="466.99" cy="410.37" r="0.35"/><circle cx="463.10" cy="432.64" r="0.35"/><circle cx="458.14" cy="425.54" r="0.35"/><circle cx="463.42" cy="416.15" r="0.35"/><circle cx="457.27" cy="420.74" r="0.35"/><circle cx="467.40" cy="434.45" r="0.35"/><circle cx="456.00" cy="429.80" r="0.35"/><circle cx="469.83" cy="407.62" r="0.35"/><circle cx="457.20" cy="434.51" r="0.35"/><circle cx="470.68" cy="434.75" r="0.35"/><circle cx="476.41" cy="436.51" r="0.35"/><circle cx="474.93" cy="427.98" r="0.35"/><circle cx="466.09" cy="417.39" r="0.35"/><circle cx="466.70" cy="423.55" r="0.35"/><circle cx="462.17" cy="435.43" r="0.35"/><circle cx="468.43" cy="422.88" r="0.35"/><circle cx="467.40" cy="432.01" r="0.35"/><circle cx="468.88" cy="420.01" r="0.35"/><circle cx="470.26" cy="422.55" r="0.35"/><circle cx="468.05" cy="421.80" r="0.35"/><circle cx="479.24" cy="410.94" r="0.35"/><circle cx="472.65" cy="416.32" r="0.35"/><circle cx="476.58" cy="413.22" r="0.35"/><circle cx="470.69" cy="426.01" r="0.35"/><circle cx="472.13" cy="412.51" r="0.35"/><circle cx="463.94" cy="433.50" r="0.35"/><circle cx="471.48" cy="420.67" r="0.35"/><circle cx="453.71" cy="423.68" r="0.35"/><circle cx="461.45" cy="428.85" r="0.35"/><circle cx="463.10" cy="415.52" r="0.35"/><circle cx="464.71" cy="444.72" r="0.35"/><circle cx="469.71" cy="423.31" r="0.35"/><circle cx="469.86" cy="411.00" r="0.35"/><circle cx="462.11" cy="426.99" r="0.35"/><circle cx="463.52" cy="420.30" r="0.35"/><circle cx="465.94" cy="449.56" r="0.35"/><circle cx="465.66" cy="432.81" r="0.35"/><circle cx="477.00" cy="398.52" r="0.35"/><circle cx="463.92" cy="438.54" r="0.35"/><circle cx="456.36" cy="422.92" r="0.35"/><circle cx="474.64" cy="429.22" r="0.35"/><circle cx="453.61" cy="441.51" r="0.35"/><circle cx="457.67" cy="432.94" r="0.35"/><circle cx="469.92" cy="429.75" r="0.35"/><circle cx="464.35" cy="438.12" r="0.35"/><circle cx="468.92" cy="438.18" r="0.35"/><circle cx="472.60" cy="435.48" r="0.35"/><circle cx="477.52" cy="422.99" r="0.35"/><circle cx="453.77" cy="406.42" r="0.35"/><circle cx="464.86" cy="412.54" r="0.35"/><circle cx="463.60" cy="429.21" r="0.35"/><circle cx="476.00" cy="413.44" r="0.35"/><circle cx="469.10" cy="412.18" r="0.35"/><circle cx="471.81" cy="402.37" r="0.35"/><circle cx="476.12" cy="424.70" r="0.35"/><circle cx="480.48" cy="430.72" r="0.35"/><circle cx="460.00" cy="423.02" r="0.35"/><circle cx="461.68" cy="431.67" r="0.35"/><circle cx="474.14" cy="431.24" r="0.35"/><circle cx="464.11" cy="424.85" r="0.35"/><circle cx="477.48" cy="416.92" r="0.35"/><circle cx="470.92" cy="417.74" r="0.35"/><circle cx="460.93" cy="436.21" r="0.35"/><circle cx="455.71" cy="447.94" r="0.35"/><circle cx="477.22" cy="416.58" r="0.35"/><circle cx="458.88" cy="426.37" r="0.35"/><circle cx="464.09" cy="419.61" r="0.35"/><circle cx="465.42" cy="436.66" r="0.35"/><circle cx="463.42" cy="428.23" r="0.35"/><circle cx="462.49" cy="427.03" r="0.35"/><circle cx="467.18" cy="424.00" r="0.35"/><circle cx="467.52" cy="419.76" r="0.35"/><circle cx="468.55" cy="408.80" r="0.35"/><circle cx="469.57" cy="426.11" r="0.35"/><circle cx="469.38" cy="427.40" r="0.35"/><circle cx="465.57" cy="429.08" r="0.35"/><circle cx="463.52" cy="428.17" r="0.35"/><circle cx="452.89" cy="419.25" r="0.35"/><circle cx="467.72" cy="412.42" r="0.35"/><circle cx="480.82" cy="445.41" r="0.35"/><circle cx="456.32" cy="448.19" r="0.35"/><circle cx="469.08" cy="435.35" r="0.35"/><circle cx="475.42" cy="422.12" r="0.35"/><circle cx="468.58" cy="439.21" r="0.35"/><circle cx="461.59" cy="425.80" r="0.35"/><circle cx="466.49" cy="432.51" r="0.35"/><circle cx="459.79" cy="427.32" r="0.35"/><circle cx="461.97" cy="438.17" r="0.35"/><circle cx="462.62" cy="436.93" r="0.35"/><circle cx="466.29" cy="421.79" r="0.35"/><circle cx="471.39" cy="434.76" r="0.35"/><circle cx="464.32" cy="440.10" r="0.35"/><circle cx="475.23" cy="407.48" r="0.35"/><circle cx="471.50" cy="405.38" r="0.35"/><circle cx="466.67" cy="438.07" r="0.35"/><circle cx="469.79" cy="433.87" r="0.35"/><circle cx="465.70" cy="436.13" r="0.35"/><circle cx="458.86" cy="450.62" r="0.35"/><circle cx="453.19" cy="425.75" r="0.35"/><circle cx="456.17" cy="424.88" r="0.35"/><circle cx="462.13" cy="415.08" r="0.35"/><circle cx="473.16" cy="421.24" r="0.35"/><circle cx="461.67" cy="427.82" r="0.35"/><circle cx="471.16" cy="434.78" r="0.35"/><circle cx="463.36" cy="431.23" r="0.35"/><circle cx="467.08" cy="427.39" r="0.35"/><circle cx="461.79" cy="430.98" r="0.35"/><circle cx="456.42" cy="439.41" r="0.35"/><circle cx="471.89" cy="425.50" r="0.35"/><circle cx="463.00" cy="405.43" r="0.35"/><circle cx="464.49" cy="438.71" r="0.35"/><circle cx="455.56" cy="436.51" r="0.35"/><circle cx="461.80" cy="450.13" r="0.35"/><circle cx="469.58" cy="443.27" r="0.35"/><circle cx="464.93" cy="425.88" r="0.35"/><circle cx="460.68" cy="446.49" r="0.35"/><circle cx="464.32" cy="430.18" r="0.35"/><circle cx="458.65" cy="430.57" r="0.35"/><circle cx="459.84" cy="430.19" r="0.35"/><circle cx="474.28" cy="421.79" r="0.35"/><circle cx="459.87" cy="432.12" r="0.35"/><circle cx="466.55" cy="419.95" r="0.35"/><circle cx="455.92" cy="430.09" r="0.35"/><circle cx="468.86" cy="431.35" r="0.35"/><circle cx="474.48" cy="433.14" r="0.35"/><circle cx="468.73" cy="412.60" r="0.35"/><circle cx="464.89" cy="426.09" r="0.35"/><circle cx="461.61" cy="437.25" r="0.35"/><circle cx="463.64" cy="435.14" r="0.35"/><circle cx="463.02" cy="433.71" r="0.35"/><circle cx="473.06" cy="434.10" r="0.35"/><circle cx="472.32" cy="429.79" r="0.35"/><circle cx="457.08" cy="439.62" r="0.35"/><circle cx="464.20" cy="416.27" r="0.35"/><circle cx="475.46" cy="428.66" r="0.35"/><circle cx="464.60" cy="412.53" r="0.35"/><circle cx="472.97" cy="427.24" r="0.35"/><circle cx="460.11" cy="436.28" r="0.35"/><circle cx="472.66" cy="437.44" r="0.35"/><circle cx="472.03" cy="440.07" r="0.35"/><circle cx="459.04" cy="417.19" r="0.35"/><circle cx="469.79" cy="443.92" r="0.35"/><circle cx="482.38" cy="416.77" r="0.35"/><circle cx="466.34" cy="421.59" r="0.35"/><circle cx="466.57" cy="421.21" r="0.35"/><circle cx="467.52" cy="427.64" r="0.35"/><circle cx="472.05" cy="429.17" r="0.35"/><circle cx="479.07" cy="440.77" r="0.35"/><circle cx="470.21" cy="424.38" r="0.35"/><circle cx="469.80" cy="420.54" r="0.35"/><circle cx="467.29" cy="422.84" r="0.35"/><circle cx="472.07" cy="423.66" r="0.35"/><circle cx="466.57" cy="439.89" r="0.35"/><circle cx="467.65" cy="428.02" r="0.35"/><circle cx="458.02" cy="430.34" r="0.35"/><circle cx="473.28" cy="427.73" r="0.35"/><circle cx="463.60" cy="435.34" r="0.35"/><circle cx="479.24" cy="431.24" r="0.35"/><circle cx="464.53" cy="419.81" r="0.35"/><circle cx="466.37" cy="411.17" r="0.35"/><circle cx="461.78" cy="418.74" r="0.35"/><circle cx="475.40" cy="409.74" r="0.35"/><circle cx="466.20" cy="420.96" r="0.35"/><circle cx="457.85" cy="433.14" r="0.35"/><circle cx="472.79" cy="424.11" r="0.35"/><circle cx="463.76" cy="428.46" r="0.35"/><circle cx="470.36" cy="431.42" r="0.35"/><circle cx="464.14" cy="421.16" r="0.35"/><circle cx="466.26" cy="412.22" r="0.35"/><circle cx="464.33" cy="441.01" r="0.35"/><circle cx="466.77" cy="425.61" r="0.35"/><circle cx="458.99" cy="414.87" r="0.35"/><circle cx="471.27" cy="425.94" r="0.35"/><circle cx="458.93" cy="412.88" r="0.35"/><circle cx="462.60" cy="445.96" r="0.35"/><circle cx="465.98" cy="400.94" r="0.35"/><circle cx="463.52" cy="430.71" r="0.35"/><circle cx="457.02" cy="426.28" r="0.35"/><circle cx="474.64" cy="418.48" r="0.35"/><circle cx="454.71" cy="421.68" r="0.35"/><circle cx="470.88" cy="415.79" r="0.35"/><circle cx="465.89" cy="429.52" r="0.35"/><circle cx="465.16" cy="427.07" r="0.35"/><circle cx="465.52" cy="444.79" r="0.35"/><circle cx="465.49" cy="418.32" r="0.35"/><circle cx="455.97" cy="414.34" r="0.35"/><circle cx="465.14" cy="418.19" r="0.35"/><circle cx="474.94" cy="427.45" r="0.35"/><circle cx="466.67" cy="447.95" r="0.35"/><circle cx="468.59" cy="405.97" r="0.35"/><circle cx="471.54" cy="411.19" r="0.35"/><circle cx="458.20" cy="439.69" r="0.35"/><circle cx="467.02" cy="407.64" r="0.35"/><circle cx="454.32" cy="416.99" r="0.35"/><circle cx="455.61" cy="425.96" r="0.35"/><circle cx="462.05" cy="422.45" r="0.35"/><circle cx="454.88" cy="429.22" r="0.35"/><circle cx="464.79" cy="408.75" r="0.35"/><circle cx="456.72" cy="425.05" r="0.35"/><circle cx="461.90" cy="419.43" r="0.35"/><circle cx="473.69" cy="428.17" r="0.35"/><circle cx="463.21" cy="414.98" r="0.35"/><circle cx="459.87" cy="436.10" r="0.35"/><circle cx="472.83" cy="437.67" r="0.35"/><circle cx="468.92" cy="430.36" r="0.35"/><circle cx="479.01" cy="441.01" r="0.35"/><circle cx="473.07" cy="419.61" r="0.35"/><circle cx="469.80" cy="425.12" r="0.35"/><circle cx="462.43" cy="417.39" r="0.35"/><circle cx="472.14" cy="437.04" r="0.35"/><circle cx="469.74" cy="433.71" r="0.35"/><circle cx="468.81" cy="434.45" r="0.35"/><circle cx="471.57" cy="420.24" r="0.35"/><circle cx="462.81" cy="426.12" r="0.35"/><circle cx="467.63" cy="432.24" r="0.35"/><circle cx="463.63" cy="414.21" r="0.35"/><circle cx="465.59" cy="413.41" r="0.35"/><circle cx="465.96" cy="439.09" r="0.35"/><circle cx="456.81" cy="446.67" r="0.35"/><circle cx="462.69" cy="408.11" r="0.35"/><circle cx="457.58" cy="404.42" r="0.35"/><circle cx="466.01" cy="427.72" r="0.35"/><circle cx="467.48" cy="429.49" r="0.35"/><circle cx="469.23" cy="423.31" r="0.35"/><circle cx="458.27" cy="431.39" r="0.35"/><circle cx="466.78" cy="436.72" r="0.35"/><circle cx="468.83" cy="423.32" r="0.35"/><circle cx="469.32" cy="417.22" r="0.35"/><circle cx="463.77" cy="417.81" r="0.35"/><circle cx="461.93" cy="412.53" r="0.35"/><circle cx="461.52" cy="432.33" r="0.35"/><circle cx="457.03" cy="435.80" r="0.35"/><circle cx="470.08" cy="428.51" r="0.35"/><circle cx="460.51" cy="441.71" r="0.35"/><circle cx="461.72" cy="427.57" r="0.35"/><circle cx="471.68" cy="418.07" r="0.35"/><circle cx="470.52" cy="421.14" r="0.35"/><circle cx="473.53" cy="423.56" r="0.35"/><circle cx="464.03" cy="433.24" r="0.35"/><circle cx="467.16" cy="421.53" r="0.35"/><circle cx="470.78" cy="409.90" r="0.35"/><circle cx="472.52" cy="441.11" r="0.35"/><circle cx="465.20" cy="423.36" r="0.35"/><circle cx="466.85" cy="401.15" r="0.35"/><circle cx="462.22" cy="439.61" r="0.35"/><circle cx="462.25" cy="432.33" r="0.35"/><circle cx="470.69" cy="441.79" r="0.35"/><circle cx="469.06" cy="426.84" r="0.35"/><circle cx="473.42" cy="429.86" r="0.35"/><circle cx="464.84" cy="450.04" r="0.35"/><circle cx="465.65" cy="430.28" r="0.35"/><circle cx="463.72" cy="438.51" r="0.35"/><circle cx="460.38" cy="432.63" r="0.35"/><circle cx="470.25" cy="428.68" r="0.35"/><circle cx="467.71" cy="421.32" r="0.35"/><circle cx="467.49" cy="438.60" r="0.35"/><circle cx="458.45" cy="412.85" r="0.35"/><circle cx="466.86" cy="421.32" r="0.35"/><circle cx="469.39" cy="425.17" r="0.35"/><circle cx="470.18" cy="407.61" r="0.35"/><circle cx="470.38" cy="435.12" r="0.35"/><circle cx="467.55" cy="439.89" r="0.35"/><circle cx="468.18" cy="408.58" r="0.35"/><circle cx="466.07" cy="425.29" r="0.35"/><circle cx="465.19" cy="409.39" r="0.35"/><circle cx="467.61" cy="433.69" r="0.35"/><circle cx="457.79" cy="429.03" r="0.35"/><circle cx="474.67" cy="443.81" r="0.35"/><circle cx="453.65" cy="416.87" r="0.35"/><circle cx="471.04" cy="421.83" r="0.35"/><circle cx="464.17" cy="448.66" r="0.35"/><circle cx="457.87" cy="428.24" r="0.35"/><circle cx="462.96" cy="398.14" r="0.35"/><circle cx="459.38" cy="426.87" r="0.35"/><circle cx="467.49" cy="424.57" r="0.35"/><circle cx="462.09" cy="430.92" r="0.35"/><circle cx="457.45" cy="414.88" r="0.35"/><circle cx="462.34" cy="431.37" r="0.35"/><circle cx="475.35" cy="444.32" r="0.35"/><circle cx="453.93" cy="414.83" r="0.35"/><circle cx="465.43" cy="436.96" r="0.35"/><circle cx="469.65" cy="442.17" r="0.35"/><circle cx="455.04" cy="419.86" r="0.35"/><circle cx="461.41" cy="422.73" r="0.35"/><circle cx="474.42" cy="439.60" r="0.35"/><circle cx="471.07" cy="424.87" r="0.35"/><circle cx="463.21" cy="440.42" r="0.35"/><circle cx="458.98" cy="440.82" r="0.35"/><circle cx="459.16" cy="429.55" r="0.35"/><circle cx="462.72" cy="433.81" r="0.35"/><circle cx="478.74" cy="415.75" r="0.35"/><circle cx="467.46" cy="438.34" r="0.35"/><circle cx="464.91" cy="417.92" r="0.35"/><circle cx="458.78" cy="433.09" r="0.35"/><circle cx="465.24" cy="438.80" r="0.35"/><circle cx="463.19" cy="402.49" r="0.35"/><circle cx="477.26" cy="436.90" r="0.35"/><circle cx="473.51" cy="436.38" r="0.35"/><circle cx="473.13" cy="432.48" r="0.35"/><circle cx="467.45" cy="447.83" r="0.35"/><circle cx="473.13" cy="429.70" r="0.35"/><circle cx="473.17" cy="424.70" r="0.35"/><circle cx="457.89" cy="433.66" r="0.35"/><circle cx="468.50" cy="411.91" r="0.35"/><circle cx="462.48" cy="431.75" r="0.35"/><circle cx="467.45" cy="415.26" r="0.35"/><circle cx="471.26" cy="425.30" r="0.35"/><circle cx="463.66" cy="439.55" r="0.35"/><circle cx="476.40" cy="426.56" r="0.35"/><circle cx="463.46" cy="444.24" r="0.35"/><circle cx="466.91" cy="424.62" r="0.35"/><circle cx="465.85" cy="415.52" r="0.35"/><circle cx="473.37" cy="415.60" r="0.35"/><circle cx="464.36" cy="431.38" r="0.35"/><circle cx="461.14" cy="434.03" r="0.35"/><circle cx="468.62" cy="444.08" r="0.35"/><circle cx="470.26" cy="419.00" r="0.35"/><circle cx="471.74" cy="437.37" r="0.35"/><circle cx="465.04" cy="430.78" r="0.35"/><circle cx="470.88" cy="434.26" r="0.35"/><circle cx="469.11" cy="429.26" r="0.35"/><circle cx="472.99" cy="423.46" r="0.35"/><circle cx="466.70" cy="430.94" r="0.35"/><circle cx="464.80" cy="437.47" r="0.35"/><circle cx="469.58" cy="425.51" r="0.35"/><circle cx="472.22" cy="421.75" r="0.35"/><circle cx="468.63" cy="414.79" r="0.35"/><circle cx="480.73" cy="420.98" r="0.35"/><circle cx="462.05" cy="421.12" r="0.35"/><circle cx="464.95" cy="434.29" r="0.35"/><circle cx="467.06" cy="443.01" r="0.35"/><circle cx="459.52" cy="434.84" r="0.35"/><circle cx="475.29" cy="422.71" r="0.35"/><circle cx="475.34" cy="420.44" r="0.35"/><circle cx="466.04" cy="431.23" r="0.35"/><circle cx="464.96" cy="422.11" r="0.35"/><circle cx="464.58" cy="424.13" r="0.35"/><circle cx="459.54" cy="421.56" r="0.35"/><circle cx="455.44" cy="433.11" r="0.35"/><circle cx="464.68" cy="420.61" r="0.35"/><circle cx="459.79" cy="428.55" r="0.35"/><circle cx="462.73" cy="433.14" r="0.35"/><circle cx="467.47" cy="442.99" r="0.35"/><circle cx="471.87" cy="432.44" r="0.35"/><circle cx="459.33" cy="428.21" r="0.35"/><circle cx="462.10" cy="409.44" r="0.35"/><circle cx="462.53" cy="426.46" r="0.35"/><circle cx="472.18" cy="450.94" r="0.35"/><circle cx="459.20" cy="430.62" r="0.35"/><circle cx="467.63" cy="443.22" r="0.35"/><circle cx="460.32" cy="437.75" r="0.35"/><circle cx="453.52" cy="420.01" r="0.35"/><circle cx="468.16" cy="404.01" r="0.35"/><circle cx="467.84" cy="424.55" r="0.35"/><circle cx="462.39" cy="422.22" r="0.35"/><circle cx="462.08" cy="439.09" r="0.35"/><circle cx="458.17" cy="426.04" r="0.35"/><circle cx="463.35" cy="429.98" r="0.35"/><circle cx="467.63" cy="427.69" r="0.35"/><circle cx="482.77" cy="417.24" r="0.35"/><circle cx="463.90" cy="421.48" r="0.35"/><circle cx="464.39" cy="418.54" r="0.35"/><circle cx="458.62" cy="444.54" r="0.35"/><circle cx="465.80" cy="425.59" r="0.35"/><circle cx="471.60" cy="424.09" r="0.35"/><circle cx="464.21" cy="438.40" r="0.35"/><circle cx="467.77" cy="439.15" r="0.35"/><circle cx="474.94" cy="402.22" r="0.35"/><circle cx="470.76" cy="414.83" r="0.35"/><circle cx="459.90" cy="433.67" r="0.35"/><circle cx="468.69" cy="434.78" r="0.35"/><circle cx="475.93" cy="433.49" r="0.35"/><circle cx="468.98" cy="432.22" r="0.35"/><circle cx="456.18" cy="436.99" r="0.35"/><circle cx="474.98" cy="436.28" r="0.35"/><circle cx="464.15" cy="438.66" r="0.35"/><circle cx="449.05" cy="438.08" r="0.35"/><circle cx="470.70" cy="427.72" r="0.35"/><circle cx="461.68" cy="422.23" r="0.35"/><circle cx="460.75" cy="446.08" r="0.35"/><circle cx="461.43" cy="417.34" r="0.35"/><circle cx="464.04" cy="438.08" r="0.35"/><circle cx="455.07" cy="431.85" r="0.35"/><circle cx="465.22" cy="442.18" r="0.35"/><circle cx="466.54" cy="424.40" r="0.35"/><circle cx="467.43" cy="446.49" r="0.35"/><circle cx="479.15" cy="439.29" r="0.35"/></g><g fill="#222" opacity="0.4"><circle cx="473.21" cy="404.48" r="0.38"/><circle cx="496.06" cy="441.89" r="0.38"/><circle cx="475.86" cy="447.32" r="0.38"/><circle cx="496.52" cy="447.30" r="0.38"/><circle cx="470.39" cy="404.34" r="0.38"/><circle cx="472.84" cy="424.65" r="0.38"/><circle cx="490.41" cy="449.87" r="0.38"/><circle cx="491.08" cy="404.74" r="0.38"/><circle cx="472.85" cy="424.83" r="0.38"/><circle cx="480.52" cy="402.61" r="0.38"/><circle cx="496.87" cy="449.50" r="0.38"/><circle cx="484.06" cy="450.31" r="0.38"/><circle cx="495.69" cy="448.07" r="0.38"/><circle cx="474.60" cy="403.60" r="0.38"/><circle cx="476.10" cy="400.89" r="0.38"/><circle cx="496.01" cy="420.64" r="0.38"/><circle cx="471.24" cy="420.54" r="0.38"/><circle cx="473.38" cy="424.07" r="0.38"/><circle cx="485.59" cy="453.04" r="0.38"/><circle cx="480.32" cy="403.14" r="0.38"/><circle cx="480.79" cy="451.09" r="0.38"/><circle cx="499.17" cy="425.13" r="0.38"/><circle cx="492.73" cy="449.90" r="0.38"/><circle cx="472.62" cy="425.22" r="0.38"/><circle cx="472.67" cy="433.50" r="0.38"/><circle cx="495.90" cy="429.84" r="0.38"/><circle cx="494.96" cy="405.58" r="0.38"/><circle cx="490.14" cy="453.07" r="0.38"/><circle cx="482.71" cy="400.85" r="0.38"/><circle cx="468.54" cy="412.47" r="0.38"/><circle cx="470.60" cy="441.85" r="0.38"/><circle cx="483.42" cy="451.54" r="0.38"/><circle cx="479.01" cy="403.81" r="0.38"/><circle cx="476.26" cy="448.09" r="0.38"/><circle cx="487.82" cy="405.41" r="0.38"/><circle cx="491.99" cy="450.52" r="0.38"/><circle cx="495.27" cy="439.38" r="0.38"/><circle cx="471.19" cy="418.46" r="0.38"/><circle cx="465.96" cy="409.22" r="0.38"/><circle cx="466.42" cy="407.69" r="0.38"/><circle cx="469.99" cy="419.03" r="0.38"/><circle cx="474.43" cy="441.44" r="0.38"/><circle cx="497.20" cy="447.62" r="0.38"/><circle cx="472.72" cy="425.81" r="0.38"/><circle cx="471.16" cy="424.43" r="0.38"/><circle cx="480.16" cy="402.30" r="0.38"/><circle cx="494.05" cy="408.89" r="0.38"/><circle cx="474.99" cy="445.52" r="0.38"/><circle cx="486.81" cy="450.38" r="0.38"/><circle cx="468.35" cy="418.62" r="0.38"/><circle cx="495.71" cy="424.65" r="0.38"/><circle cx="490.88" cy="405.83" r="0.38"/><circle cx="473.02" cy="427.87" r="0.38"/><circle cx="472.13" cy="449.66" r="0.38"/><circle cx="468.29" cy="412.08" r="0.38"/><circle cx="494.09" cy="410.35" r="0.38"/><circle cx="496.53" cy="431.83" r="0.38"/><circle cx="495.13" cy="441.31" r="0.38"/><circle cx="476.13" cy="401.98" r="0.38"/><circle cx="482.01" cy="450.58" r="0.38"/><circle cx="496.94" cy="449.31" r="0.38"/><circle cx="466.88" cy="413.57" r="0.38"/><circle cx="486.38" cy="450.35" r="0.38"/><circle cx="474.29" cy="435.52" r="0.38"/><circle cx="488.87" cy="402.86" r="0.38"/><circle cx="484.24" cy="404.26" r="0.38"/><circle cx="480.84" cy="450.74" r="0.38"/><circle cx="469.78" cy="404.37" r="0.38"/><circle cx="495.83" cy="430.87" r="0.38"/><circle cx="485.79" cy="403.52" r="0.38"/><circle cx="486.84" cy="450.68" r="0.38"/><circle cx="473.92" cy="403.26" r="0.38"/><circle cx="494.85" cy="417.18" r="0.38"/><circle cx="476.52" cy="450.45" r="0.38"/><circle cx="477.74" cy="404.11" r="0.38"/><circle cx="494.29" cy="411.21" r="0.38"/><circle cx="472.75" cy="439.94" r="0.38"/><circle cx="494.98" cy="419.44" r="0.38"/><circle cx="475.96" cy="447.73" r="0.38"/><circle cx="497.31" cy="439.61" r="0.38"/><circle cx="470.70" cy="417.48" r="0.38"/><circle cx="471.38" cy="425.92" r="0.38"/><circle cx="482.42" cy="450.56" r="0.38"/><circle cx="487.13" cy="452.57" r="0.38"/><circle cx="495.11" cy="409.44" r="0.38"/><circle cx="473.45" cy="428.78" r="0.38"/><circle cx="482.86" cy="451.13" r="0.38"/><circle cx="472.33" cy="420.98" r="0.38"/><circle cx="472.22" cy="443.77" r="0.38"/><circle cx="495.98" cy="411.62" r="0.38"/><circle cx="466.09" cy="408.13" r="0.38"/><circle cx="495.41" cy="449.34" r="0.38"/><circle cx="496.44" cy="415.52" r="0.38"/><circle cx="494.85" cy="420.87" r="0.38"/><circle cx="496.50" cy="426.50" r="0.38"/><circle cx="486.15" cy="404.53" r="0.38"/><circle cx="473.83" cy="430.50" r="0.38"/><circle cx="473.71" cy="433.11" r="0.38"/><circle cx="474.09" cy="443.87" r="0.38"/><circle cx="474.53" cy="431.46" r="0.38"/><circle cx="495.90" cy="413.06" r="0.38"/><circle cx="468.39" cy="407.51" r="0.38"/><circle cx="496.08" cy="413.47" r="0.38"/><circle cx="474.55" cy="403.13" r="0.38"/><circle cx="493.21" cy="405.59" r="0.38"/><circle cx="494.86" cy="409.54" r="0.38"/><circle cx="491.68" cy="404.63" r="0.38"/><circle cx="474.63" cy="441.55" r="0.38"/><circle cx="470.88" cy="418.12" r="0.38"/><circle cx="468.55" cy="418.34" r="0.38"/><circle cx="491.35" cy="407.42" r="0.38"/><circle cx="469.94" cy="426.77" r="0.38"/><circle cx="495.88" cy="449.41" r="0.38"/><circle cx="497.58" cy="422.05" r="0.38"/><circle cx="475.36" cy="436.32" r="0.38"/><circle cx="474.59" cy="444.50" r="0.38"/><circle cx="496.65" cy="433.01" r="0.38"/><circle cx="496.54" cy="441.48" r="0.38"/><circle cx="495.52" cy="442.91" r="0.38"/><circle cx="475.48" cy="446.99" r="0.38"/><circle cx="495.54" cy="444.93" r="0.38"/><circle cx="475.35" cy="448.29" r="0.38"/><circle cx="493.19" cy="409.25" r="0.38"/><circle cx="491.12" cy="452.60" r="0.38"/><circle cx="496.69" cy="444.07" r="0.38"/><circle cx="478.84" cy="403.83" r="0.38"/><circle cx="499.06" cy="425.10" r="0.38"/><circle cx="473.06" cy="426.85" r="0.38"/><circle cx="492.02" cy="406.94" r="0.38"/><circle cx="472.58" cy="424.36" r="0.38"/><circle cx="497.81" cy="435.70" r="0.38"/><circle cx="478.97" cy="403.37" r="0.38"/><circle cx="469.53" cy="420.61" r="0.38"/><circle cx="495.30" cy="414.13" r="0.38"/><circle cx="474.32" cy="434.19" r="0.38"/><circle cx="494.97" cy="421.74" r="0.38"/><circle cx="477.53" cy="402.35" r="0.38"/><circle cx="472.92" cy="430.41" r="0.38"/><circle cx="477.03" cy="448.77" r="0.38"/><circle cx="482.63" cy="451.77" r="0.38"/><circle cx="473.89" cy="432.10" r="0.38"/><circle cx="473.82" cy="431.03" r="0.38"/><circle cx="497.86" cy="435.18" r="0.38"/><circle cx="474.40" cy="449.28" r="0.38"/><circle cx="496.16" cy="441.51" r="0.38"/><circle cx="495.90" cy="438.62" r="0.38"/><circle cx="473.86" cy="426.94" r="0.38"/><circle cx="474.74" cy="429.12" r="0.38"/><circle cx="488.68" cy="403.35" r="0.38"/><circle cx="474.78" cy="435.00" r="0.38"/><circle cx="482.62" cy="402.24" r="0.38"/><circle cx="484.28" cy="403.58" r="0.38"/><circle cx="480.01" cy="450.10" r="0.38"/><circle cx="497.10" cy="448.23" r="0.38"/><circle cx="493.34" cy="449.60" r="0.38"/><circle cx="468.74" cy="403.36" r="0.38"/><circle cx="495.50" cy="422.84" r="0.38"/><circle cx="470.01" cy="405.93" r="0.38"/><circle cx="493.93" cy="449.61" r="0.38"/><circle cx="495.63" cy="438.05" r="0.38"/><circle cx="475.01" cy="446.26" r="0.38"/><circle cx="489.33" cy="452.73" r="0.38"/><circle cx="468.00" cy="417.10" r="0.38"/><circle cx="500.79" cy="428.40" r="0.38"/><circle cx="471.63" cy="420.83" r="0.38"/><circle cx="496.66" cy="437.13" r="0.38"/><circle cx="471.55" cy="405.57" r="0.38"/><circle cx="482.08" cy="451.00" r="0.38"/><circle cx="475.86" cy="403.09" r="0.38"/><circle cx="468.41" cy="413.86" r="0.38"/><circle cx="495.73" cy="420.95" r="0.38"/><circle cx="484.73" cy="403.14" r="0.38"/><circle cx="477.72" cy="450.34" r="0.38"/><circle cx="496.32" cy="422.70" r="0.38"/><circle cx="495.42" cy="427.94" r="0.38"/><circle cx="484.60" cy="403.09" r="0.38"/><circle cx="496.48" cy="425.08" r="0.38"/><circle cx="482.30" cy="403.64" r="0.38"/><circle cx="499.18" cy="428.43" r="0.38"/><circle cx="496.16" cy="439.62" r="0.38"/><circle cx="496.57" cy="438.16" r="0.38"/><circle cx="472.97" cy="440.98" r="0.38"/><circle cx="494.90" cy="415.93" r="0.38"/><circle cx="495.50" cy="423.05" r="0.38"/><circle cx="495.37" cy="419.74" r="0.38"/><circle cx="496.25" cy="448.99" r="0.38"/><circle cx="497.34" cy="438.79" r="0.38"/><circle cx="494.97" cy="415.82" r="0.38"/><circle cx="473.72" cy="427.24" r="0.38"/><circle cx="497.03" cy="434.21" r="0.38"/><circle cx="466.91" cy="417.38" r="0.38"/><circle cx="489.61" cy="405.99" r="0.38"/><circle cx="492.93" cy="407.20" r="0.38"/><circle cx="497.15" cy="423.58" r="0.38"/><circle cx="497.49" cy="450.56" r="0.38"/><circle cx="486.35" cy="450.62" r="0.38"/><circle cx="496.08" cy="417.35" r="0.38"/><circle cx="496.61" cy="421.49" r="0.38"/><circle cx="469.75" cy="440.72" r="0.38"/><circle cx="472.62" cy="421.99" r="0.38"/><circle cx="476.10" cy="404.20" r="0.38"/><circle cx="467.68" cy="407.87" r="0.38"/><circle cx="495.11" cy="440.56" r="0.38"/><circle cx="476.08" cy="449.70" r="0.38"/><circle cx="472.05" cy="404.94" r="0.38"/><circle cx="490.38" cy="405.15" r="0.38"/><circle cx="495.76" cy="439.16" r="0.38"/><circle cx="489.21" cy="406.30" r="0.38"/><circle cx="498.08" cy="431.51" r="0.38"/><circle cx="485.78" cy="404.07" r="0.38"/><circle cx="470.76" cy="429.09" r="0.38"/><circle cx="499.82" cy="430.19" r="0.38"/><circle cx="495.62" cy="439.96" r="0.38"/><circle cx="469.32" cy="416.06" r="0.38"/><circle cx="484.81" cy="450.30" r="0.38"/><circle cx="496.02" cy="444.84" r="0.38"/><circle cx="494.80" cy="419.33" r="0.38"/><circle cx="480.33" cy="452.07" r="0.38"/><circle cx="496.94" cy="441.29" r="0.38"/><circle cx="484.76" cy="455.92" r="0.38"/><circle cx="469.99" cy="431.32" r="0.38"/><circle cx="496.62" cy="427.31" r="0.38"/><circle cx="473.94" cy="426.30" r="0.38"/><circle cx="474.26" cy="428.57" r="0.38"/><circle cx="470.28" cy="419.78" r="0.38"/><circle cx="474.49" cy="440.32" r="0.38"/><circle cx="471.77" cy="428.14" r="0.38"/><circle cx="496.07" cy="431.53" r="0.38"/><circle cx="468.92" cy="417.13" r="0.38"/><circle cx="495.42" cy="437.48" r="0.38"/><circle cx="485.29" cy="451.55" r="0.38"/><circle cx="479.93" cy="451.32" r="0.38"/><circle cx="495.72" cy="423.59" r="0.38"/><circle cx="494.94" cy="423.56" r="0.38"/><circle cx="482.81" cy="402.55" r="0.38"/><circle cx="495.29" cy="431.02" r="0.38"/><circle cx="471.83" cy="404.05" r="0.38"/><circle cx="470.11" cy="406.35" r="0.38"/><circle cx="485.59" cy="452.81" r="0.38"/><circle cx="470.11" cy="417.61" r="0.38"/><circle cx="475.72" cy="400.72" r="0.38"/><circle cx="494.64" cy="413.34" r="0.38"/><circle cx="486.09" cy="402.02" r="0.38"/><circle cx="474.25" cy="435.65" r="0.38"/><circle cx="498.52" cy="437.26" r="0.38"/><circle cx="498.80" cy="414.35" r="0.38"/><circle cx="474.28" cy="430.97" r="0.38"/><circle cx="473.13" cy="433.01" r="0.38"/><circle cx="497.67" cy="424.43" r="0.38"/><circle cx="480.66" cy="452.01" r="0.38"/><circle cx="472.23" cy="426.46" r="0.38"/><circle cx="498.61" cy="427.86" r="0.38"/><circle cx="497.10" cy="430.70" r="0.38"/><circle cx="495.53" cy="422.68" r="0.38"/><circle cx="473.78" cy="430.25" r="0.38"/><circle cx="487.88" cy="451.76" r="0.38"/><circle cx="479.54" cy="402.90" r="0.38"/><circle cx="474.31" cy="402.18" r="0.38"/><circle cx="480.33" cy="403.80" r="0.38"/><circle cx="473.01" cy="430.86" r="0.38"/><circle cx="474.86" cy="430.84" r="0.38"/><circle cx="496.70" cy="449.37" r="0.38"/><circle cx="479.46" cy="402.44" r="0.38"/><circle cx="470.75" cy="403.15" r="0.38"/><circle cx="495.83" cy="413.70" r="0.38"/><circle cx="495.13" cy="424.35" r="0.38"/><circle cx="496.02" cy="443.99" r="0.38"/><circle cx="483.26" cy="402.06" r="0.38"/><circle cx="474.09" cy="432.37" r="0.38"/><circle cx="470.64" cy="421.26" r="0.38"/><circle cx="474.49" cy="449.12" r="0.38"/><circle cx="496.16" cy="439.62" r="0.38"/><circle cx="486.29" cy="403.94" r="0.38"/><circle cx="472.15" cy="422.20" r="0.38"/><circle cx="497.74" cy="431.71" r="0.38"/><circle cx="495.92" cy="428.90" r="0.38"/><circle cx="467.60" cy="407.76" r="0.38"/><circle cx="496.63" cy="425.99" r="0.38"/><circle cx="470.58" cy="421.09" r="0.38"/><circle cx="485.16" cy="404.00" r="0.38"/><circle cx="492.11" cy="451.72" r="0.38"/><circle cx="483.38" cy="450.70" r="0.38"/><circle cx="469.36" cy="403.72" r="0.38"/><circle cx="489.95" cy="451.07" r="0.38"/><circle cx="467.38" cy="403.27" r="0.38"/><circle cx="473.93" cy="445.66" r="0.38"/><circle cx="494.50" cy="448.75" r="0.38"/><circle cx="496.03" cy="441.03" r="0.38"/><circle cx="466.96" cy="412.54" r="0.38"/><circle cx="494.63" cy="450.92" r="0.38"/><circle cx="479.95" cy="404.32" r="0.38"/><circle cx="479.68" cy="402.84" r="0.38"/><circle cx="480.26" cy="403.57" r="0.38"/><circle cx="475.03" cy="447.76" r="0.38"/><circle cx="497.03" cy="445.22" r="0.38"/><circle cx="472.64" cy="404.94" r="0.38"/><circle cx="477.52" cy="401.83" r="0.38"/><circle cx="473.12" cy="443.75" r="0.38"/><circle cx="467.93" cy="411.92" r="0.38"/><circle cx="485.89" cy="451.63" r="0.38"/></g><path d="M469.00,407.00 C470.00,406.00 471.50,404.95 474.00,404.50 C476.50,404.05 481.17,403.88 484.00,404.30 C486.83,404.72 489.33,405.55 491.00,407.00 C492.67,408.45 493.33,410.00 494.00,413.00 C494.67,416.00 494.80,420.83 495.00,425.00 C495.20,429.17 495.23,434.50 495.20,438.00 C495.17,441.50 495.17,444.08 494.80,446.00 C494.43,447.92 494.47,448.78 493.00,449.50 C491.53,450.22 488.50,450.22 486.00,450.30 C483.50,450.38 479.70,450.72 478.00,450.00 C476.30,449.28 476.22,448.00 475.80,446.00 C475.38,444.00 475.63,440.67 475.50,438.00 C475.37,435.33 475.42,432.67 475.00,430.00 C474.58,427.33 473.92,424.50 473.00,422.00 C472.08,419.50 470.33,416.92 469.50,415.00 C468.67,413.08 468.08,411.83 468.00,410.50 C467.92,409.17 468.00,408.00 469.00,407.00 Z" fill="#f2f2f2" stroke="#333" stroke-width="0.7"/><path d="M471.72,411.64 C472.56,410.80 473.82,409.92 475.92,409.54 C478.02,409.16 481.94,409.02 484.32,409.37 C486.70,409.72 488.80,410.42 490.20,411.64 C491.60,412.86 492.16,414.16 492.72,416.68 C493.28,419.20 493.39,423.26 493.56,426.76 C493.73,430.26 493.76,434.74 493.73,437.68 C493.70,440.62 493.70,442.79 493.39,444.40 C493.08,446.01 493.11,446.74 491.88,447.34 C490.65,447.94 488.10,447.94 486.00,448.01 C483.90,448.08 480.71,448.36 479.28,447.76 C477.85,447.16 477.78,446.08 477.43,444.40 C477.08,442.72 477.29,439.92 477.18,437.68 C477.07,435.44 477.11,433.20 476.76,430.96 C476.41,428.72 475.85,426.34 475.08,424.24 C474.31,422.14 472.84,419.97 472.14,418.36 C471.44,416.75 470.95,415.70 470.88,414.58 C470.81,413.46 470.88,412.48 471.72,411.64 Z" fill="none" stroke="#888" stroke-width="0.45"/><path d="M474.10,415.70 C474.80,415.00 475.85,414.26 477.60,413.95 C479.35,413.63 482.62,413.52 484.60,413.81 C486.58,414.10 488.33,414.69 489.50,415.70 C490.67,416.71 491.13,417.80 491.60,419.90 C492.07,422.00 492.16,425.38 492.30,428.30 C492.44,431.22 492.46,434.95 492.44,437.40 C492.42,439.85 492.42,441.66 492.16,443.00 C491.90,444.34 491.93,444.95 490.90,445.45 C489.87,445.95 487.75,445.95 486.00,446.01 C484.25,446.07 481.59,446.30 480.40,445.80 C479.21,445.30 479.15,444.40 478.86,443.00 C478.57,441.60 478.74,439.27 478.65,437.40 C478.56,435.53 478.59,433.67 478.30,431.80 C478.01,429.93 477.54,427.95 476.90,426.20 C476.26,424.45 475.03,422.64 474.45,421.30 C473.87,419.96 473.46,419.08 473.40,418.15 C473.34,417.22 473.40,416.40 474.10,415.70 Z" fill="none" stroke="#888" stroke-width="0.45"/><path d="M476.48,419.76 C477.04,419.20 477.88,418.61 479.28,418.36 C480.68,418.11 483.29,418.01 484.88,418.25 C486.47,418.48 487.87,418.95 488.80,419.76 C489.73,420.57 490.11,421.44 490.48,423.12 C490.85,424.80 490.93,427.51 491.04,429.84 C491.15,432.17 491.17,435.16 491.15,437.12 C491.13,439.08 491.13,440.53 490.93,441.60 C490.72,442.67 490.74,443.16 489.92,443.56 C489.10,443.96 487.40,443.96 486.00,444.01 C484.60,444.05 482.47,444.24 481.52,443.84 C480.57,443.44 480.52,442.72 480.29,441.60 C480.05,440.48 480.19,438.61 480.12,437.12 C480.05,435.63 480.07,434.13 479.84,432.64 C479.61,431.15 479.23,429.56 478.72,428.16 C478.21,426.76 477.23,425.31 476.76,424.24 C476.29,423.17 475.97,422.47 475.92,421.72 C475.87,420.97 475.92,420.32 476.48,419.76 Z" fill="none" stroke="#888" stroke-width="0.45"/><path d="M478.86,423.82 C479.28,423.40 479.91,422.96 480.96,422.77 C482.01,422.58 483.97,422.51 485.16,422.69 C486.35,422.86 487.40,423.21 488.10,423.82 C488.80,424.43 489.08,425.08 489.36,426.34 C489.64,427.60 489.70,429.63 489.78,431.38 C489.86,433.13 489.88,435.37 489.86,436.84 C489.85,438.31 489.85,439.39 489.70,440.20 C489.54,441.00 489.56,441.37 488.94,441.67 C488.32,441.97 487.05,441.97 486.00,442.01 C484.95,442.04 483.35,442.18 482.64,441.88 C481.93,441.58 481.89,441.04 481.72,440.20 C481.54,439.36 481.65,437.96 481.59,436.84 C481.53,435.72 481.56,434.60 481.38,433.48 C481.20,432.36 480.93,431.17 480.54,430.12 C480.16,429.07 479.42,427.99 479.07,427.18 C478.72,426.38 478.48,425.85 478.44,425.29 C478.40,424.73 478.44,424.24 478.86,423.82 Z" fill="none" stroke="#888" stroke-width="0.45"/><path d="M481.24,427.88 C481.52,427.60 481.94,427.31 482.64,427.18 C483.34,427.05 484.65,427.01 485.44,427.12 C486.23,427.24 486.93,427.47 487.40,427.88 C487.87,428.29 488.05,428.72 488.24,429.56 C488.43,430.40 488.46,431.75 488.52,432.92 C488.58,434.09 488.59,435.58 488.58,436.56 C488.57,437.54 488.57,438.26 488.46,438.80 C488.36,439.34 488.37,439.58 487.96,439.78 C487.55,439.98 486.70,439.98 486.00,440.00 C485.30,440.03 484.24,440.12 483.76,439.92 C483.28,439.72 483.26,439.36 483.14,438.80 C483.03,438.24 483.10,437.31 483.06,436.56 C483.02,435.81 483.04,435.07 482.92,434.32 C482.80,433.57 482.62,432.78 482.36,432.08 C482.10,431.38 481.61,430.66 481.38,430.12 C481.15,429.58 480.98,429.23 480.96,428.86 C480.94,428.49 480.96,428.16 481.24,427.88 Z" fill="none" stroke="#888" stroke-width="0.45"/><path d="M483.28,431.36 C483.44,431.20 483.68,431.03 484.08,430.96 C484.48,430.89 485.23,430.86 485.68,430.93 C486.13,430.99 486.53,431.13 486.80,431.36 C487.07,431.59 487.17,431.84 487.28,432.32 C487.39,432.80 487.41,433.57 487.44,434.24 C487.47,434.91 487.48,435.76 487.47,436.32 C487.47,436.88 487.47,437.29 487.41,437.60 C487.35,437.91 487.35,438.05 487.12,438.16 C486.89,438.27 486.40,438.27 486.00,438.29 C485.60,438.30 484.99,438.35 484.72,438.24 C484.45,438.13 484.43,437.92 484.37,437.60 C484.30,437.28 484.34,436.75 484.32,436.32 C484.30,435.89 484.31,435.47 484.24,435.04 C484.17,434.61 484.07,434.16 483.92,433.76 C483.77,433.36 483.49,432.95 483.36,432.64 C483.23,432.33 483.13,432.13 483.12,431.92 C483.11,431.71 483.12,431.52 483.28,431.36 Z" fill="none" stroke="#888" stroke-width="0.45"/><ellipse cx="481" cy="410.5" rx="4" ry="2.4" fill="none" stroke="#333" stroke-width="0.5"/></g>
<rect x="447" y="382.4" width="69.5" height="68.70000000000005" fill="none" stroke="#777" stroke-width="0.75"/>
<line x1="474.6" y1="382.4" x2="474.6" y2="451.1" stroke="#555" stroke-width="0.85"/>
<line x1="447" y1="425.7" x2="516.5" y2="425.7" stroke="#555" stroke-width="0.85"/>
<line x1="445.5" y1="388.5143" x2="447" y2="388.5143" stroke="#666" stroke-width="0.5"/>
<text x="444.7" y="389.7143" font-size="3.6" fill="#444" text-anchor="end" font-weight="bold">10<tspan dy="-1.3" font-size="2.4">5</tspan></text>
<line x1="445.5" y1="403.697" x2="447" y2="403.697" stroke="#666" stroke-width="0.5"/>
<text x="444.7" y="404.897" font-size="3.6" fill="#444" text-anchor="end" font-weight="bold">10<tspan dy="-1.3" font-size="2.4">4</tspan></text>
<line x1="445.5" y1="419.7041" x2="447" y2="419.7041" stroke="#666" stroke-width="0.5"/>
<text x="444.7" y="420.90409999999997" font-size="3.6" fill="#444" text-anchor="end" font-weight="bold">10<tspan dy="-1.3" font-size="2.4">3</tspan></text>
<line x1="445.5" y1="435.5051" x2="447" y2="435.5051" stroke="#666" stroke-width="0.5"/>
<text x="444.7" y="436.7051" font-size="3.6" fill="#444" text-anchor="end" font-weight="bold">10<tspan dy="-1.3" font-size="2.4">2</tspan></text>
<line x1="445.5" y1="444.23" x2="447" y2="444.23" stroke="#666" stroke-width="0.5"/>
<text x="444.7" y="445.43" font-size="3.6" fill="#444" text-anchor="end" font-weight="bold">0</text>
<line x1="453.95" y1="451.1" x2="453.95" y2="452.6" stroke="#666" stroke-width="0.5"/>
<text x="453.95" y="455.5" font-size="3.6" fill="#444" text-anchor="middle" font-weight="bold">0</text>
<line x1="460.205" y1="451.1" x2="460.205" y2="452.6" stroke="#666" stroke-width="0.5"/>
<text x="460.205" y="455.5" font-size="3.6" fill="#444" text-anchor="middle" font-weight="bold">10<tspan dy="-1.3" font-size="2.4">2</tspan></text>
<line x1="478.97" y1="451.1" x2="478.97" y2="452.6" stroke="#666" stroke-width="0.5"/>
<text x="478.97" y="455.5" font-size="3.6" fill="#444" text-anchor="middle" font-weight="bold">10<tspan dy="-1.3" font-size="2.4">3</tspan></text>
<line x1="493.565" y1="451.1" x2="493.565" y2="452.6" stroke="#666" stroke-width="0.5"/>
<text x="493.565" y="455.5" font-size="3.6" fill="#444" text-anchor="middle" font-weight="bold">10<tspan dy="-1.3" font-size="2.4">4</tspan></text>
<line x1="510.245" y1="451.1" x2="510.245" y2="452.6" stroke="#666" stroke-width="0.5"/>
<text x="510.245" y="455.5" font-size="3.6" fill="#444" text-anchor="middle" font-weight="bold">10<tspan dy="-1.3" font-size="2.4">5</tspan></text>
<text x="483.14" y="459.70000000000005" font-size="3.6" fill="#555" text-anchor="middle" textLength="25.0" lengthAdjust="spacingAndGlyphs">PE-A: CD15</text>
<text x="440.2" y="417.437" font-size="3.6" fill="#555" text-anchor="middle" textLength="27.5" lengthAdjust="spacingAndGlyphs" transform="rotate(-90 440.2 417.437)">APC-A: CD14</text>
<text x="449" y="387.2" font-size="3.4" font-weight="bold" text-anchor="start" fill="#444">5.72</text>
<text x="509" y="387.2" font-size="3.4" font-weight="bold" text-anchor="start" fill="#444">35.6</text>
<text x="449" y="449.5" font-size="3.4" font-weight="bold" text-anchor="start" fill="#444">0.98</text>
<text x="509" y="449.5" font-size="3.4" font-weight="bold" text-anchor="start" fill="#444">57.7</text>
<path d="M213.9,469.3 L213.9,486.0 L238.4,486.0" stroke="#333" stroke-width="1.35" fill="none"/>
<path d="M211.3,472.90000000000003 L213.9,469.3 L216.5,472.90000000000003" stroke="#333" stroke-width="1.1" fill="none"/>
<path d="M234.8,483.4 L238.4,486.0 L234.8,488.6" stroke="#333" stroke-width="1.1" fill="none"/>
<text x="207.6" y="488.0" font-size="7.2" font-weight="bold" text-anchor="start" fill="#111" stroke="#111" stroke-width="0.18" textLength="18.3" lengthAdjust="spacingAndGlyphs" transform="rotate(-90 207.6 488.0)">CD38</text>
<text x="215.8" y="493.8" font-size="7.8" font-weight="normal" text-anchor="start" fill="#111" stroke="#111" stroke-width="0.3" textLength="19.2" lengthAdjust="spacingAndGlyphs">CD34</text>
<path d="M298.5,469.3 L298.5,486.0 L322.7,486.0" stroke="#333" stroke-width="1.35" fill="none"/>
<path d="M295.9,472.90000000000003 L298.5,469.3 L301.1,472.90000000000003" stroke="#333" stroke-width="1.1" fill="none"/>
<path d="M319.09999999999997,483.4 L322.7,486.0 L319.09999999999997,488.6" stroke="#333" stroke-width="1.1" fill="none"/>
<text x="291.5" y="490.8" font-size="7.2" font-weight="bold" text-anchor="start" fill="#111" stroke="#111" stroke-width="0.18" textLength="21.9" lengthAdjust="spacingAndGlyphs" transform="rotate(-90 291.5 490.8)">CD123</text>
<text x="297.0" y="493.8" font-size="7.8" font-weight="normal" text-anchor="start" fill="#111" stroke="#111" stroke-width="0.3" textLength="28.6" lengthAdjust="spacingAndGlyphs">CD45RA</text>
<path d="M383.0,469.3 L383.0,486.0 L407.3,486.0" stroke="#333" stroke-width="1.35" fill="none"/>
<path d="M380.4,472.90000000000003 L383.0,469.3 L385.6,472.90000000000003" stroke="#333" stroke-width="1.1" fill="none"/>
<path d="M403.7,483.4 L407.3,486.0 L403.7,488.6" stroke="#333" stroke-width="1.1" fill="none"/>
<text x="376.7" y="490.8" font-size="7.2" font-weight="bold" text-anchor="start" fill="#111" stroke="#111" stroke-width="0.18" textLength="22.5" lengthAdjust="spacingAndGlyphs" transform="rotate(-90 376.7 490.8)">CD11b</text>
<text x="381.3" y="493.8" font-size="7.8" font-weight="normal" text-anchor="start" fill="#111" stroke="#111" stroke-width="0.3" textLength="28.3" lengthAdjust="spacingAndGlyphs">HLA-DR</text>
<path d="M470.2,469.3 L470.2,486.0 L494.2,486.0" stroke="#333" stroke-width="1.35" fill="none"/>
<path d="M467.59999999999997,472.90000000000003 L470.2,469.3 L472.8,472.90000000000003" stroke="#333" stroke-width="1.1" fill="none"/>
<path d="M490.59999999999997,483.4 L494.2,486.0 L490.59999999999997,488.6" stroke="#333" stroke-width="1.1" fill="none"/>
<text x="464.8" y="487.6" font-size="7.2" font-weight="bold" text-anchor="start" fill="#111" stroke="#111" stroke-width="0.18" textLength="18.7" lengthAdjust="spacingAndGlyphs" transform="rotate(-90 464.8 487.6)">CD14</text>
<text x="472.0" y="493.8" font-size="7.8" font-weight="normal" text-anchor="start" fill="#111" stroke="#111" stroke-width="0.3" textLength="18.7" lengthAdjust="spacingAndGlyphs">CD15</text>
<defs><linearGradient id="strip" x1="0" x2="1" y1="0" y2="0"><stop offset="0" stop-color="#d23a4a"/><stop offset="0.3" stop-color="#e06a7a"/><stop offset="0.45" stop-color="#f2e6f0"/><stop offset="0.55" stop-color="#e8e6f6"/><stop offset="0.72" stop-color="#8080d8"/><stop offset="1" stop-color="#2a2ac0"/></linearGradient></defs>
<text x="130.1" y="525.6" font-size="7.6" font-weight="normal" text-anchor="start" fill="#1a1a1a" stroke="#1a1a1a" stroke-width="0.15" textLength="58.2" lengthAdjust="spacingAndGlyphs">Genes up in HSC</text>
<text x="125.7" y="534.0" font-size="7.6" font-weight="normal" text-anchor="start" fill="#1a1a1a" stroke="#1a1a1a" stroke-width="0.15" textLength="66.6" lengthAdjust="spacingAndGlyphs">(Novershtern 2011)</text>
<text x="118.2" y="573.7" font-size="5" font-weight="bold" fill="#222" transform="rotate(-90 118.4 572.7)" textLength="38" lengthAdjust="spacingAndGlyphs">Enrichment score</text>
<text x="130.4" y="545.8000000000001" font-size="4.8" font-weight="normal" text-anchor="end" fill="#333" textLength="5.67" lengthAdjust="spacingAndGlyphs">0.3</text>
<text x="130.4" y="551.3000000000001" font-size="4.8" font-weight="normal" text-anchor="end" fill="#333" textLength="5.67" lengthAdjust="spacingAndGlyphs">0.2</text>
<text x="130.4" y="556.6" font-size="4.8" font-weight="normal" text-anchor="end" fill="#333" textLength="5.67" lengthAdjust="spacingAndGlyphs">0.1</text>
<text x="130.4" y="561.8000000000001" font-size="4.8" font-weight="normal" text-anchor="end" fill="#333" textLength="2.27" lengthAdjust="spacingAndGlyphs">0</text>
<text x="130.4" y="566.8000000000001" font-size="4.8" font-weight="normal" text-anchor="end" fill="#333" textLength="7.03" lengthAdjust="spacingAndGlyphs">-0.1</text>
<line x1="131" y1="560.6" x2="193.4" y2="560.6" stroke="#ccc" stroke-width="0.6"/>
<rect x="131.80" y="568.6" width="1.0" height="9.199999999999932" fill="#000"/><rect x="132.77" y="568.6" width="0.8" height="9.199999999999932" fill="#000"/><rect x="134.11" y="568.6" width="1.0" height="9.199999999999932" fill="#000"/><rect x="135.48" y="568.6" width="0.8" height="9.199999999999932" fill="#000"/><rect x="136.16" y="568.6" width="0.8" height="9.199999999999932" fill="#111"/><rect x="137.13" y="568.6" width="1.4" height="9.199999999999932" fill="#555"/><rect x="138.07" y="568.6" width="1.0" height="9.199999999999932" fill="#222"/><rect x="138.84" y="568.6" width="1.0" height="9.199999999999932" fill="#333"/><rect x="139.97" y="568.6" width="1.4" height="9.199999999999932" fill="#222"/><rect x="140.76" y="568.6" width="1.4" height="9.199999999999932" fill="#555"/><rect x="141.36" y="568.6" width="0.6" height="9.199999999999932" fill="#333"/><rect x="142.24" y="568.6" width="1.0" height="9.199999999999932" fill="#555"/><rect x="142.84" y="568.6" width="0.6" height="9.199999999999932" fill="#000"/><rect x="143.79" y="568.6" width="1.4" height="9.199999999999932" fill="#000"/><rect x="144.94" y="568.6" width="1.4" height="9.199999999999932" fill="#111"/><rect x="145.67" y="568.6" width="1.0" height="9.199999999999932" fill="#333"/><rect x="146.97" y="568.6" width="0.6" height="9.199999999999932" fill="#333"/><rect x="148.33" y="568.6" width="1.0" height="9.199999999999932" fill="#333"/><rect x="149.36" y="568.6" width="0.6" height="9.199999999999932" fill="#222"/><rect x="150.50" y="568.6" width="1.4" height="9.199999999999932" fill="#333"/><rect x="151.73" y="568.6" width="0.8" height="9.199999999999932" fill="#000"/><rect x="155.90" y="568.6" width="0.6" height="9.199999999999932" fill="#000"/><rect x="156.94" y="568.6" width="1.4" height="9.199999999999932" fill="#111"/><rect x="157.58" y="568.6" width="0.6" height="9.199999999999932" fill="#111"/><rect x="158.41" y="568.6" width="0.8" height="9.199999999999932" fill="#222"/><rect x="159.35" y="568.6" width="0.8" height="9.199999999999932" fill="#111"/><rect x="160.02" y="568.6" width="0.6" height="9.199999999999932" fill="#000"/><rect x="160.63" y="568.6" width="1.4" height="9.199999999999932" fill="#333"/><rect x="161.76" y="568.6" width="0.8" height="9.199999999999932" fill="#111"/><rect x="162.99" y="568.6" width="1.0" height="9.199999999999932" fill="#000"/><rect x="163.86" y="568.6" width="1.0" height="9.199999999999932" fill="#111"/><rect x="165.00" y="568.6" width="0.6" height="9.199999999999932" fill="#222"/><rect x="166.20" y="568.6" width="0.8" height="9.199999999999932" fill="#000"/><rect x="167.33" y="568.6" width="1.0" height="9.199999999999932" fill="#000"/><rect x="167.95" y="568.6" width="1.0" height="9.199999999999932" fill="#000"/><rect x="168.96" y="568.6" width="0.8" height="9.199999999999932" fill="#000"/><rect x="169.93" y="568.6" width="1.0" height="9.199999999999932" fill="#111"/><rect x="171.11" y="568.6" width="0.8" height="9.199999999999932" fill="#222"/><rect x="172.08" y="568.6" width="0.8" height="9.199999999999932" fill="#000"/><rect x="173.91" y="568.6" width="0.6" height="9.199999999999932" fill="#555"/><rect x="174.72" y="568.6" width="1.4" height="9.199999999999932" fill="#000"/><rect x="176.10" y="568.6" width="0.6" height="9.199999999999932" fill="#000"/><rect x="177.03" y="568.6" width="0.8" height="9.199999999999932" fill="#111"/><rect x="178.02" y="568.6" width="0.6" height="9.199999999999932" fill="#555"/><rect x="178.65" y="568.6" width="0.6" height="9.199999999999932" fill="#333"/><rect x="181.04" y="568.6" width="0.6" height="9.199999999999932" fill="#555"/><rect x="181.76" y="568.6" width="0.6" height="9.199999999999932" fill="#222"/><rect x="182.57" y="568.6" width="0.6" height="9.199999999999932" fill="#000"/><rect x="183.96" y="568.6" width="0.8" height="9.199999999999932" fill="#555"/><rect x="184.70" y="568.6" width="0.8" height="9.199999999999932" fill="#555"/><rect x="185.66" y="568.6" width="0.8" height="9.199999999999932" fill="#000"/><rect x="186.34" y="568.6" width="1.0" height="9.199999999999932" fill="#000"/><rect x="187.66" y="568.6" width="1.4" height="9.199999999999932" fill="#000"/><rect x="188.99" y="568.6" width="1.4" height="9.199999999999932" fill="#000"/>
<rect x="131" y="577.8" width="58.80000000000001" height="3.0" fill="url(#strip)"/>
<line x1="131" y1="568.6" x2="193.4" y2="568.6" stroke="#444" stroke-width="0.5"/>
<path d="M131.00,548.51 C131.39,547.58 132.18,544.09 133.35,542.93 C134.53,541.77 135.51,541.21 138.06,541.54 C140.60,541.86 144.43,542.70 148.64,544.88 C152.85,547.07 158.93,551.53 163.34,554.65 C167.75,557.77 171.87,561.49 175.10,563.58 C178.33,565.67 180.78,566.83 182.74,567.21 C184.70,567.58 185.68,566.88 186.86,565.81 C188.04,564.74 189.31,561.62 189.80,560.79" fill="none" stroke="#6ed06e" stroke-width="1.1"/>
<rect x="131" y="540.7" width="62.40" height="40.09999999999991" fill="none" stroke="#222" stroke-width="1.1"/>
<text x="189.4" y="546.5" font-size="5.8" font-weight="bold" text-anchor="end" fill="#111">NES: 1.50</text>
<text x="189.4" y="553.1" font-size="5.8" font-weight="bold" text-anchor="end" fill="#111">FDR : 0.0</text>
<text x="216" y="525.2" font-size="7.6" font-weight="normal" text-anchor="start" fill="#1a1a1a" stroke="#1a1a1a" stroke-width="0.15" textLength="58.6" lengthAdjust="spacingAndGlyphs">Genes up in HSC</text>
<text x="217.9" y="534.8" font-size="7.6" font-weight="normal" text-anchor="start" fill="#1a1a1a" stroke="#1a1a1a" stroke-width="0.15" textLength="53.8" lengthAdjust="spacingAndGlyphs">(Jaatinen 2006)</text>
<text x="200.5" y="573.6" font-size="5" font-weight="bold" fill="#222" transform="rotate(-90 200.70000000000002 572.6)" textLength="38" lengthAdjust="spacingAndGlyphs">Enrichment score</text>
<text x="212.70000000000002" y="545.7" font-size="4.8" font-weight="normal" text-anchor="end" fill="#333" textLength="5.67" lengthAdjust="spacingAndGlyphs">0.3</text>
<text x="212.70000000000002" y="551.2" font-size="4.8" font-weight="normal" text-anchor="end" fill="#333" textLength="5.67" lengthAdjust="spacingAndGlyphs">0.2</text>
<text x="212.70000000000002" y="556.5" font-size="4.8" font-weight="normal" text-anchor="end" fill="#333" textLength="5.67" lengthAdjust="spacingAndGlyphs">0.1</text>
<text x="212.70000000000002" y="561.7" font-size="4.8" font-weight="normal" text-anchor="end" fill="#333" textLength="2.27" lengthAdjust="spacingAndGlyphs">0</text>
<text x="212.70000000000002" y="566.7" font-size="4.8" font-weight="normal" text-anchor="end" fill="#333" textLength="7.03" lengthAdjust="spacingAndGlyphs">-0.1</text>
<line x1="213.3" y1="561.5" x2="277.2" y2="561.5" stroke="#ccc" stroke-width="0.6"/>
<rect x="214.10" y="569.4" width="1.0" height="8.600000000000023" fill="#333"/><rect x="214.84" y="569.4" width="0.8" height="8.600000000000023" fill="#333"/><rect x="215.74" y="569.4" width="0.6" height="8.600000000000023" fill="#333"/><rect x="216.92" y="569.4" width="0.8" height="8.600000000000023" fill="#555"/><rect x="218.11" y="569.4" width="0.8" height="8.600000000000023" fill="#000"/><rect x="218.78" y="569.4" width="1.4" height="8.600000000000023" fill="#000"/><rect x="220.10" y="569.4" width="0.8" height="8.600000000000023" fill="#555"/><rect x="221.09" y="569.4" width="0.6" height="8.600000000000023" fill="#222"/><rect x="221.89" y="569.4" width="1.4" height="8.600000000000023" fill="#111"/><rect x="223.04" y="569.4" width="1.4" height="8.600000000000023" fill="#555"/><rect x="224.31" y="569.4" width="1.0" height="8.600000000000023" fill="#000"/><rect x="225.08" y="569.4" width="1.0" height="8.600000000000023" fill="#555"/><rect x="226.02" y="569.4" width="1.0" height="8.600000000000023" fill="#222"/><rect x="227.28" y="569.4" width="1.4" height="8.600000000000023" fill="#222"/><rect x="229.59" y="569.4" width="0.8" height="8.600000000000023" fill="#000"/><rect x="230.67" y="569.4" width="0.8" height="8.600000000000023" fill="#333"/><rect x="232.72" y="569.4" width="0.8" height="8.600000000000023" fill="#222"/><rect x="233.56" y="569.4" width="1.4" height="8.600000000000023" fill="#333"/><rect x="234.75" y="569.4" width="0.8" height="8.600000000000023" fill="#555"/><rect x="235.60" y="569.4" width="0.8" height="8.600000000000023" fill="#555"/><rect x="236.61" y="569.4" width="1.4" height="8.600000000000023" fill="#888"/><rect x="237.64" y="569.4" width="1.4" height="8.600000000000023" fill="#555"/><rect x="238.46" y="569.4" width="0.6" height="8.600000000000023" fill="#555"/><rect x="239.39" y="569.4" width="1.4" height="8.600000000000023" fill="#999"/><rect x="240.32" y="569.4" width="1.0" height="8.600000000000023" fill="#555"/><rect x="242.21" y="569.4" width="0.8" height="8.600000000000023" fill="#777"/><rect x="243.32" y="569.4" width="0.8" height="8.600000000000023" fill="#333"/><rect x="247.82" y="569.4" width="0.8" height="8.600000000000023" fill="#777"/><rect x="248.57" y="569.4" width="0.8" height="8.600000000000023" fill="#555"/><rect x="253.57" y="569.4" width="0.8" height="8.600000000000023" fill="#555"/><rect x="256.88" y="569.4" width="1.4" height="8.600000000000023" fill="#555"/><rect x="258.21" y="569.4" width="0.8" height="8.600000000000023" fill="#555"/><rect x="259.38" y="569.4" width="0.8" height="8.600000000000023" fill="#666"/><rect x="260.72" y="569.4" width="0.6" height="8.600000000000023" fill="#555"/><rect x="262.16" y="569.4" width="1.4" height="8.600000000000023" fill="#111"/><rect x="263.20" y="569.4" width="1.0" height="8.600000000000023" fill="#222"/><rect x="265.32" y="569.4" width="0.6" height="8.600000000000023" fill="#111"/><rect x="266.55" y="569.4" width="0.8" height="8.600000000000023" fill="#000"/><rect x="267.89" y="569.4" width="0.8" height="8.600000000000023" fill="#555"/><rect x="269.18" y="569.4" width="1.4" height="8.600000000000023" fill="#555"/><rect x="269.89" y="569.4" width="1.0" height="8.600000000000023" fill="#222"/><rect x="271.57" y="569.4" width="1.4" height="8.600000000000023" fill="#000"/><rect x="272.26" y="569.4" width="1.0" height="8.600000000000023" fill="#111"/>
<rect x="213.3" y="578" width="60.299999999999955" height="3" fill="url(#strip)"/>
<line x1="213.3" y1="569.4" x2="277.2" y2="569.4" stroke="#444" stroke-width="0.5"/>
<path d="M213.30,550.68 C213.80,549.58 214.91,545.59 216.31,544.06 C217.72,542.52 219.23,541.46 221.74,541.46 C224.25,541.46 227.27,541.90 231.39,544.06 C235.51,546.22 241.94,551.06 246.46,554.42 C250.99,557.78 255.21,562.01 258.52,564.22 C261.84,566.42 264.35,567.38 266.36,567.67 C268.37,567.96 269.38,567.00 270.58,565.94 C271.79,564.89 273.10,562.10 273.60,561.34" fill="none" stroke="#6ed06e" stroke-width="1.1"/>
<rect x="213.3" y="540.6" width="63.90" height="40.39999999999998" fill="none" stroke="#222" stroke-width="1.1"/>
<text x="273.2" y="546.4" font-size="5.8" font-weight="bold" text-anchor="end" fill="#111">NES: 1.71</text>
<text x="273.2" y="553.0" font-size="5.8" font-weight="bold" text-anchor="end" fill="#111">FDR : 0.0</text>
<text x="303.5" y="525.2" font-size="7.6" font-weight="normal" text-anchor="start" fill="#1a1a1a" stroke="#1a1a1a" stroke-width="0.15" textLength="49.5" lengthAdjust="spacingAndGlyphs">LSC signature</text>
<text x="305" y="534.8" font-size="7.6" font-weight="normal" text-anchor="start" fill="#1a1a1a" stroke="#1a1a1a" stroke-width="0.15" textLength="47" lengthAdjust="spacingAndGlyphs">(Eppert 2011)</text>
<text x="288.0" y="572.8" font-size="5" font-weight="bold" fill="#222" transform="rotate(-90 288.2 571.8)" textLength="38" lengthAdjust="spacingAndGlyphs">Enrichment score</text>
<text x="300.2" y="542.1999999999999" font-size="4.8" font-weight="normal" text-anchor="end" fill="#333" textLength="5.67" lengthAdjust="spacingAndGlyphs">0.4</text>
<text x="300.2" y="547.6" font-size="4.8" font-weight="normal" text-anchor="end" fill="#333" textLength="5.67" lengthAdjust="spacingAndGlyphs">0.3</text>
<text x="300.2" y="552.9" font-size="4.8" font-weight="normal" text-anchor="end" fill="#333" textLength="5.67" lengthAdjust="spacingAndGlyphs">0.2</text>
<text x="300.2" y="558.1999999999999" font-size="4.8" font-weight="normal" text-anchor="end" fill="#333" textLength="5.67" lengthAdjust="spacingAndGlyphs">0.1</text>
<text x="300.2" y="563.4" font-size="4.8" font-weight="normal" text-anchor="end" fill="#333" textLength="2.27" lengthAdjust="spacingAndGlyphs">0</text>
<line x1="300.8" y1="561.5" x2="364.6" y2="561.5" stroke="#ccc" stroke-width="0.6"/>
<rect x="303.75" y="567.5" width="0.6" height="9.0" fill="#333"/><rect x="304.88" y="567.5" width="0.6" height="9.0" fill="#666"/><rect x="305.87" y="567.5" width="0.6" height="9.0" fill="#888"/><rect x="309.78" y="567.5" width="1.4" height="9.0" fill="#999"/><rect x="312.45" y="567.5" width="1.4" height="9.0" fill="#555"/><rect x="317.02" y="567.5" width="1.0" height="9.0" fill="#888"/><rect x="318.36" y="567.5" width="1.4" height="9.0" fill="#333"/><rect x="319.70" y="567.5" width="0.6" height="9.0" fill="#999"/><rect x="322.45" y="567.5" width="1.0" height="9.0" fill="#777"/><rect x="323.07" y="567.5" width="1.4" height="9.0" fill="#888"/><rect x="326.39" y="567.5" width="0.8" height="9.0" fill="#333"/><rect x="328.22" y="567.5" width="0.6" height="9.0" fill="#888"/><rect x="329.34" y="567.5" width="1.4" height="9.0" fill="#777"/><rect x="331.34" y="567.5" width="0.8" height="9.0" fill="#999"/><rect x="333.97" y="567.5" width="0.6" height="9.0" fill="#888"/><rect x="337.24" y="567.5" width="0.6" height="9.0" fill="#999"/><rect x="343.68" y="567.5" width="0.6" height="9.0" fill="#666"/><rect x="346.40" y="567.5" width="0.6" height="9.0" fill="#777"/><rect x="348.36" y="567.5" width="1.4" height="9.0" fill="#888"/><rect x="349.53" y="567.5" width="1.0" height="9.0" fill="#333"/><rect x="353.49" y="567.5" width="0.6" height="9.0" fill="#666"/><rect x="355.49" y="567.5" width="0.6" height="9.0" fill="#777"/>
<rect x="300.8" y="576.5" width="60.19999999999999" height="3.8999999999999773" fill="url(#strip)"/>
<line x1="300.8" y1="567.5" x2="364.6" y2="567.5" stroke="#444" stroke-width="0.5"/>
<path d="M300.80,553.65 C301.30,552.82 302.81,549.82 303.81,548.66 C304.81,547.51 305.62,548.02 306.82,546.72 C308.02,545.43 309.03,541.51 311.03,540.91 C313.04,540.31 315.55,541.09 318.86,543.12 C322.17,545.16 327.09,549.86 330.90,553.10 C334.71,556.33 338.93,560.34 341.74,562.51 C344.55,564.68 346.05,565.84 347.76,566.12 C349.46,566.39 350.57,564.41 351.97,564.18 C353.37,563.95 354.68,564.73 356.18,564.73 C357.69,564.73 360.20,564.27 361.00,564.18" fill="none" stroke="#6ed06e" stroke-width="1.1"/>
<rect x="300.8" y="539.8" width="63.80" height="40.60000000000002" fill="none" stroke="#222" stroke-width="1.1"/>
<text x="360.6" y="545.5999999999999" font-size="5.8" font-weight="bold" text-anchor="end" fill="#111">NES: 1.40</text>
<text x="360.6" y="552.1999999999999" font-size="5.8" font-weight="bold" text-anchor="end" fill="#111">FDR : 0.02</text>
<text x="380" y="525.2" font-size="7.6" font-weight="normal" text-anchor="start" fill="#1a1a1a" stroke="#1a1a1a" stroke-width="0.15" textLength="57.7" lengthAdjust="spacingAndGlyphs">Genes up in LSC</text>
<text x="383.8" y="534.8" font-size="7.6" font-weight="normal" text-anchor="start" fill="#1a1a1a" stroke="#1a1a1a" stroke-width="0.15" textLength="50.0" lengthAdjust="spacingAndGlyphs">(Gentles 2010)</text>
<text x="369.9" y="573.4" font-size="5" font-weight="bold" fill="#222" transform="rotate(-90 370.09999999999997 572.4)" textLength="38" lengthAdjust="spacingAndGlyphs">Enrichment score</text>
<text x="382.09999999999997" y="542.5" font-size="4.8" font-weight="normal" text-anchor="end" fill="#333" textLength="5.67" lengthAdjust="spacingAndGlyphs">0.6</text>
<text x="382.09999999999997" y="547.8" font-size="4.8" font-weight="normal" text-anchor="end" fill="#333" textLength="5.67" lengthAdjust="spacingAndGlyphs">0.4</text>
<text x="382.09999999999997" y="553.0" font-size="4.8" font-weight="normal" text-anchor="end" fill="#333" textLength="5.67" lengthAdjust="spacingAndGlyphs">0.2</text>
<text x="382.09999999999997" y="563.0" font-size="4.8" font-weight="normal" text-anchor="end" fill="#333" textLength="2.27" lengthAdjust="spacingAndGlyphs">0</text>
<text x="382.09999999999997" y="569.3" font-size="4.8" font-weight="normal" text-anchor="end" fill="#333" textLength="7.03" lengthAdjust="spacingAndGlyphs">-0.2</text>
<line x1="382.7" y1="561.3" x2="445.8" y2="561.3" stroke="#ccc" stroke-width="0.6"/>
<rect x="387.36" y="568.5" width="0.6" height="9.200000000000045" fill="#555"/><rect x="388.92" y="568.5" width="1.0" height="9.200000000000045" fill="#555"/><rect x="399.09" y="568.5" width="0.6" height="9.200000000000045" fill="#333"/><rect x="405.71" y="568.5" width="0.8" height="9.200000000000045" fill="#555"/><rect x="414.42" y="568.5" width="1.4" height="9.200000000000045" fill="#777"/><rect x="415.12" y="568.5" width="0.6" height="9.200000000000045" fill="#555"/><rect x="419.85" y="568.5" width="0.8" height="9.200000000000045" fill="#999"/><rect x="430.24" y="568.5" width="0.6" height="9.200000000000045" fill="#666"/><rect x="436.74" y="568.5" width="0.6" height="9.200000000000045" fill="#666"/><rect x="438.93" y="568.5" width="1.0" height="9.200000000000045" fill="#888"/><rect x="439.87" y="568.5" width="1.4" height="9.200000000000045" fill="#666"/><rect x="440.50" y="568.5" width="1.4" height="9.200000000000045" fill="#555"/>
<rect x="382.7" y="577.7" width="59.5" height="3.099999999999909" fill="url(#strip)"/>
<line x1="382.7" y1="568.5" x2="445.8" y2="568.5" stroke="#444" stroke-width="0.5"/>
<path d="M382.70,540.96 C384.68,541.90 389.64,544.10 394.60,546.58 C399.56,549.06 407.00,552.90 412.45,555.86 C417.90,558.81 423.56,562.32 427.32,564.28 C431.09,566.25 433.18,567.28 435.06,567.66 C436.94,568.03 437.44,567.56 438.63,566.53 C439.82,565.50 441.61,562.32 442.20,561.48" fill="none" stroke="#6ed06e" stroke-width="1.1"/>
<rect x="382.7" y="540.4" width="63.10" height="40.39999999999998" fill="none" stroke="#222" stroke-width="1.1"/>
<text x="441.8" y="546.1999999999999" font-size="5.8" font-weight="bold" text-anchor="end" fill="#111">NES: 1.66</text>
<text x="441.8" y="552.8" font-size="5.8" font-weight="bold" text-anchor="end" fill="#111">FDR: 0.01</text>
<text x="125" y="606.3" font-size="7.6" font-weight="normal" text-anchor="start" fill="#1a1a1a" stroke="#1a1a1a" stroke-width="0.15" textLength="68" lengthAdjust="spacingAndGlyphs">Genes down in LSC</text>
<text x="141.2" y="615" font-size="7.6" font-weight="normal" text-anchor="start" fill="#1a1a1a" stroke="#1a1a1a" stroke-width="0.15" textLength="35.0" lengthAdjust="spacingAndGlyphs">(Gal 2006)</text>
<text x="117.60000000000001" y="664.25" font-size="5" font-weight="bold" fill="#222" transform="rotate(-90 117.80000000000001 663.25)" textLength="38" lengthAdjust="spacingAndGlyphs">Enrichment score</text>
<text x="123.4" y="657.75" font-size="4.2" font-weight="normal" fill="#666" transform="rotate(-90 123.4 657.75)" textLength="24" lengthAdjust="spacingAndGlyphs">-0.  -0.  -0.  -0.  -0.</text>
<text x="127.80000000000001" y="657.75" font-size="4.2" font-weight="normal" fill="#666" transform="rotate(-90 127.80000000000001 657.75)" textLength="26" lengthAdjust="spacingAndGlyphs">5 4 3 2 1 0</text>
<line x1="130.4" y1="633" x2="193.7" y2="633" stroke="#ccc" stroke-width="0.6"/>
<rect x="133.44" y="659" width="1.0" height="9.5" fill="#888"/><rect x="135.69" y="659" width="1.4" height="9.5" fill="#555"/><rect x="139.66" y="659" width="1.0" height="9.5" fill="#888"/><rect x="140.31" y="659" width="0.6" height="9.5" fill="#888"/><rect x="142.34" y="659" width="1.4" height="9.5" fill="#999"/><rect x="144.76" y="659" width="1.4" height="9.5" fill="#777"/><rect x="148.22" y="659" width="1.0" height="9.5" fill="#777"/><rect x="149.06" y="659" width="0.6" height="9.5" fill="#555"/><rect x="151.01" y="659" width="0.6" height="9.5" fill="#888"/><rect x="152.05" y="659" width="0.8" height="9.5" fill="#888"/><rect x="153.86" y="659" width="0.6" height="9.5" fill="#555"/><rect x="154.52" y="659" width="1.0" height="9.5" fill="#666"/><rect x="155.34" y="659" width="1.4" height="9.5" fill="#666"/><rect x="156.87" y="659" width="1.4" height="9.5" fill="#555"/><rect x="158.16" y="659" width="0.6" height="9.5" fill="#555"/><rect x="158.99" y="659" width="1.0" height="9.5" fill="#333"/><rect x="162.02" y="659" width="1.4" height="9.5" fill="#333"/><rect x="165.52" y="659" width="0.8" height="9.5" fill="#999"/><rect x="166.73" y="659" width="1.4" height="9.5" fill="#333"/><rect x="170.09" y="659" width="1.0" height="9.5" fill="#555"/><rect x="171.20" y="659" width="0.8" height="9.5" fill="#333"/><rect x="173.24" y="659" width="0.8" height="9.5" fill="#999"/><rect x="174.58" y="659" width="0.6" height="9.5" fill="#999"/><rect x="175.63" y="659" width="1.0" height="9.5" fill="#333"/><rect x="178.53" y="659" width="0.8" height="9.5" fill="#555"/><rect x="179.37" y="659" width="0.8" height="9.5" fill="#000"/><rect x="180.43" y="659" width="1.0" height="9.5" fill="#000"/><rect x="182.34" y="659" width="1.4" height="9.5" fill="#000"/><rect x="183.72" y="659" width="0.6" height="9.5" fill="#222"/><rect x="184.95" y="659" width="1.0" height="9.5" fill="#555"/><rect x="186.04" y="659" width="1.4" height="9.5" fill="#555"/><rect x="187.26" y="659" width="0.6" height="9.5" fill="#555"/><rect x="188.58" y="659" width="0.6" height="9.5" fill="#000"/>
<rect x="130.4" y="668.5" width="59.69999999999999" height="2.5" fill="url(#strip)"/>
<line x1="130.4" y1="659" x2="193.7" y2="659" stroke="#444" stroke-width="0.5"/>
<path d="M130.40,632.91 C131.40,632.96 133.88,632.64 136.37,633.19 C138.86,633.75 141.34,634.02 145.32,636.25 C149.30,638.47 155.57,643.37 160.25,646.51 C164.93,649.66 169.80,653.22 173.38,655.12 C176.97,657.01 179.65,657.94 181.74,657.89 C183.83,657.84 184.83,657.43 185.92,654.84 C187.02,652.25 187.61,645.54 188.31,642.35 C189.01,639.16 189.80,636.80 190.10,635.69" fill="none" stroke="#6ed06e" stroke-width="1.1"/>
<rect x="130.4" y="631.25" width="63.30" height="39.75" fill="none" stroke="#222" stroke-width="1.1"/>
<text x="189.7" y="637.05" font-size="5.8" font-weight="bold" text-anchor="end" fill="#111">NES: -2.06</text>
<text x="189.7" y="643.65" font-size="5.8" font-weight="bold" text-anchor="end" fill="#111">FDR: 0.0</text>
<text x="207.5" y="606.3" font-size="7.6" font-weight="normal" text-anchor="start" fill="#1a1a1a" stroke="#1a1a1a" stroke-width="0.15" textLength="77.9" lengthAdjust="spacingAndGlyphs">Hypomethylated genes</text>
<text x="215.2" y="616" font-size="7.6" font-weight="normal" text-anchor="start" fill="#1a1a1a" stroke="#1a1a1a" stroke-width="0.15" textLength="62.8" lengthAdjust="spacingAndGlyphs">in patient cluster 5</text>
<text x="219" y="624.6" font-size="7.6" font-weight="normal" text-anchor="start" fill="#1a1a1a" stroke="#1a1a1a" stroke-width="0.15" textLength="54.8" lengthAdjust="spacingAndGlyphs">(Figueroa 2010)</text>
<text x="201.39999999999998" y="664.5" font-size="5" font-weight="bold" fill="#222" transform="rotate(-90 201.6 663.5)" textLength="38" lengthAdjust="spacingAndGlyphs">Enrichment score</text>
<text x="207.2" y="658.0" font-size="4.2" font-weight="normal" fill="#666" transform="rotate(-90 207.2 658.0)" textLength="24" lengthAdjust="spacingAndGlyphs">-0.  -0.  -0.  -0.  -0.</text>
<text x="211.6" y="658.0" font-size="4.2" font-weight="normal" fill="#666" transform="rotate(-90 211.6 658.0)" textLength="26" lengthAdjust="spacingAndGlyphs">5 4 3 2 1 0</text>
<line x1="214.2" y1="633" x2="277.3" y2="633" stroke="#ccc" stroke-width="0.6"/>
<rect x="216.32" y="659" width="1.4" height="9" fill="#888"/><rect x="218.21" y="659" width="1.0" height="9" fill="#777"/><rect x="219.99" y="659" width="1.0" height="9" fill="#777"/><rect x="224.36" y="659" width="1.0" height="9" fill="#333"/><rect x="225.04" y="659" width="1.0" height="9" fill="#999"/><rect x="228.02" y="659" width="1.4" height="9" fill="#555"/><rect x="228.78" y="659" width="0.8" height="9" fill="#666"/><rect x="240.54" y="659" width="0.6" height="9" fill="#666"/><rect x="243.90" y="659" width="0.8" height="9" fill="#333"/><rect x="245.21" y="659" width="0.6" height="9" fill="#777"/><rect x="246.87" y="659" width="0.6" height="9" fill="#333"/><rect x="251.63" y="659" width="0.8" height="9" fill="#888"/><rect x="255.27" y="659" width="1.0" height="9" fill="#999"/><rect x="260.20" y="659" width="1.0" height="9" fill="#888"/><rect x="266.46" y="659" width="1.0" height="9" fill="#888"/>
<rect x="214.2" y="668" width="59.5" height="3.5" fill="url(#strip)"/>
<line x1="214.2" y1="659" x2="277.3" y2="659" stroke="#444" stroke-width="0.5"/>
<path d="M214.20,632.88 C215.39,633.10 219.16,633.65 221.34,634.25 C223.52,634.85 225.80,636.18 227.29,636.45 C228.78,636.73 228.98,635.58 230.26,635.90 C231.55,636.22 231.75,636.36 235.02,638.38 C238.30,640.39 244.94,644.79 249.90,648.00 C254.86,651.21 261.80,656.34 264.77,657.62 C267.75,658.91 266.76,655.84 267.75,655.70 C268.74,655.56 269.73,657.99 270.72,656.80 C271.72,655.61 273.20,649.92 273.70,648.55" fill="none" stroke="#6ed06e" stroke-width="1.1"/>
<rect x="214.2" y="631.5" width="63.10" height="40.0" fill="none" stroke="#222" stroke-width="1.1"/>
<text x="273.3" y="637.3" font-size="5.8" font-weight="bold" text-anchor="end" fill="#111">NES: 1.44</text>
<text x="273.3" y="643.9" font-size="5.8" font-weight="bold" text-anchor="end" fill="#111">FDR : 0.03</text>
<text x="300.2" y="606.3" font-size="7.6" font-weight="normal" text-anchor="start" fill="#1a1a1a" stroke="#1a1a1a" stroke-width="0.15" textLength="59.0" lengthAdjust="spacingAndGlyphs">Genes up in GMP</text>
<text x="296.3" y="616" font-size="7.6" font-weight="normal" text-anchor="start" fill="#1a1a1a" stroke="#1a1a1a" stroke-width="0.15" textLength="66.7" lengthAdjust="spacingAndGlyphs">(Novershtern 2011)</text>
<text x="287.59999999999997" y="665" font-size="5" font-weight="bold" fill="#222" transform="rotate(-90 287.79999999999995 664)" textLength="38" lengthAdjust="spacingAndGlyphs">Enrichment score</text>
<text x="293.4" y="658.5" font-size="4.2" font-weight="normal" fill="#666" transform="rotate(-90 293.4 658.5)" textLength="24" lengthAdjust="spacingAndGlyphs">-0.  -0.  -0.  -0.  -0.</text>
<text x="297.79999999999995" y="658.5" font-size="4.2" font-weight="normal" fill="#666" transform="rotate(-90 297.79999999999995 658.5)" textLength="26" lengthAdjust="spacingAndGlyphs">5 4 3 2 1 0</text>
<line x1="300.4" y1="634" x2="362.5" y2="634" stroke="#ccc" stroke-width="0.6"/>
<rect x="301.20" y="659.6" width="1.4" height="8.899999999999977" fill="#333"/><rect x="302.19" y="659.6" width="1.4" height="8.899999999999977" fill="#000"/><rect x="303.59" y="659.6" width="1.0" height="8.899999999999977" fill="#111"/><rect x="304.66" y="659.6" width="1.0" height="8.899999999999977" fill="#111"/><rect x="305.41" y="659.6" width="0.8" height="8.899999999999977" fill="#000"/><rect x="306.60" y="659.6" width="0.6" height="8.899999999999977" fill="#111"/><rect x="307.26" y="659.6" width="0.8" height="8.899999999999977" fill="#222"/><rect x="307.98" y="659.6" width="1.0" height="8.899999999999977" fill="#000"/><rect x="308.92" y="659.6" width="0.6" height="8.899999999999977" fill="#000"/><rect x="310.01" y="659.6" width="1.0" height="8.899999999999977" fill="#111"/><rect x="311.35" y="659.6" width="1.0" height="8.899999999999977" fill="#222"/><rect x="312.08" y="659.6" width="1.4" height="8.899999999999977" fill="#000"/><rect x="313.41" y="659.6" width="0.8" height="8.899999999999977" fill="#555"/><rect x="314.55" y="659.6" width="1.4" height="8.899999999999977" fill="#222"/><rect x="315.43" y="659.6" width="0.6" height="8.899999999999977" fill="#333"/><rect x="316.42" y="659.6" width="0.6" height="8.899999999999977" fill="#555"/><rect x="317.57" y="659.6" width="0.6" height="8.899999999999977" fill="#111"/><rect x="320.35" y="659.6" width="1.0" height="8.899999999999977" fill="#555"/><rect x="325.67" y="659.6" width="1.4" height="8.899999999999977" fill="#222"/><rect x="326.90" y="659.6" width="1.4" height="8.899999999999977" fill="#333"/><rect x="328.10" y="659.6" width="0.6" height="8.899999999999977" fill="#000"/><rect x="330.52" y="659.6" width="0.8" height="8.899999999999977" fill="#111"/><rect x="331.51" y="659.6" width="1.0" height="8.899999999999977" fill="#555"/><rect x="333.17" y="659.6" width="1.4" height="8.899999999999977" fill="#000"/><rect x="334.46" y="659.6" width="0.8" height="8.899999999999977" fill="#555"/><rect x="335.11" y="659.6" width="1.0" height="8.899999999999977" fill="#000"/><rect x="336.20" y="659.6" width="1.4" height="8.899999999999977" fill="#222"/><rect x="337.37" y="659.6" width="0.8" height="8.899999999999977" fill="#555"/><rect x="338.13" y="659.6" width="1.0" height="8.899999999999977" fill="#111"/><rect x="338.98" y="659.6" width="0.6" height="8.899999999999977" fill="#000"/><rect x="340.33" y="659.6" width="0.8" height="8.899999999999977" fill="#000"/><rect x="341.49" y="659.6" width="0.6" height="8.899999999999977" fill="#222"/><rect x="342.59" y="659.6" width="0.6" height="8.899999999999977" fill="#555"/><rect x="343.97" y="659.6" width="1.4" height="8.899999999999977" fill="#222"/><rect x="345.03" y="659.6" width="0.8" height="8.899999999999977" fill="#111"/><rect x="346.35" y="659.6" width="1.4" height="8.899999999999977" fill="#222"/><rect x="347.13" y="659.6" width="0.6" height="8.899999999999977" fill="#333"/><rect x="348.48" y="659.6" width="1.4" height="8.899999999999977" fill="#333"/><rect x="349.25" y="659.6" width="1.0" height="8.899999999999977" fill="#555"/><rect x="350.63" y="659.6" width="0.6" height="8.899999999999977" fill="#555"/><rect x="351.43" y="659.6" width="1.0" height="8.899999999999977" fill="#222"/><rect x="352.25" y="659.6" width="1.4" height="8.899999999999977" fill="#222"/><rect x="353.29" y="659.6" width="0.8" height="8.899999999999977" fill="#222"/><rect x="354.16" y="659.6" width="1.4" height="8.899999999999977" fill="#111"/><rect x="354.88" y="659.6" width="1.0" height="8.899999999999977" fill="#222"/><rect x="356.11" y="659.6" width="0.6" height="8.899999999999977" fill="#222"/><rect x="356.87" y="659.6" width="1.4" height="8.899999999999977" fill="#222"/><rect x="357.88" y="659.6" width="0.8" height="8.899999999999977" fill="#111"/>
<rect x="300.4" y="668.5" width="58.5" height="2.7000000000000455" fill="url(#strip)"/>
<line x1="300.4" y1="659.6" x2="362.5" y2="659.6" stroke="#444" stroke-width="0.5"/>
<path d="M300.40,633.10 C301.86,633.29 305.76,632.78 309.17,634.21 C312.59,635.63 316.98,638.72 320.88,641.66 C324.77,644.60 328.97,649.25 332.57,651.87 C336.18,654.49 339.59,656.29 342.52,657.39 C345.44,658.50 348.18,658.82 350.12,658.50 C352.07,658.17 353.05,658.04 354.22,655.46 C355.39,652.88 356.37,646.77 357.14,643.04 C357.92,639.31 358.61,634.76 358.90,633.10" fill="none" stroke="#6ed06e" stroke-width="1.1"/>
<rect x="300.4" y="632" width="62.10" height="39.200000000000045" fill="none" stroke="#222" stroke-width="1.1"/>
<text x="358.5" y="637.8" font-size="5.8" font-weight="bold" text-anchor="end" fill="#111">NES: -2.37</text>
<text x="358.5" y="644.4" font-size="5.8" font-weight="bold" text-anchor="end" fill="#111">FDR: 0.0</text>
<text x="381.2" y="606.3" font-size="7.6" font-weight="normal" text-anchor="start" fill="#1a1a1a" stroke="#1a1a1a" stroke-width="0.15" textLength="61.8" lengthAdjust="spacingAndGlyphs">CEBP&#945;  targets up</text>
<text x="390" y="615" font-size="7.6" font-weight="normal" text-anchor="start" fill="#1a1a1a" stroke="#1a1a1a" stroke-width="0.15" textLength="43.8" lengthAdjust="spacingAndGlyphs">(Tavor 2003)</text>
<text x="369.9" y="665.1" font-size="5" font-weight="bold" fill="#222" transform="rotate(-90 370.09999999999997 664.1)" textLength="38" lengthAdjust="spacingAndGlyphs">Enrichment score</text>
<text x="375.7" y="658.6" font-size="4.2" font-weight="normal" fill="#666" transform="rotate(-90 375.7 658.6)" textLength="24" lengthAdjust="spacingAndGlyphs">-0.  -0.  -0.  -0.  -0.</text>
<text x="380.09999999999997" y="658.6" font-size="4.2" font-weight="normal" fill="#666" transform="rotate(-90 380.09999999999997 658.6)" textLength="26" lengthAdjust="spacingAndGlyphs">5 4 3 2 1 0</text>
<line x1="382.7" y1="634" x2="445.8" y2="634" stroke="#ccc" stroke-width="0.6"/>
<rect x="383.50" y="659.8" width="1.4" height="9.200000000000045" fill="#333"/><rect x="387.66" y="659.8" width="1.4" height="9.200000000000045" fill="#333"/><rect x="391.95" y="659.8" width="1.4" height="9.200000000000045" fill="#999"/><rect x="395.60" y="659.8" width="0.6" height="9.200000000000045" fill="#333"/><rect x="397.90" y="659.8" width="0.8" height="9.200000000000045" fill="#777"/><rect x="402.87" y="659.8" width="1.4" height="9.200000000000045" fill="#888"/><rect x="404.15" y="659.8" width="0.8" height="9.200000000000045" fill="#888"/><rect x="406.42" y="659.8" width="1.0" height="9.200000000000045" fill="#999"/><rect x="411.96" y="659.8" width="0.8" height="9.200000000000045" fill="#888"/><rect x="412.88" y="659.8" width="0.6" height="9.200000000000045" fill="#666"/><rect x="415.03" y="659.8" width="0.8" height="9.200000000000045" fill="#333"/><rect x="426.92" y="659.8" width="0.6" height="9.200000000000045" fill="#777"/><rect x="437.03" y="659.8" width="0.6" height="9.200000000000045" fill="#333"/><rect x="438.98" y="659.8" width="0.6" height="9.200000000000045" fill="#999"/><rect x="441.00" y="659.8" width="1.4" height="9.200000000000045" fill="#666"/>
<rect x="382.7" y="669" width="59.5" height="2.7999999999999545" fill="url(#strip)"/>
<line x1="382.7" y1="659.8" x2="445.8" y2="659.8" stroke="#444" stroke-width="0.5"/>
<path d="M382.70,633.49 C384.19,633.95 388.65,635.33 391.62,636.25 C394.60,637.18 397.58,637.64 400.55,639.02 C403.52,640.41 406.30,642.40 409.47,644.56 C412.65,646.73 416.32,649.87 419.59,652.04 C422.86,654.21 426.73,656.52 429.11,657.58 C431.49,658.65 432.58,658.69 433.87,658.41 C435.16,658.14 435.95,656.71 436.84,655.92 C437.74,655.14 438.33,655.60 439.22,653.71 C440.12,651.81 441.70,646.09 442.20,644.56" fill="none" stroke="#6ed06e" stroke-width="1.1"/>
<rect x="382.7" y="632.1" width="63.10" height="39.69999999999993" fill="none" stroke="#222" stroke-width="1.1"/>
<text x="441.8" y="637.9" font-size="5.8" font-weight="bold" text-anchor="end" fill="#111">NES: -1.45</text>
<text x="441.8" y="644.5" font-size="5.8" font-weight="bold" text-anchor="end" fill="#111">FDR : 0.03</text>
<text x="72.6" y="554.6" font-size="8.2" font-weight="bold" text-anchor="start" fill="#111" stroke="#111" stroke-width="0.18" textLength="39.4" lengthAdjust="spacingAndGlyphs">MN1+ND13</text>
<text x="92.2" y="563.8" font-size="8.2" font-weight="bold" text-anchor="middle" fill="#111" stroke="#111" stroke-width="0.18">vs</text>
<text x="80.9" y="573.0" font-size="8.2" font-weight="bold" text-anchor="start" fill="#111" stroke="#111" stroke-width="0.18" textLength="19" lengthAdjust="spacingAndGlyphs">ND13</text>
<text x="72.6" y="646.3" font-size="8.2" font-weight="bold" text-anchor="start" fill="#111" stroke="#111" stroke-width="0.18" textLength="39.4" lengthAdjust="spacingAndGlyphs">MN1+ND13</text>
<text x="92.2" y="655.5" font-size="8.2" font-weight="bold" text-anchor="middle" fill="#111" stroke="#111" stroke-width="0.18">vs</text>
<text x="80.9" y="665.0" font-size="8.2" font-weight="bold" text-anchor="start" fill="#111" stroke="#111" stroke-width="0.18" textLength="19" lengthAdjust="spacingAndGlyphs">ND13</text>
<line x1="125" y1="592.5" x2="441.5" y2="592.5" stroke="#333" stroke-width="1.0" stroke-dasharray="3,2"/>
</svg></body></html>
